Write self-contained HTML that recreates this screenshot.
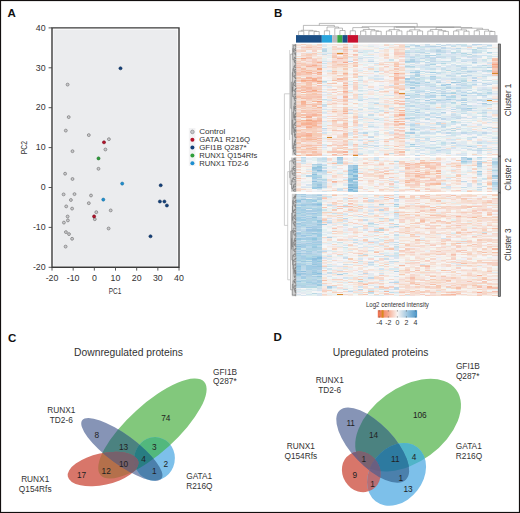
<!DOCTYPE html>
<html><head><meta charset="utf-8"><style>
html,body{margin:0;padding:0;background:#fff;}
body{width:520px;height:513px;overflow:hidden;}
svg{display:block;font-family:"Liberation Sans", sans-serif;}
</style></head><body>
<svg width="520" height="513" viewBox="0 0 520 513">
<rect width="520" height="513" fill="#fff"/>
<rect x="0.5" y="0.5" width="519" height="512" fill="none" stroke="#120e0e" stroke-width="1.2"/>
<text x="7.6" y="16.8" font-size="11.5" font-weight="bold" fill="#111">A</text>
<text x="274" y="17.2" font-size="11.5" font-weight="bold" fill="#111">B</text>
<text x="8" y="341.5" font-size="11.5" font-weight="bold" fill="#111">C</text>
<text x="273.5" y="341.3" font-size="11.5" font-weight="bold" fill="#111">D</text>
<rect x="53.4" y="29.6" width="124.0" height="236.3" fill="#ebecee"/>
<path d="M52 27.9H179V267.3H52Z" fill="none" stroke="#3a3a3a" stroke-width="1.4"/>
<line x1="48.6" x2="52" y1="27.90" y2="27.90" stroke="#444" stroke-width="0.9"/>
<text x="45.6" y="30.60" font-size="8.8" fill="#333" text-anchor="end">40</text>
<line x1="48.6" x2="52" y1="67.80" y2="67.80" stroke="#444" stroke-width="0.9"/>
<text x="45.6" y="70.50" font-size="8.8" fill="#333" text-anchor="end">30</text>
<line x1="48.6" x2="52" y1="107.70" y2="107.70" stroke="#444" stroke-width="0.9"/>
<text x="45.6" y="110.40" font-size="8.8" fill="#333" text-anchor="end">20</text>
<line x1="48.6" x2="52" y1="147.60" y2="147.60" stroke="#444" stroke-width="0.9"/>
<text x="45.6" y="150.30" font-size="8.8" fill="#333" text-anchor="end">10</text>
<line x1="48.6" x2="52" y1="187.50" y2="187.50" stroke="#444" stroke-width="0.9"/>
<text x="45.6" y="190.20" font-size="8.8" fill="#333" text-anchor="end">0</text>
<line x1="48.6" x2="52" y1="227.40" y2="227.40" stroke="#444" stroke-width="0.9"/>
<text x="45.6" y="230.10" font-size="8.8" fill="#333" text-anchor="end">-10</text>
<line x1="48.6" x2="52" y1="267.30" y2="267.30" stroke="#444" stroke-width="0.9"/>
<text x="45.6" y="270.00" font-size="8.8" fill="#333" text-anchor="end">-20</text>
<line x1="52.00" x2="52.00" y1="267.3" y2="270.6" stroke="#444" stroke-width="0.9"/>
<text x="52.00" y="280.6" font-size="8.8" fill="#333" text-anchor="middle">-20</text>
<line x1="73.17" x2="73.17" y1="267.3" y2="270.6" stroke="#444" stroke-width="0.9"/>
<text x="73.17" y="280.6" font-size="8.8" fill="#333" text-anchor="middle">-10</text>
<line x1="94.34" x2="94.34" y1="267.3" y2="270.6" stroke="#444" stroke-width="0.9"/>
<text x="94.34" y="280.6" font-size="8.8" fill="#333" text-anchor="middle">0</text>
<line x1="115.51" x2="115.51" y1="267.3" y2="270.6" stroke="#444" stroke-width="0.9"/>
<text x="115.51" y="280.6" font-size="8.8" fill="#333" text-anchor="middle">10</text>
<line x1="136.68" x2="136.68" y1="267.3" y2="270.6" stroke="#444" stroke-width="0.9"/>
<text x="136.68" y="280.6" font-size="8.8" fill="#333" text-anchor="middle">20</text>
<line x1="157.85" x2="157.85" y1="267.3" y2="270.6" stroke="#444" stroke-width="0.9"/>
<text x="157.85" y="280.6" font-size="8.8" fill="#333" text-anchor="middle">30</text>
<line x1="179.02" x2="179.02" y1="267.3" y2="270.6" stroke="#444" stroke-width="0.9"/>
<text x="179.02" y="280.6" font-size="8.8" fill="#333" text-anchor="middle">40</text>
<text x="115" y="294.3" font-size="9.5" fill="#333" text-anchor="middle" textLength="12.6" lengthAdjust="spacingAndGlyphs">PC1</text>
<text transform="translate(26.7,147.6) rotate(-90)" font-size="9.5" fill="#333" text-anchor="middle" textLength="13.2" lengthAdjust="spacingAndGlyphs">PC2</text>
<circle cx="67.6" cy="84.6" r="1.45" fill="#c9c9cb" stroke="#7d7d7f" stroke-width="0.75"/>
<circle cx="68.7" cy="117.1" r="1.45" fill="#c9c9cb" stroke="#7d7d7f" stroke-width="0.75"/>
<circle cx="65.8" cy="130.6" r="1.45" fill="#c9c9cb" stroke="#7d7d7f" stroke-width="0.75"/>
<circle cx="88.8" cy="135.1" r="1.45" fill="#c9c9cb" stroke="#7d7d7f" stroke-width="0.75"/>
<circle cx="108.9" cy="139.2" r="1.45" fill="#c9c9cb" stroke="#7d7d7f" stroke-width="0.75"/>
<circle cx="105.4" cy="149.5" r="1.45" fill="#c9c9cb" stroke="#7d7d7f" stroke-width="0.75"/>
<circle cx="72.5" cy="151.2" r="1.45" fill="#c9c9cb" stroke="#7d7d7f" stroke-width="0.75"/>
<circle cx="98.5" cy="168.8" r="1.45" fill="#c9c9cb" stroke="#7d7d7f" stroke-width="0.75"/>
<circle cx="65.1" cy="173.7" r="1.45" fill="#c9c9cb" stroke="#7d7d7f" stroke-width="0.75"/>
<circle cx="72.5" cy="179" r="1.45" fill="#c9c9cb" stroke="#7d7d7f" stroke-width="0.75"/>
<circle cx="63.6" cy="194.4" r="1.45" fill="#c9c9cb" stroke="#7d7d7f" stroke-width="0.75"/>
<circle cx="74.5" cy="194.1" r="1.45" fill="#c9c9cb" stroke="#7d7d7f" stroke-width="0.75"/>
<circle cx="91" cy="195.5" r="1.45" fill="#c9c9cb" stroke="#7d7d7f" stroke-width="0.75"/>
<circle cx="70.9" cy="200" r="1.45" fill="#c9c9cb" stroke="#7d7d7f" stroke-width="0.75"/>
<circle cx="88.8" cy="203.2" r="1.45" fill="#c9c9cb" stroke="#7d7d7f" stroke-width="0.75"/>
<circle cx="66.2" cy="206.4" r="1.45" fill="#c9c9cb" stroke="#7d7d7f" stroke-width="0.75"/>
<circle cx="72.1" cy="208.6" r="1.45" fill="#c9c9cb" stroke="#7d7d7f" stroke-width="0.75"/>
<circle cx="110.7" cy="210.4" r="1.45" fill="#c9c9cb" stroke="#7d7d7f" stroke-width="0.75"/>
<circle cx="96.3" cy="212.2" r="1.45" fill="#c9c9cb" stroke="#7d7d7f" stroke-width="0.75"/>
<circle cx="67.6" cy="216.5" r="1.45" fill="#c9c9cb" stroke="#7d7d7f" stroke-width="0.75"/>
<circle cx="67.9" cy="220.4" r="1.45" fill="#c9c9cb" stroke="#7d7d7f" stroke-width="0.75"/>
<circle cx="94.8" cy="219.2" r="1.45" fill="#c9c9cb" stroke="#7d7d7f" stroke-width="0.75"/>
<circle cx="63.9" cy="222.6" r="1.45" fill="#c9c9cb" stroke="#7d7d7f" stroke-width="0.75"/>
<circle cx="108.6" cy="228.5" r="1.45" fill="#c9c9cb" stroke="#7d7d7f" stroke-width="0.75"/>
<circle cx="65.9" cy="232.1" r="1.45" fill="#c9c9cb" stroke="#7d7d7f" stroke-width="0.75"/>
<circle cx="69" cy="234.1" r="1.45" fill="#c9c9cb" stroke="#7d7d7f" stroke-width="0.75"/>
<circle cx="72.1" cy="238.8" r="1.45" fill="#c9c9cb" stroke="#7d7d7f" stroke-width="0.75"/>
<circle cx="65.6" cy="246.6" r="1.45" fill="#c9c9cb" stroke="#7d7d7f" stroke-width="0.75"/>
<circle cx="120.5" cy="68.3" r="1.55" fill="#13407a" stroke="#0b2a52" stroke-width="0.55"/>
<circle cx="104" cy="142.3" r="1.55" fill="#b5122a" stroke="#6e0a18" stroke-width="0.55"/>
<circle cx="98.5" cy="158.4" r="1.55" fill="#2e9e3a" stroke="#1d6a26" stroke-width="0.55"/>
<circle cx="122.2" cy="183.6" r="1.55" fill="#1e8fd0" stroke="#166a9a" stroke-width="0.55"/>
<circle cx="103.3" cy="199.6" r="1.55" fill="#1e8fd0" stroke="#166a9a" stroke-width="0.55"/>
<circle cx="94.1" cy="216.4" r="1.55" fill="#b5122a" stroke="#6e0a18" stroke-width="0.55"/>
<circle cx="160.7" cy="185.3" r="1.55" fill="#13407a" stroke="#0b2a52" stroke-width="0.55"/>
<circle cx="159.9" cy="201.5" r="1.55" fill="#13407a" stroke="#0b2a52" stroke-width="0.55"/>
<circle cx="164.4" cy="201.5" r="1.55" fill="#13407a" stroke="#0b2a52" stroke-width="0.55"/>
<circle cx="166.9" cy="205.5" r="1.55" fill="#13407a" stroke="#0b2a52" stroke-width="0.55"/>
<circle cx="150.5" cy="236.3" r="1.55" fill="#13407a" stroke="#0b2a52" stroke-width="0.55"/>
<rect x="188.8" y="128" width="6.6" height="38" fill="#f3f3f4"/>
<circle cx="192.4" cy="131.9" r="1.8" fill="#c9c9cb" stroke="#8a8a8c" stroke-width="0.7"/>
<text x="199.2" y="134.20" font-size="8.1" fill="#333" textLength="26.2" lengthAdjust="spacingAndGlyphs">Control</text>
<circle cx="192.4" cy="139.73" r="2" fill="#b5122a"/>
<text x="199.2" y="142.03" font-size="8.1" fill="#333" textLength="50.8" lengthAdjust="spacingAndGlyphs">GATA1 R216Q</text>
<circle cx="192.4" cy="147.56" r="2" fill="#13407a"/>
<text x="199.2" y="149.86" font-size="8.1" fill="#333" textLength="47.4" lengthAdjust="spacingAndGlyphs">GFI1B Q287*</text>
<circle cx="192.4" cy="155.39" r="2" fill="#2e9e3a"/>
<text x="199.2" y="157.69" font-size="8.1" fill="#333" textLength="58.1" lengthAdjust="spacingAndGlyphs">RUNX1 Q154Rfs</text>
<circle cx="192.4" cy="163.22" r="2" fill="#1e8fd0"/>
<text x="199.2" y="165.52" font-size="8.1" fill="#333" textLength="49.3" lengthAdjust="spacingAndGlyphs">RUNX1 TD2-6</text>
<defs><filter id="hb" x="-1%" y="-1%" width="102%" height="102%"><feGaussianBlur stdDeviation="0.4"/></filter></defs>
<g filter="url(#hb)"><g transform="translate(296.0,43.7) scale(5.1667,1)" shape-rendering="crispEdges"><path fill="#f6e4de" d="M0 0.00h1v1.17h-1zM7 0.00h1v1.17h-1zM8 1.12h1v1.17h-1zM19 2.24h1v1.17h-1zM0 3.37h1v1.17h-1zM0 5.61h1v1.17h-1zM11 5.61h1v1.17h-1zM7 6.73h1v1.17h-1zM10 10.10h1v1.17h-1zM3 12.34h1v1.17h-1zM4 12.34h1v1.17h-1zM11 12.34h1v1.17h-1zM1 13.46h1v1.17h-1zM20 13.46h1v1.17h-1zM4 15.71h1v1.17h-1zM2 17.95h1v1.17h-1zM6 17.95h1v1.17h-1zM16 17.95h1v1.17h-1zM9 19.07h1v1.17h-1zM20 19.07h1v1.17h-1zM12 20.20h1v1.17h-1zM15 20.20h1v1.17h-1zM37 20.20h1v1.17h-1zM18 21.32h1v1.17h-1zM14 22.44h1v1.17h-1zM20 22.44h1v1.17h-1zM6 23.56h1v1.17h-1zM10 23.56h1v1.17h-1zM13 23.56h1v1.17h-1zM11 24.68h1v1.17h-1zM12 28.05h1v1.17h-1zM19 28.05h1v1.17h-1zM8 29.17h1v1.17h-1zM14 29.17h1v1.17h-1zM20 31.42h1v1.17h-1zM0 32.54h1v1.17h-1zM14 34.78h1v1.17h-1zM38 34.78h1v1.17h-1zM9 37.03h1v1.17h-1zM17 37.03h1v1.17h-1zM7 38.15h1v1.17h-1zM13 38.15h1v1.17h-1zM18 38.15h1v1.17h-1zM19 41.51h1v1.17h-1zM19 44.88h1v1.17h-1zM11 46.00h1v1.17h-1zM1 47.12h1v1.17h-1zM6 48.25h1v1.17h-1zM16 48.25h1v1.17h-1zM17 48.25h1v1.17h-1zM8 49.37h1v1.17h-1zM14 49.37h1v1.17h-1zM19 51.61h1v1.17h-1zM7 52.73h1v1.17h-1zM10 53.86h1v1.17h-1zM17 53.86h1v1.17h-1zM0 56.10h1v1.17h-1zM4 56.10h1v1.17h-1zM8 56.10h1v1.17h-1zM20 56.10h1v1.17h-1zM6 57.22h1v1.17h-1zM17 57.22h1v1.17h-1zM19 57.22h1v1.17h-1zM9 58.34h1v1.17h-1zM6 59.47h1v1.17h-1zM4 61.71h1v1.17h-1zM11 62.83h1v1.17h-1zM19 63.95h1v1.17h-1zM10 66.20h1v1.17h-1zM0 67.32h1v1.17h-1zM18 67.32h1v1.17h-1zM20 67.32h1v1.17h-1zM8 68.44h1v1.17h-1zM6 69.56h1v1.17h-1zM9 70.69h1v1.17h-1zM8 71.81h1v1.17h-1zM9 72.93h1v1.17h-1zM20 72.93h1v1.17h-1zM0 74.05h1v1.17h-1zM13 74.05h1v1.17h-1zM36 79.66h1v1.17h-1zM20 80.78h1v1.17h-1zM11 81.91h1v1.17h-1zM33 81.91h1v1.17h-1zM0 84.15h1v1.17h-1zM31 84.15h1v1.17h-1zM9 86.39h1v1.17h-1zM8 87.52h1v1.17h-1zM38 87.52h1v1.17h-1zM9 88.64h1v1.17h-1zM19 88.64h1v1.17h-1zM7 89.76h1v1.17h-1zM8 89.76h1v1.17h-1zM6 90.88h1v1.17h-1zM20 93.13h1v1.17h-1zM8 94.25h1v1.17h-1zM29 94.25h1v1.17h-1zM35 95.37h1v1.17h-1zM17 96.49h1v1.17h-1zM35 96.49h1v1.17h-1zM8 97.61h1v1.17h-1zM37 97.61h1v1.17h-1zM7 98.74h1v1.17h-1zM20 98.74h1v1.17h-1zM8 99.86h1v1.17h-1zM18 100.98h1v1.17h-1zM6 102.10h1v1.17h-1zM1 103.22h1v1.17h-1zM20 103.22h1v1.17h-1zM1 104.35h1v1.17h-1zM18 104.35h1v1.17h-1zM16 106.59h1v1.17h-1zM18 106.59h1v1.17h-1zM2 108.83h1v1.17h-1zM10 109.96h1v1.17h-1zM12 111.08h1v1.17h-1zM17 111.08h1v1.17h-1zM24 111.08h1v1.17h-1zM35 111.08h1v1.17h-1zM27 113.60h1v1.18h-1zM37 113.60h1v1.18h-1zM9 114.73h1v1.18h-1zM30 114.73h1v1.18h-1zM17 115.86h1v1.18h-1zM7 118.13h1v1.18h-1zM16 118.13h1v1.18h-1zM30 118.13h1v1.18h-1zM31 118.13h1v1.18h-1zM29 119.26h1v1.18h-1zM34 119.26h1v1.18h-1zM2 120.39h1v1.18h-1zM15 120.39h1v1.18h-1zM18 120.39h1v1.18h-1zM30 121.53h1v1.18h-1zM32 121.53h1v1.18h-1zM1 122.66h1v1.18h-1zM8 123.79h1v1.18h-1zM37 123.79h1v1.18h-1zM9 126.05h1v1.18h-1zM20 126.05h1v1.18h-1zM6 127.19h1v1.18h-1zM31 127.19h1v1.18h-1zM34 127.19h1v1.18h-1zM13 128.32h1v1.18h-1zM20 128.32h1v1.18h-1zM22 128.32h1v1.18h-1zM31 128.32h1v1.18h-1zM2 129.45h1v1.18h-1zM22 132.85h1v1.18h-1zM1 133.98h1v1.18h-1zM13 133.98h1v1.18h-1zM34 133.98h1v1.18h-1zM19 135.11h1v1.18h-1zM26 137.38h1v1.18h-1zM14 138.51h1v1.18h-1zM25 138.51h1v1.18h-1zM36 138.51h1v1.18h-1zM0 139.64h1v1.18h-1zM20 139.64h1v1.18h-1zM21 139.64h1v1.18h-1zM24 140.77h1v1.18h-1zM6 143.04h1v1.18h-1zM30 143.04h1v1.18h-1zM31 143.04h1v1.18h-1zM7 144.17h1v1.18h-1zM15 144.17h1v1.18h-1zM23 145.30h1v1.18h-1zM27 145.30h1v1.18h-1zM37 145.30h1v1.18h-1zM6 146.44h1v1.18h-1zM21 146.44h1v1.18h-1zM2 147.57h1v1.18h-1zM9 147.57h1v1.18h-1zM20 147.57h1v1.18h-1zM30 147.57h1v1.18h-1zM34 147.57h1v1.18h-1zM35 150.00h1v1.17h-1zM5 151.12h1v1.17h-1zM28 151.12h1v1.17h-1zM31 151.12h1v1.17h-1zM28 152.23h1v1.17h-1zM11 153.35h1v1.17h-1zM23 153.35h1v1.17h-1zM26 153.35h1v1.17h-1zM30 153.35h1v1.17h-1zM11 154.47h1v1.17h-1zM30 154.47h1v1.17h-1zM37 154.47h1v1.17h-1zM22 155.58h1v1.17h-1zM16 156.70h1v1.17h-1zM23 156.70h1v1.17h-1zM6 157.81h1v1.17h-1zM11 157.81h1v1.17h-1zM35 157.81h1v1.17h-1zM38 157.81h1v1.17h-1zM22 158.93h1v1.17h-1zM32 158.93h1v1.17h-1zM35 158.93h1v1.17h-1zM5 160.05h1v1.17h-1zM25 161.16h1v1.17h-1zM34 161.16h1v1.17h-1zM7 162.28h1v1.17h-1zM10 163.40h1v1.17h-1zM17 163.40h1v1.17h-1zM22 163.40h1v1.17h-1zM23 163.40h1v1.17h-1zM10 164.51h1v1.17h-1zM23 165.63h1v1.17h-1zM25 165.63h1v1.17h-1zM31 165.63h1v1.17h-1zM38 165.63h1v1.17h-1zM20 166.74h1v1.17h-1zM26 166.74h1v1.17h-1zM32 166.74h1v1.17h-1zM33 166.74h1v1.17h-1zM30 167.86h1v1.17h-1zM16 168.98h1v1.17h-1zM20 170.09h1v1.17h-1zM32 170.09h1v1.17h-1zM33 170.09h1v1.17h-1zM34 170.09h1v1.17h-1zM35 170.09h1v1.17h-1zM5 171.21h1v1.17h-1zM11 172.33h1v1.17h-1zM22 172.33h1v1.17h-1zM24 172.33h1v1.17h-1zM30 172.33h1v1.17h-1zM33 172.33h1v1.17h-1zM29 173.44h1v1.17h-1zM30 173.44h1v1.17h-1zM15 174.56h1v1.17h-1zM22 174.56h1v1.17h-1zM7 175.68h1v1.17h-1zM17 175.68h1v1.17h-1zM21 175.68h1v1.17h-1zM36 176.79h1v1.17h-1zM38 176.79h1v1.17h-1zM27 177.91h1v1.17h-1zM30 177.91h1v1.17h-1zM25 179.02h1v1.17h-1zM7 180.14h1v1.17h-1zM21 180.14h1v1.17h-1zM24 180.14h1v1.17h-1zM30 180.14h1v1.17h-1zM34 180.14h1v1.17h-1zM23 181.26h1v1.17h-1zM29 181.26h1v1.17h-1zM22 182.37h1v1.17h-1zM31 182.37h1v1.17h-1zM35 182.37h1v1.17h-1zM7 183.49h1v1.17h-1zM8 183.49h1v1.17h-1zM13 183.49h1v1.17h-1zM32 183.49h1v1.17h-1zM15 184.61h1v1.17h-1zM20 184.61h1v1.17h-1zM22 184.61h1v1.17h-1zM31 184.61h1v1.17h-1zM11 185.72h1v1.17h-1zM22 185.72h1v1.17h-1zM26 185.72h1v1.17h-1zM27 185.72h1v1.17h-1zM28 185.72h1v1.17h-1zM30 185.72h1v1.17h-1zM20 186.84h1v1.17h-1zM35 186.84h1v1.17h-1zM38 186.84h1v1.17h-1zM9 187.95h1v1.17h-1zM37 187.95h1v1.17h-1zM18 189.07h1v1.17h-1zM32 189.07h1v1.17h-1zM33 189.07h1v1.17h-1zM24 190.19h1v1.17h-1zM33 190.19h1v1.17h-1zM34 190.19h1v1.17h-1zM36 190.19h1v1.17h-1zM30 191.30h1v1.17h-1zM32 191.30h1v1.17h-1zM37 191.30h1v1.17h-1zM7 192.42h1v1.17h-1zM10 192.42h1v1.17h-1zM14 192.42h1v1.17h-1zM25 192.42h1v1.17h-1zM10 193.54h1v1.17h-1zM12 193.54h1v1.17h-1zM27 193.54h1v1.17h-1zM30 193.54h1v1.17h-1zM32 194.65h1v1.17h-1zM36 194.65h1v1.17h-1zM37 194.65h1v1.17h-1zM12 195.77h1v1.17h-1zM27 195.77h1v1.17h-1zM5 198.00h1v1.17h-1zM11 199.12h1v1.17h-1zM22 199.12h1v1.17h-1zM26 199.12h1v1.17h-1zM27 199.12h1v1.17h-1zM22 200.23h1v1.17h-1zM38 200.23h1v1.17h-1zM17 201.35h1v1.17h-1zM38 201.35h1v1.17h-1zM7 202.47h1v1.17h-1zM13 203.58h1v1.17h-1zM18 203.58h1v1.17h-1zM26 203.58h1v1.17h-1zM23 204.70h1v1.17h-1zM13 205.82h1v1.17h-1zM36 205.82h1v1.17h-1zM37 205.82h1v1.17h-1zM12 206.93h1v1.17h-1zM21 206.93h1v1.17h-1zM23 206.93h1v1.17h-1zM28 206.93h1v1.17h-1zM30 206.93h1v1.17h-1zM20 208.05h1v1.17h-1zM26 208.05h1v1.17h-1zM27 208.05h1v1.17h-1zM29 208.05h1v1.17h-1zM31 208.05h1v1.17h-1zM22 209.16h1v1.17h-1zM6 210.28h1v1.17h-1zM12 210.28h1v1.17h-1zM35 210.28h1v1.17h-1zM33 211.40h1v1.17h-1zM5 212.51h1v1.17h-1zM23 212.51h1v1.17h-1zM29 212.51h1v1.17h-1zM32 213.63h1v1.17h-1zM12 215.86h1v1.17h-1zM31 215.86h1v1.17h-1zM13 216.98h1v1.17h-1zM28 216.98h1v1.17h-1zM19 218.09h1v1.17h-1zM5 219.21h1v1.17h-1zM31 219.21h1v1.17h-1zM35 219.21h1v1.17h-1zM36 219.21h1v1.17h-1zM22 220.33h1v1.17h-1zM23 221.44h1v1.17h-1zM28 221.44h1v1.17h-1zM30 221.44h1v1.17h-1zM22 222.56h1v1.17h-1zM26 222.56h1v1.17h-1zM28 222.56h1v1.17h-1zM10 223.68h1v1.17h-1zM12 223.68h1v1.17h-1zM36 223.68h1v1.17h-1zM17 224.79h1v1.17h-1zM23 224.79h1v1.17h-1zM25 224.79h1v1.17h-1zM30 224.79h1v1.17h-1zM32 224.79h1v1.17h-1zM14 225.91h1v1.17h-1zM10 227.02h1v1.17h-1zM13 227.02h1v1.17h-1zM33 227.02h1v1.17h-1zM28 228.14h1v1.17h-1zM35 228.14h1v1.17h-1zM21 229.26h1v1.17h-1zM25 229.26h1v1.17h-1zM23 230.37h1v1.17h-1zM25 230.37h1v1.17h-1zM30 230.37h1v1.17h-1zM34 230.37h1v1.17h-1zM13 232.61h1v1.17h-1zM23 232.61h1v1.17h-1zM27 232.61h1v1.17h-1zM33 232.61h1v1.17h-1zM35 232.61h1v1.17h-1zM24 233.72h1v1.17h-1zM27 233.72h1v1.17h-1zM14 234.84h1v1.17h-1zM30 234.84h1v1.17h-1zM13 235.96h1v1.17h-1zM33 235.96h1v1.17h-1zM16 237.07h1v1.17h-1zM20 237.07h1v1.17h-1zM28 237.07h1v1.17h-1zM32 237.07h1v1.17h-1zM33 238.19h1v1.17h-1zM20 239.30h1v1.17h-1zM21 239.30h1v1.17h-1zM24 239.30h1v1.17h-1zM26 239.30h1v1.17h-1zM32 239.30h1v1.17h-1zM8 240.42h1v1.17h-1zM24 240.42h1v1.17h-1zM29 240.42h1v1.17h-1zM30 240.42h1v1.17h-1zM6 241.54h1v1.17h-1zM28 241.54h1v1.17h-1zM31 241.54h1v1.17h-1zM33 241.54h1v1.17h-1zM28 242.65h1v1.17h-1zM30 242.65h1v1.17h-1zM36 242.65h1v1.17h-1zM5 243.77h1v1.17h-1zM9 243.77h1v1.17h-1zM23 243.77h1v1.17h-1zM21 244.89h1v1.17h-1zM27 244.89h1v1.17h-1zM37 244.89h1v1.17h-1zM28 246.00h1v1.17h-1zM36 246.00h1v1.17h-1zM11 247.12h1v1.17h-1zM26 247.12h1v1.17h-1zM32 248.23h1v1.17h-1zM30 249.35h1v1.17h-1zM37 249.35h1v1.17h-1zM38 249.35h1v1.17h-1z"/><path fill="#f6d2c0" d="M1 0.00h1v1.17h-1zM19 5.61h1v1.17h-1zM1 6.73h1v1.17h-1zM20 7.85h1v1.17h-1zM20 10.10h1v1.17h-1zM17 11.22h1v1.17h-1zM9 12.34h1v1.17h-1zM0 16.83h1v1.17h-1zM4 16.83h1v1.17h-1zM9 16.83h1v1.17h-1zM19 17.95h1v1.17h-1zM16 20.20h1v1.17h-1zM8 21.32h1v1.17h-1zM19 21.32h1v1.17h-1zM4 22.44h1v1.17h-1zM7 23.56h1v1.17h-1zM1 25.81h1v1.17h-1zM3 25.81h1v1.17h-1zM2 26.93h1v1.17h-1zM8 31.42h1v1.17h-1zM18 32.54h1v1.17h-1zM19 32.54h1v1.17h-1zM11 33.66h1v1.17h-1zM2 34.78h1v1.17h-1zM0 37.03h1v1.17h-1zM0 41.51h1v1.17h-1zM1 41.51h1v1.17h-1zM11 42.64h1v1.17h-1zM19 42.64h1v1.17h-1zM4 43.76h1v1.17h-1zM20 43.76h1v1.17h-1zM9 49.37h1v1.17h-1zM0 51.61h1v1.17h-1zM4 51.61h1v1.17h-1zM3 53.86h1v1.17h-1zM7 56.10h1v1.17h-1zM3 59.47h1v1.17h-1zM11 59.47h1v1.17h-1zM6 60.59h1v1.17h-1zM2 62.83h1v1.17h-1zM20 62.83h1v1.17h-1zM4 63.95h1v1.17h-1zM4 67.32h1v1.17h-1zM0 68.44h1v1.17h-1zM3 68.44h1v1.17h-1zM4 71.81h1v1.17h-1zM4 72.93h1v1.17h-1zM0 75.17h1v1.17h-1zM20 75.17h1v1.17h-1zM0 76.30h1v1.17h-1zM11 76.30h1v1.17h-1zM11 77.42h1v1.17h-1zM0 78.54h1v1.17h-1zM9 81.91h1v1.17h-1zM3 85.27h1v1.17h-1zM2 86.39h1v1.17h-1zM3 86.39h1v1.17h-1zM0 87.52h1v1.17h-1zM3 88.64h1v1.17h-1zM3 92.00h1v1.17h-1zM9 93.13h1v1.17h-1zM11 93.13h1v1.17h-1zM10 95.37h1v1.17h-1zM9 96.49h1v1.17h-1zM20 97.61h1v1.17h-1zM1 99.86h1v1.17h-1zM4 103.22h1v1.17h-1zM0 104.35h1v1.17h-1zM3 104.35h1v1.17h-1zM10 105.47h1v1.17h-1zM19 105.47h1v1.17h-1zM2 107.71h1v1.17h-1zM8 111.08h1v1.17h-1zM0 115.86h1v1.18h-1zM15 115.86h1v1.18h-1zM20 117.00h1v1.18h-1zM36 118.13h1v1.18h-1zM9 119.26h1v1.18h-1zM18 119.26h1v1.18h-1zM20 119.26h1v1.18h-1zM30 119.26h1v1.18h-1zM21 120.39h1v1.18h-1zM25 120.39h1v1.18h-1zM23 121.53h1v1.18h-1zM24 121.53h1v1.18h-1zM26 121.53h1v1.18h-1zM34 121.53h1v1.18h-1zM30 122.66h1v1.18h-1zM25 127.19h1v1.18h-1zM6 128.32h1v1.18h-1zM23 130.58h1v1.18h-1zM23 132.85h1v1.18h-1zM34 132.85h1v1.18h-1zM37 132.85h1v1.18h-1zM28 136.25h1v1.18h-1zM31 136.25h1v1.18h-1zM34 136.25h1v1.18h-1zM22 137.38h1v1.18h-1zM23 138.51h1v1.18h-1zM37 138.51h1v1.18h-1zM25 139.64h1v1.18h-1zM21 140.77h1v1.18h-1zM23 140.77h1v1.18h-1zM16 145.30h1v1.18h-1zM7 146.44h1v1.18h-1zM26 147.57h1v1.18h-1zM38 150.00h1v1.17h-1zM15 151.12h1v1.17h-1zM18 151.12h1v1.17h-1zM27 151.12h1v1.17h-1zM22 152.23h1v1.17h-1zM31 152.23h1v1.17h-1zM22 153.35h1v1.17h-1zM17 155.58h1v1.17h-1zM26 155.58h1v1.17h-1zM32 155.58h1v1.17h-1zM36 157.81h1v1.17h-1zM23 158.93h1v1.17h-1zM28 158.93h1v1.17h-1zM27 162.28h1v1.17h-1zM29 162.28h1v1.17h-1zM11 163.40h1v1.17h-1zM28 163.40h1v1.17h-1zM32 163.40h1v1.17h-1zM12 164.51h1v1.17h-1zM27 164.51h1v1.17h-1zM5 167.86h1v1.17h-1zM6 167.86h1v1.17h-1zM20 167.86h1v1.17h-1zM37 168.98h1v1.17h-1zM8 171.21h1v1.17h-1zM20 171.21h1v1.17h-1zM37 171.21h1v1.17h-1zM35 172.33h1v1.17h-1zM25 173.44h1v1.17h-1zM38 173.44h1v1.17h-1zM17 174.56h1v1.17h-1zM16 176.79h1v1.17h-1zM30 176.79h1v1.17h-1zM5 177.91h1v1.17h-1zM24 177.91h1v1.17h-1zM18 179.02h1v1.17h-1zM22 179.02h1v1.17h-1zM33 179.02h1v1.17h-1zM27 181.26h1v1.17h-1zM29 182.37h1v1.17h-1zM23 183.49h1v1.17h-1zM32 185.72h1v1.17h-1zM36 185.72h1v1.17h-1zM21 186.84h1v1.17h-1zM20 187.95h1v1.17h-1zM21 189.07h1v1.17h-1zM22 192.42h1v1.17h-1zM29 192.42h1v1.17h-1zM17 195.77h1v1.17h-1zM24 195.77h1v1.17h-1zM28 196.88h1v1.17h-1zM17 198.00h1v1.17h-1zM25 199.12h1v1.17h-1zM30 199.12h1v1.17h-1zM10 201.35h1v1.17h-1zM37 202.47h1v1.17h-1zM31 203.58h1v1.17h-1zM7 204.70h1v1.17h-1zM36 204.70h1v1.17h-1zM15 206.93h1v1.17h-1zM33 209.16h1v1.17h-1zM8 210.28h1v1.17h-1zM20 210.28h1v1.17h-1zM25 210.28h1v1.17h-1zM28 210.28h1v1.17h-1zM33 210.28h1v1.17h-1zM35 215.86h1v1.17h-1zM17 220.33h1v1.17h-1zM33 221.44h1v1.17h-1zM38 221.44h1v1.17h-1zM24 222.56h1v1.17h-1zM21 224.79h1v1.17h-1zM34 225.91h1v1.17h-1zM8 227.02h1v1.17h-1zM22 227.02h1v1.17h-1zM33 231.49h1v1.17h-1zM8 234.84h1v1.17h-1zM21 237.07h1v1.17h-1zM10 238.19h1v1.17h-1zM26 238.19h1v1.17h-1zM5 239.30h1v1.17h-1zM14 239.30h1v1.17h-1zM16 239.30h1v1.17h-1zM35 239.30h1v1.17h-1zM32 240.42h1v1.17h-1zM7 241.54h1v1.17h-1zM30 241.54h1v1.17h-1zM32 241.54h1v1.17h-1zM35 241.54h1v1.17h-1zM23 242.65h1v1.17h-1zM35 244.89h1v1.17h-1zM6 246.00h1v1.17h-1zM23 246.00h1v1.17h-1zM5 247.12h1v1.17h-1zM24 247.12h1v1.17h-1zM25 247.12h1v1.17h-1zM31 247.12h1v1.17h-1zM7 248.23h1v1.17h-1zM37 248.23h1v1.17h-1zM17 250.47h1v1.17h-1zM18 250.47h1v1.17h-1zM21 250.47h1v1.17h-1zM29 251.58h1v1.17h-1zM38 251.58h1v1.17h-1z"/><path fill="#f6e4d8" d="M2 0.00h1v1.17h-1zM8 0.00h1v1.17h-1zM3 1.12h1v1.17h-1zM9 1.12h1v1.17h-1zM19 3.37h1v1.17h-1zM19 4.49h1v1.17h-1zM20 4.49h1v1.17h-1zM17 6.73h1v1.17h-1zM20 6.73h1v1.17h-1zM7 7.85h1v1.17h-1zM17 8.98h1v1.17h-1zM14 10.10h1v1.17h-1zM4 13.46h1v1.17h-1zM19 13.46h1v1.17h-1zM7 14.59h1v1.17h-1zM19 14.59h1v1.17h-1zM0 15.71h1v1.17h-1zM6 19.07h1v1.17h-1zM1 22.44h1v1.17h-1zM8 23.56h1v1.17h-1zM9 23.56h1v1.17h-1zM16 23.56h1v1.17h-1zM17 23.56h1v1.17h-1zM7 24.68h1v1.17h-1zM7 25.81h1v1.17h-1zM9 25.81h1v1.17h-1zM19 25.81h1v1.17h-1zM8 26.93h1v1.17h-1zM9 26.93h1v1.17h-1zM13 26.93h1v1.17h-1zM20 28.05h1v1.17h-1zM13 29.17h1v1.17h-1zM4 31.42h1v1.17h-1zM7 32.54h1v1.17h-1zM8 32.54h1v1.17h-1zM9 32.54h1v1.17h-1zM7 33.66h1v1.17h-1zM20 35.90h1v1.17h-1zM18 37.03h1v1.17h-1zM1 40.39h1v1.17h-1zM7 42.64h1v1.17h-1zM17 43.76h1v1.17h-1zM0 44.88h1v1.17h-1zM6 46.00h1v1.17h-1zM7 46.00h1v1.17h-1zM14 50.49h1v1.17h-1zM7 51.61h1v1.17h-1zM20 51.61h1v1.17h-1zM6 52.73h1v1.17h-1zM19 52.73h1v1.17h-1zM1 54.98h1v1.17h-1zM2 57.22h1v1.17h-1zM18 57.22h1v1.17h-1zM7 58.34h1v1.17h-1zM2 59.47h1v1.17h-1zM8 59.47h1v1.17h-1zM18 59.47h1v1.17h-1zM7 60.59h1v1.17h-1zM15 60.59h1v1.17h-1zM1 65.08h1v1.17h-1zM7 66.20h1v1.17h-1zM8 66.20h1v1.17h-1zM11 66.20h1v1.17h-1zM17 66.20h1v1.17h-1zM6 67.32h1v1.17h-1zM11 67.32h1v1.17h-1zM17 69.56h1v1.17h-1zM11 70.69h1v1.17h-1zM1 71.81h1v1.17h-1zM19 72.93h1v1.17h-1zM6 74.05h1v1.17h-1zM6 76.30h1v1.17h-1zM6 77.42h1v1.17h-1zM35 77.42h1v1.17h-1zM36 78.54h1v1.17h-1zM38 78.54h1v1.17h-1zM26 79.66h1v1.17h-1zM10 81.91h1v1.17h-1zM34 81.91h1v1.17h-1zM7 83.03h1v1.17h-1zM13 83.03h1v1.17h-1zM7 84.15h1v1.17h-1zM11 86.39h1v1.17h-1zM5 89.76h1v1.17h-1zM13 89.76h1v1.17h-1zM18 89.76h1v1.17h-1zM19 90.88h1v1.17h-1zM1 93.13h1v1.17h-1zM6 94.25h1v1.17h-1zM7 94.25h1v1.17h-1zM9 94.25h1v1.17h-1zM11 95.37h1v1.17h-1zM19 95.37h1v1.17h-1zM22 95.37h1v1.17h-1zM19 96.49h1v1.17h-1zM33 96.49h1v1.17h-1zM19 97.61h1v1.17h-1zM3 98.74h1v1.17h-1zM20 99.86h1v1.17h-1zM30 102.10h1v1.17h-1zM13 103.22h1v1.17h-1zM37 105.47h1v1.17h-1zM0 106.59h1v1.17h-1zM8 106.59h1v1.17h-1zM11 106.59h1v1.17h-1zM17 106.59h1v1.17h-1zM19 106.59h1v1.17h-1zM11 108.83h1v1.17h-1zM20 108.83h1v1.17h-1zM6 111.08h1v1.17h-1zM29 111.08h1v1.17h-1zM0 113.60h1v1.18h-1zM16 113.60h1v1.18h-1zM14 115.86h1v1.18h-1zM22 115.86h1v1.18h-1zM9 117.00h1v1.18h-1zM17 117.00h1v1.18h-1zM18 117.00h1v1.18h-1zM14 118.13h1v1.18h-1zM22 118.13h1v1.18h-1zM10 119.26h1v1.18h-1zM37 119.26h1v1.18h-1zM24 120.39h1v1.18h-1zM30 120.39h1v1.18h-1zM34 120.39h1v1.18h-1zM13 121.53h1v1.18h-1zM12 123.79h1v1.18h-1zM15 123.79h1v1.18h-1zM23 123.79h1v1.18h-1zM27 123.79h1v1.18h-1zM0 126.05h1v1.18h-1zM7 126.05h1v1.18h-1zM14 126.05h1v1.18h-1zM21 126.05h1v1.18h-1zM15 127.19h1v1.18h-1zM27 128.32h1v1.18h-1zM33 128.32h1v1.18h-1zM1 129.45h1v1.18h-1zM8 130.58h1v1.18h-1zM16 130.58h1v1.18h-1zM22 130.58h1v1.18h-1zM19 132.85h1v1.18h-1zM21 132.85h1v1.18h-1zM15 135.11h1v1.18h-1zM37 135.11h1v1.18h-1zM20 136.25h1v1.18h-1zM20 137.38h1v1.18h-1zM28 137.38h1v1.18h-1zM17 138.51h1v1.18h-1zM14 139.64h1v1.18h-1zM30 139.64h1v1.18h-1zM0 140.77h1v1.18h-1zM18 140.77h1v1.18h-1zM26 140.77h1v1.18h-1zM37 140.77h1v1.18h-1zM12 141.91h1v1.18h-1zM17 141.91h1v1.18h-1zM21 141.91h1v1.18h-1zM25 141.91h1v1.18h-1zM12 143.04h1v1.18h-1zM24 143.04h1v1.18h-1zM17 144.17h1v1.18h-1zM28 144.17h1v1.18h-1zM20 145.30h1v1.18h-1zM18 146.44h1v1.18h-1zM34 146.44h1v1.18h-1zM28 147.57h1v1.18h-1zM35 147.57h1v1.18h-1zM27 150.00h1v1.17h-1zM32 150.00h1v1.17h-1zM10 151.12h1v1.17h-1zM29 151.12h1v1.17h-1zM15 152.23h1v1.17h-1zM9 153.35h1v1.17h-1zM27 153.35h1v1.17h-1zM34 154.47h1v1.17h-1zM35 156.70h1v1.17h-1zM13 157.81h1v1.17h-1zM28 157.81h1v1.17h-1zM29 157.81h1v1.17h-1zM31 157.81h1v1.17h-1zM34 157.81h1v1.17h-1zM16 158.93h1v1.17h-1zM17 158.93h1v1.17h-1zM21 158.93h1v1.17h-1zM27 158.93h1v1.17h-1zM30 158.93h1v1.17h-1zM31 158.93h1v1.17h-1zM37 158.93h1v1.17h-1zM20 162.28h1v1.17h-1zM22 162.28h1v1.17h-1zM16 163.40h1v1.17h-1zM21 163.40h1v1.17h-1zM35 163.40h1v1.17h-1zM36 163.40h1v1.17h-1zM19 164.51h1v1.17h-1zM22 164.51h1v1.17h-1zM23 164.51h1v1.17h-1zM24 164.51h1v1.17h-1zM34 164.51h1v1.17h-1zM11 165.63h1v1.17h-1zM24 165.63h1v1.17h-1zM30 165.63h1v1.17h-1zM34 165.63h1v1.17h-1zM16 166.74h1v1.17h-1zM29 166.74h1v1.17h-1zM31 166.74h1v1.17h-1zM37 166.74h1v1.17h-1zM7 167.86h1v1.17h-1zM10 167.86h1v1.17h-1zM22 167.86h1v1.17h-1zM25 167.86h1v1.17h-1zM27 167.86h1v1.17h-1zM5 168.98h1v1.17h-1zM28 170.09h1v1.17h-1zM29 170.09h1v1.17h-1zM7 171.21h1v1.17h-1zM21 171.21h1v1.17h-1zM34 171.21h1v1.17h-1zM6 172.33h1v1.17h-1zM14 172.33h1v1.17h-1zM20 172.33h1v1.17h-1zM21 172.33h1v1.17h-1zM20 173.44h1v1.17h-1zM24 173.44h1v1.17h-1zM28 173.44h1v1.17h-1zM32 173.44h1v1.17h-1zM35 173.44h1v1.17h-1zM23 174.56h1v1.17h-1zM26 174.56h1v1.17h-1zM27 174.56h1v1.17h-1zM11 175.68h1v1.17h-1zM34 175.68h1v1.17h-1zM35 175.68h1v1.17h-1zM8 176.79h1v1.17h-1zM17 176.79h1v1.17h-1zM22 176.79h1v1.17h-1zM7 177.91h1v1.17h-1zM31 177.91h1v1.17h-1zM34 177.91h1v1.17h-1zM9 179.02h1v1.17h-1zM37 179.02h1v1.17h-1zM12 180.14h1v1.17h-1zM33 180.14h1v1.17h-1zM38 181.26h1v1.17h-1zM23 182.37h1v1.17h-1zM27 182.37h1v1.17h-1zM36 182.37h1v1.17h-1zM22 183.49h1v1.17h-1zM29 183.49h1v1.17h-1zM30 183.49h1v1.17h-1zM11 184.61h1v1.17h-1zM24 184.61h1v1.17h-1zM32 184.61h1v1.17h-1zM20 185.72h1v1.17h-1zM38 185.72h1v1.17h-1zM23 186.84h1v1.17h-1zM8 187.95h1v1.17h-1zM18 187.95h1v1.17h-1zM21 187.95h1v1.17h-1zM28 187.95h1v1.17h-1zM29 187.95h1v1.17h-1zM8 189.07h1v1.17h-1zM11 189.07h1v1.17h-1zM35 189.07h1v1.17h-1zM30 190.19h1v1.17h-1zM26 191.30h1v1.17h-1zM31 191.30h1v1.17h-1zM38 192.42h1v1.17h-1zM16 193.54h1v1.17h-1zM20 193.54h1v1.17h-1zM21 193.54h1v1.17h-1zM25 193.54h1v1.17h-1zM35 193.54h1v1.17h-1zM10 195.77h1v1.17h-1zM20 195.77h1v1.17h-1zM21 195.77h1v1.17h-1zM22 196.88h1v1.17h-1zM23 196.88h1v1.17h-1zM38 196.88h1v1.17h-1zM24 198.00h1v1.17h-1zM27 198.00h1v1.17h-1zM34 198.00h1v1.17h-1zM21 199.12h1v1.17h-1zM33 199.12h1v1.17h-1zM27 200.23h1v1.17h-1zM22 201.35h1v1.17h-1zM23 201.35h1v1.17h-1zM25 201.35h1v1.17h-1zM21 202.47h1v1.17h-1zM32 202.47h1v1.17h-1zM33 202.47h1v1.17h-1zM8 203.58h1v1.17h-1zM24 203.58h1v1.17h-1zM5 204.70h1v1.17h-1zM10 204.70h1v1.17h-1zM27 204.70h1v1.17h-1zM23 205.82h1v1.17h-1zM30 205.82h1v1.17h-1zM34 205.82h1v1.17h-1zM16 206.93h1v1.17h-1zM29 206.93h1v1.17h-1zM33 206.93h1v1.17h-1zM34 206.93h1v1.17h-1zM37 206.93h1v1.17h-1zM30 208.05h1v1.17h-1zM37 208.05h1v1.17h-1zM21 209.16h1v1.17h-1zM24 209.16h1v1.17h-1zM27 209.16h1v1.17h-1zM38 209.16h1v1.17h-1zM21 210.28h1v1.17h-1zM26 210.28h1v1.17h-1zM34 210.28h1v1.17h-1zM22 211.40h1v1.17h-1zM25 211.40h1v1.17h-1zM34 211.40h1v1.17h-1zM12 212.51h1v1.17h-1zM17 212.51h1v1.17h-1zM26 212.51h1v1.17h-1zM30 212.51h1v1.17h-1zM34 212.51h1v1.17h-1zM25 213.63h1v1.17h-1zM21 214.75h1v1.17h-1zM21 215.86h1v1.17h-1zM32 215.86h1v1.17h-1zM24 216.98h1v1.17h-1zM33 216.98h1v1.17h-1zM5 218.09h1v1.17h-1zM9 218.09h1v1.17h-1zM10 218.09h1v1.17h-1zM21 218.09h1v1.17h-1zM16 219.21h1v1.17h-1zM26 219.21h1v1.17h-1zM5 221.44h1v1.17h-1zM34 221.44h1v1.17h-1zM22 223.68h1v1.17h-1zM9 224.79h1v1.17h-1zM12 224.79h1v1.17h-1zM14 224.79h1v1.17h-1zM37 224.79h1v1.17h-1zM16 225.91h1v1.17h-1zM18 225.91h1v1.17h-1zM26 225.91h1v1.17h-1zM31 225.91h1v1.17h-1zM35 225.91h1v1.17h-1zM38 225.91h1v1.17h-1zM20 227.02h1v1.17h-1zM24 227.02h1v1.17h-1zM26 227.02h1v1.17h-1zM34 227.02h1v1.17h-1zM35 227.02h1v1.17h-1zM36 227.02h1v1.17h-1zM20 228.14h1v1.17h-1zM33 228.14h1v1.17h-1zM37 228.14h1v1.17h-1zM24 229.26h1v1.17h-1zM27 229.26h1v1.17h-1zM36 229.26h1v1.17h-1zM38 229.26h1v1.17h-1zM7 230.37h1v1.17h-1zM10 231.49h1v1.17h-1zM28 231.49h1v1.17h-1zM30 231.49h1v1.17h-1zM36 231.49h1v1.17h-1zM17 232.61h1v1.17h-1zM38 232.61h1v1.17h-1zM5 233.72h1v1.17h-1zM23 233.72h1v1.17h-1zM35 233.72h1v1.17h-1zM10 234.84h1v1.17h-1zM27 234.84h1v1.17h-1zM29 234.84h1v1.17h-1zM32 234.84h1v1.17h-1zM33 234.84h1v1.17h-1zM20 235.96h1v1.17h-1zM21 235.96h1v1.17h-1zM26 235.96h1v1.17h-1zM34 235.96h1v1.17h-1zM25 237.07h1v1.17h-1zM26 237.07h1v1.17h-1zM27 237.07h1v1.17h-1zM25 238.19h1v1.17h-1zM6 239.30h1v1.17h-1zM31 239.30h1v1.17h-1zM11 240.42h1v1.17h-1zM28 240.42h1v1.17h-1zM8 241.54h1v1.17h-1zM11 242.65h1v1.17h-1zM38 242.65h1v1.17h-1zM13 243.77h1v1.17h-1zM15 243.77h1v1.17h-1zM22 243.77h1v1.17h-1zM25 243.77h1v1.17h-1zM34 243.77h1v1.17h-1zM20 244.89h1v1.17h-1zM20 246.00h1v1.17h-1zM7 247.12h1v1.17h-1zM15 247.12h1v1.17h-1zM29 247.12h1v1.17h-1zM12 248.23h1v1.17h-1zM27 248.23h1v1.17h-1zM33 248.23h1v1.17h-1zM16 249.35h1v1.17h-1zM10 250.47h1v1.17h-1zM23 250.47h1v1.17h-1zM27 250.47h1v1.17h-1zM37 250.47h1v1.17h-1zM5 251.58h1v1.17h-1zM33 251.58h1v1.17h-1zM34 251.58h1v1.17h-1z"/><path fill="#eaf0f0" d="M3 0.00h1v1.17h-1zM6 0.00h1v1.17h-1zM24 0.00h1v1.17h-1zM12 1.12h1v1.17h-1zM14 1.12h1v1.17h-1zM13 2.24h1v1.17h-1zM18 2.24h1v1.17h-1zM22 2.24h1v1.17h-1zM28 2.24h1v1.17h-1zM31 2.24h1v1.17h-1zM6 3.37h1v1.17h-1zM15 3.37h1v1.17h-1zM31 3.37h1v1.17h-1zM25 4.49h1v1.17h-1zM6 5.61h1v1.17h-1zM12 5.61h1v1.17h-1zM29 5.61h1v1.17h-1zM32 5.61h1v1.17h-1zM6 6.73h1v1.17h-1zM25 7.85h1v1.17h-1zM14 8.98h1v1.17h-1zM23 8.98h1v1.17h-1zM33 8.98h1v1.17h-1zM36 8.98h1v1.17h-1zM12 10.10h1v1.17h-1zM24 10.10h1v1.17h-1zM25 10.10h1v1.17h-1zM33 11.22h1v1.17h-1zM5 12.34h1v1.17h-1zM6 12.34h1v1.17h-1zM15 13.46h1v1.17h-1zM13 14.59h1v1.17h-1zM15 14.59h1v1.17h-1zM24 15.71h1v1.17h-1zM37 15.71h1v1.17h-1zM15 16.83h1v1.17h-1zM17 16.83h1v1.17h-1zM18 16.83h1v1.17h-1zM12 17.95h1v1.17h-1zM24 17.95h1v1.17h-1zM33 17.95h1v1.17h-1zM35 19.07h1v1.17h-1zM21 20.20h1v1.17h-1zM23 20.20h1v1.17h-1zM5 22.44h1v1.17h-1zM15 23.56h1v1.17h-1zM18 23.56h1v1.17h-1zM22 24.68h1v1.17h-1zM8 25.81h1v1.17h-1zM14 25.81h1v1.17h-1zM32 25.81h1v1.17h-1zM5 26.93h1v1.17h-1zM12 26.93h1v1.17h-1zM14 26.93h1v1.17h-1zM15 28.05h1v1.17h-1zM10 29.17h1v1.17h-1zM29 29.17h1v1.17h-1zM22 30.29h1v1.17h-1zM34 30.29h1v1.17h-1zM35 30.29h1v1.17h-1zM5 31.42h1v1.17h-1zM13 32.54h1v1.17h-1zM14 32.54h1v1.17h-1zM38 32.54h1v1.17h-1zM15 33.66h1v1.17h-1zM23 33.66h1v1.17h-1zM33 34.78h1v1.17h-1zM36 34.78h1v1.17h-1zM5 35.90h1v1.17h-1zM12 37.03h1v1.17h-1zM33 37.03h1v1.17h-1zM14 38.15h1v1.17h-1zM26 38.15h1v1.17h-1zM36 38.15h1v1.17h-1zM5 39.27h1v1.17h-1zM27 39.27h1v1.17h-1zM6 40.39h1v1.17h-1zM22 42.64h1v1.17h-1zM13 43.76h1v1.17h-1zM22 44.88h1v1.17h-1zM21 46.00h1v1.17h-1zM13 47.12h1v1.17h-1zM29 47.12h1v1.17h-1zM30 47.12h1v1.17h-1zM21 48.25h1v1.17h-1zM35 48.25h1v1.17h-1zM38 48.25h1v1.17h-1zM15 49.37h1v1.17h-1zM18 49.37h1v1.17h-1zM17 50.49h1v1.17h-1zM33 50.49h1v1.17h-1zM12 51.61h1v1.17h-1zM37 51.61h1v1.17h-1zM16 52.73h1v1.17h-1zM27 52.73h1v1.17h-1zM27 53.86h1v1.17h-1zM31 53.86h1v1.17h-1zM36 53.86h1v1.17h-1zM14 54.98h1v1.17h-1zM16 54.98h1v1.17h-1zM14 56.10h1v1.17h-1zM15 56.10h1v1.17h-1zM24 56.10h1v1.17h-1zM30 57.22h1v1.17h-1zM16 59.47h1v1.17h-1zM29 59.47h1v1.17h-1zM31 59.47h1v1.17h-1zM31 60.59h1v1.17h-1zM38 60.59h1v1.17h-1zM15 61.71h1v1.17h-1zM20 61.71h1v1.17h-1zM27 61.71h1v1.17h-1zM16 62.83h1v1.17h-1zM37 62.83h1v1.17h-1zM5 63.95h1v1.17h-1zM16 63.95h1v1.17h-1zM22 63.95h1v1.17h-1zM27 63.95h1v1.17h-1zM28 63.95h1v1.17h-1zM36 63.95h1v1.17h-1zM16 65.08h1v1.17h-1zM25 66.20h1v1.17h-1zM13 67.32h1v1.17h-1zM35 67.32h1v1.17h-1zM37 67.32h1v1.17h-1zM13 68.44h1v1.17h-1zM22 68.44h1v1.17h-1zM33 68.44h1v1.17h-1zM31 69.56h1v1.17h-1zM34 69.56h1v1.17h-1zM37 69.56h1v1.17h-1zM28 70.69h1v1.17h-1zM29 70.69h1v1.17h-1zM14 71.81h1v1.17h-1zM18 71.81h1v1.17h-1zM24 74.05h1v1.17h-1zM35 74.05h1v1.17h-1zM37 74.05h1v1.17h-1zM23 75.17h1v1.17h-1zM24 75.17h1v1.17h-1zM27 75.17h1v1.17h-1zM31 75.17h1v1.17h-1zM34 75.17h1v1.17h-1zM35 75.17h1v1.17h-1zM18 76.30h1v1.17h-1zM37 76.30h1v1.17h-1zM12 77.42h1v1.17h-1zM13 77.42h1v1.17h-1zM22 77.42h1v1.17h-1zM28 77.42h1v1.17h-1zM5 78.54h1v1.17h-1zM6 78.54h1v1.17h-1zM5 79.66h1v1.17h-1zM35 79.66h1v1.17h-1zM38 79.66h1v1.17h-1zM16 80.78h1v1.17h-1zM25 80.78h1v1.17h-1zM27 80.78h1v1.17h-1zM32 81.91h1v1.17h-1zM35 83.03h1v1.17h-1zM36 83.03h1v1.17h-1zM10 84.15h1v1.17h-1zM23 84.15h1v1.17h-1zM28 84.15h1v1.17h-1zM21 85.27h1v1.17h-1zM27 85.27h1v1.17h-1zM32 85.27h1v1.17h-1zM35 85.27h1v1.17h-1zM10 86.39h1v1.17h-1zM26 86.39h1v1.17h-1zM37 86.39h1v1.17h-1zM13 87.52h1v1.17h-1zM21 87.52h1v1.17h-1zM28 87.52h1v1.17h-1zM30 87.52h1v1.17h-1zM33 87.52h1v1.17h-1zM21 89.76h1v1.17h-1zM17 90.88h1v1.17h-1zM12 92.00h1v1.17h-1zM13 92.00h1v1.17h-1zM22 92.00h1v1.17h-1zM5 93.13h1v1.17h-1zM30 93.13h1v1.17h-1zM30 94.25h1v1.17h-1zM15 95.37h1v1.17h-1zM10 96.49h1v1.17h-1zM28 96.49h1v1.17h-1zM37 96.49h1v1.17h-1zM25 97.61h1v1.17h-1zM27 97.61h1v1.17h-1zM31 97.61h1v1.17h-1zM14 98.74h1v1.17h-1zM22 98.74h1v1.17h-1zM25 98.74h1v1.17h-1zM34 98.74h1v1.17h-1zM17 99.86h1v1.17h-1zM24 99.86h1v1.17h-1zM33 99.86h1v1.17h-1zM37 99.86h1v1.17h-1zM21 100.98h1v1.17h-1zM26 102.10h1v1.17h-1zM29 102.10h1v1.17h-1zM18 103.22h1v1.17h-1zM29 103.22h1v1.17h-1zM31 103.22h1v1.17h-1zM24 104.35h1v1.17h-1zM22 105.47h1v1.17h-1zM31 105.47h1v1.17h-1zM6 106.59h1v1.17h-1zM22 106.59h1v1.17h-1zM30 106.59h1v1.17h-1zM38 106.59h1v1.17h-1zM12 107.71h1v1.17h-1zM13 107.71h1v1.17h-1zM16 107.71h1v1.17h-1zM13 108.83h1v1.17h-1zM22 108.83h1v1.17h-1zM28 108.83h1v1.17h-1zM34 108.83h1v1.17h-1zM26 109.96h1v1.17h-1zM27 109.96h1v1.17h-1zM35 109.96h1v1.17h-1zM30 111.08h1v1.17h-1zM7 114.73h1v1.18h-1zM12 114.73h1v1.18h-1zM14 114.73h1v1.18h-1zM26 114.73h1v1.18h-1zM34 114.73h1v1.18h-1zM16 115.86h1v1.18h-1zM19 115.86h1v1.18h-1zM11 117.00h1v1.18h-1zM15 117.00h1v1.18h-1zM22 117.00h1v1.18h-1zM2 118.13h1v1.18h-1zM28 118.13h1v1.18h-1zM10 120.39h1v1.18h-1zM11 120.39h1v1.18h-1zM19 121.53h1v1.18h-1zM29 121.53h1v1.18h-1zM15 122.66h1v1.18h-1zM33 122.66h1v1.18h-1zM33 123.79h1v1.18h-1zM35 124.92h1v1.18h-1zM6 126.05h1v1.18h-1zM19 126.05h1v1.18h-1zM35 126.05h1v1.18h-1zM14 127.19h1v1.18h-1zM28 127.19h1v1.18h-1zM29 127.19h1v1.18h-1zM32 127.19h1v1.18h-1zM8 128.32h1v1.18h-1zM9 128.32h1v1.18h-1zM28 128.32h1v1.18h-1zM28 130.58h1v1.18h-1zM19 131.72h1v1.18h-1zM30 131.72h1v1.18h-1zM32 132.85h1v1.18h-1zM29 135.11h1v1.18h-1zM2 137.38h1v1.18h-1zM2 138.51h1v1.18h-1zM16 138.51h1v1.18h-1zM28 138.51h1v1.18h-1zM32 138.51h1v1.18h-1zM35 138.51h1v1.18h-1zM7 140.77h1v1.18h-1zM2 141.91h1v1.18h-1zM19 141.91h1v1.18h-1zM14 143.04h1v1.18h-1zM33 143.04h1v1.18h-1zM34 143.04h1v1.18h-1zM14 144.17h1v1.18h-1zM33 144.17h1v1.18h-1zM35 144.17h1v1.18h-1zM4 147.57h1v1.18h-1zM38 147.57h1v1.18h-1zM8 150.00h1v1.17h-1zM15 150.00h1v1.17h-1zM9 151.12h1v1.17h-1zM13 151.12h1v1.17h-1zM19 151.12h1v1.17h-1zM12 153.35h1v1.17h-1zM29 153.35h1v1.17h-1zM16 154.47h1v1.17h-1zM20 155.58h1v1.17h-1zM9 156.70h1v1.17h-1zM28 156.70h1v1.17h-1zM12 157.81h1v1.17h-1zM13 160.05h1v1.17h-1zM24 160.05h1v1.17h-1zM34 160.05h1v1.17h-1zM14 161.16h1v1.17h-1zM25 164.51h1v1.17h-1zM13 165.63h1v1.17h-1zM5 166.74h1v1.17h-1zM18 166.74h1v1.17h-1zM16 167.86h1v1.17h-1zM15 168.98h1v1.17h-1zM7 170.09h1v1.17h-1zM16 170.09h1v1.17h-1zM9 171.21h1v1.17h-1zM15 173.44h1v1.17h-1zM14 175.68h1v1.17h-1zM18 176.79h1v1.17h-1zM17 179.02h1v1.17h-1zM8 180.14h1v1.17h-1zM10 181.26h1v1.17h-1zM15 182.37h1v1.17h-1zM34 182.37h1v1.17h-1zM6 183.49h1v1.17h-1zM17 183.49h1v1.17h-1zM7 185.72h1v1.17h-1zM12 185.72h1v1.17h-1zM5 186.84h1v1.17h-1zM6 186.84h1v1.17h-1zM9 186.84h1v1.17h-1zM30 187.95h1v1.17h-1zM15 189.07h1v1.17h-1zM11 190.19h1v1.17h-1zM14 191.30h1v1.17h-1zM9 192.42h1v1.17h-1zM15 192.42h1v1.17h-1zM16 192.42h1v1.17h-1zM5 194.65h1v1.17h-1zM17 194.65h1v1.17h-1zM6 196.88h1v1.17h-1zM9 196.88h1v1.17h-1zM6 198.00h1v1.17h-1zM7 198.00h1v1.17h-1zM10 198.00h1v1.17h-1zM8 199.12h1v1.17h-1zM18 199.12h1v1.17h-1zM8 200.23h1v1.17h-1zM15 200.23h1v1.17h-1zM25 200.23h1v1.17h-1zM13 201.35h1v1.17h-1zM15 201.35h1v1.17h-1zM19 201.35h1v1.17h-1zM29 201.35h1v1.17h-1zM16 202.47h1v1.17h-1zM9 205.82h1v1.17h-1zM25 205.82h1v1.17h-1zM6 206.93h1v1.17h-1zM14 206.93h1v1.17h-1zM18 209.16h1v1.17h-1zM9 210.28h1v1.17h-1zM17 210.28h1v1.17h-1zM7 213.63h1v1.17h-1zM17 213.63h1v1.17h-1zM31 214.75h1v1.17h-1zM34 214.75h1v1.17h-1zM9 216.98h1v1.17h-1zM22 216.98h1v1.17h-1zM31 216.98h1v1.17h-1zM12 218.09h1v1.17h-1zM11 220.33h1v1.17h-1zM20 220.33h1v1.17h-1zM25 220.33h1v1.17h-1zM18 221.44h1v1.17h-1zM19 222.56h1v1.17h-1zM8 224.79h1v1.17h-1zM10 224.79h1v1.17h-1zM15 224.79h1v1.17h-1zM6 225.91h1v1.17h-1zM19 225.91h1v1.17h-1zM27 225.91h1v1.17h-1zM15 227.02h1v1.17h-1zM25 227.02h1v1.17h-1zM12 228.14h1v1.17h-1zM5 229.26h1v1.17h-1zM8 229.26h1v1.17h-1zM11 229.26h1v1.17h-1zM18 229.26h1v1.17h-1zM9 230.37h1v1.17h-1zM24 230.37h1v1.17h-1zM6 231.49h1v1.17h-1zM11 232.61h1v1.17h-1zM18 232.61h1v1.17h-1zM12 233.72h1v1.17h-1zM19 234.84h1v1.17h-1zM6 235.96h1v1.17h-1zM14 235.96h1v1.17h-1zM17 235.96h1v1.17h-1zM19 235.96h1v1.17h-1zM8 237.07h1v1.17h-1zM13 238.19h1v1.17h-1zM9 239.30h1v1.17h-1zM15 240.42h1v1.17h-1zM35 240.42h1v1.17h-1zM9 241.54h1v1.17h-1zM9 242.65h1v1.17h-1zM0 243.77h1v1.17h-1zM3 243.77h1v1.17h-1zM6 244.89h1v1.17h-1zM18 247.12h1v1.17h-1zM6 249.35h1v1.17h-1zM6 250.47h1v1.17h-1zM7 250.47h1v1.17h-1zM0 251.58h1v1.17h-1zM14 251.58h1v1.17h-1z"/><path fill="#f6d8c6" d="M4 0.00h1v1.17h-1zM20 1.12h1v1.17h-1zM2 2.24h1v1.17h-1zM20 2.24h1v1.17h-1zM2 5.61h1v1.17h-1zM7 5.61h1v1.17h-1zM17 10.10h1v1.17h-1zM4 14.59h1v1.17h-1zM18 17.95h1v1.17h-1zM11 19.07h1v1.17h-1zM20 20.20h1v1.17h-1zM9 21.32h1v1.17h-1zM14 24.68h1v1.17h-1zM18 25.81h1v1.17h-1zM20 25.81h1v1.17h-1zM19 26.93h1v1.17h-1zM9 28.05h1v1.17h-1zM11 29.17h1v1.17h-1zM9 31.42h1v1.17h-1zM11 32.54h1v1.17h-1zM20 38.15h1v1.17h-1zM3 40.39h1v1.17h-1zM20 41.51h1v1.17h-1zM9 44.88h1v1.17h-1zM19 46.00h1v1.17h-1zM8 47.12h1v1.17h-1zM2 49.37h1v1.17h-1zM11 50.49h1v1.17h-1zM4 53.86h1v1.17h-1zM3 56.10h1v1.17h-1zM0 57.22h1v1.17h-1zM0 58.34h1v1.17h-1zM9 59.47h1v1.17h-1zM17 61.71h1v1.17h-1zM1 62.83h1v1.17h-1zM27 62.83h1v1.17h-1zM7 78.54h1v1.17h-1zM23 79.66h1v1.17h-1zM28 79.66h1v1.17h-1zM6 80.78h1v1.17h-1zM11 80.78h1v1.17h-1zM19 83.03h1v1.17h-1zM2 87.52h1v1.17h-1zM11 89.76h1v1.17h-1zM8 93.13h1v1.17h-1zM17 95.37h1v1.17h-1zM0 96.49h1v1.17h-1zM2 99.86h1v1.17h-1zM17 100.98h1v1.17h-1zM0 105.47h1v1.17h-1zM9 105.47h1v1.17h-1zM1 108.83h1v1.17h-1zM34 109.96h1v1.17h-1zM1 111.08h1v1.17h-1zM27 114.73h1v1.18h-1zM34 123.79h1v1.18h-1zM26 127.19h1v1.18h-1zM15 128.32h1v1.18h-1zM21 128.32h1v1.18h-1zM26 129.45h1v1.18h-1zM14 130.58h1v1.18h-1zM26 130.58h1v1.18h-1zM15 131.72h1v1.18h-1zM16 132.85h1v1.18h-1zM30 132.85h1v1.18h-1zM22 133.98h1v1.18h-1zM27 133.98h1v1.18h-1zM23 135.11h1v1.18h-1zM24 138.51h1v1.18h-1zM9 144.17h1v1.18h-1zM0 145.30h1v1.18h-1zM21 145.30h1v1.18h-1zM25 150.00h1v1.17h-1zM33 151.12h1v1.17h-1zM34 151.12h1v1.17h-1zM31 153.35h1v1.17h-1zM36 153.35h1v1.17h-1zM21 154.47h1v1.17h-1zM27 154.47h1v1.17h-1zM28 154.47h1v1.17h-1zM23 155.58h1v1.17h-1zM33 156.70h1v1.17h-1zM7 158.93h1v1.17h-1zM18 158.93h1v1.17h-1zM25 158.93h1v1.17h-1zM20 164.51h1v1.17h-1zM26 167.86h1v1.17h-1zM33 167.86h1v1.17h-1zM35 168.98h1v1.17h-1zM25 170.09h1v1.17h-1zM27 170.09h1v1.17h-1zM6 171.21h1v1.17h-1zM15 171.21h1v1.17h-1zM29 172.33h1v1.17h-1zM8 173.44h1v1.17h-1zM37 173.44h1v1.17h-1zM8 175.68h1v1.17h-1zM38 175.68h1v1.17h-1zM35 176.79h1v1.17h-1zM10 177.91h1v1.17h-1zM20 177.91h1v1.17h-1zM32 179.02h1v1.17h-1zM16 187.95h1v1.17h-1zM7 189.07h1v1.17h-1zM32 190.19h1v1.17h-1zM36 195.77h1v1.17h-1zM37 196.88h1v1.17h-1zM20 199.12h1v1.17h-1zM7 200.23h1v1.17h-1zM30 200.23h1v1.17h-1zM17 202.47h1v1.17h-1zM36 210.28h1v1.17h-1zM35 218.09h1v1.17h-1zM34 219.21h1v1.17h-1zM16 221.44h1v1.17h-1zM9 222.56h1v1.17h-1zM20 225.91h1v1.17h-1zM30 227.02h1v1.17h-1zM24 228.14h1v1.17h-1zM30 228.14h1v1.17h-1zM32 231.49h1v1.17h-1zM15 233.72h1v1.17h-1zM23 234.84h1v1.17h-1zM28 234.84h1v1.17h-1zM34 234.84h1v1.17h-1zM27 235.96h1v1.17h-1zM27 238.19h1v1.17h-1zM13 239.30h1v1.17h-1zM34 239.30h1v1.17h-1zM36 239.30h1v1.17h-1zM20 240.42h1v1.17h-1zM21 241.54h1v1.17h-1zM30 243.77h1v1.17h-1zM28 244.89h1v1.17h-1zM27 246.00h1v1.17h-1zM13 248.23h1v1.17h-1zM31 248.23h1v1.17h-1zM36 248.23h1v1.17h-1zM12 250.47h1v1.17h-1zM15 250.47h1v1.17h-1z"/><path fill="#e4eaf0" d="M5 0.00h1v1.17h-1zM30 0.00h1v1.17h-1zM31 1.12h1v1.17h-1zM27 3.37h1v1.17h-1zM33 4.49h1v1.17h-1zM36 5.61h1v1.17h-1zM12 6.73h1v1.17h-1zM2 7.85h1v1.17h-1zM5 7.85h1v1.17h-1zM31 8.98h1v1.17h-1zM35 8.98h1v1.17h-1zM22 10.10h1v1.17h-1zM6 11.22h1v1.17h-1zM22 11.22h1v1.17h-1zM29 14.59h1v1.17h-1zM12 15.71h1v1.17h-1zM35 15.71h1v1.17h-1zM12 16.83h1v1.17h-1zM33 16.83h1v1.17h-1zM35 16.83h1v1.17h-1zM24 20.20h1v1.17h-1zM5 21.32h1v1.17h-1zM22 21.32h1v1.17h-1zM27 24.68h1v1.17h-1zM34 24.68h1v1.17h-1zM16 26.93h1v1.17h-1zM21 26.93h1v1.17h-1zM21 28.05h1v1.17h-1zM22 29.17h1v1.17h-1zM28 30.29h1v1.17h-1zM26 31.42h1v1.17h-1zM16 32.54h1v1.17h-1zM31 32.54h1v1.17h-1zM33 33.66h1v1.17h-1zM12 34.78h1v1.17h-1zM6 35.90h1v1.17h-1zM22 35.90h1v1.17h-1zM28 35.90h1v1.17h-1zM29 37.03h1v1.17h-1zM31 39.27h1v1.17h-1zM30 41.51h1v1.17h-1zM35 41.51h1v1.17h-1zM16 43.76h1v1.17h-1zM38 47.12h1v1.17h-1zM6 49.37h1v1.17h-1zM24 49.37h1v1.17h-1zM5 50.49h1v1.17h-1zM38 50.49h1v1.17h-1zM5 51.61h1v1.17h-1zM29 51.61h1v1.17h-1zM31 51.61h1v1.17h-1zM31 52.73h1v1.17h-1zM33 52.73h1v1.17h-1zM34 53.86h1v1.17h-1zM11 54.98h1v1.17h-1zM30 56.10h1v1.17h-1zM25 57.22h1v1.17h-1zM33 58.34h1v1.17h-1zM24 59.47h1v1.17h-1zM27 59.47h1v1.17h-1zM12 60.59h1v1.17h-1zM14 60.59h1v1.17h-1zM18 62.83h1v1.17h-1zM26 62.83h1v1.17h-1zM35 62.83h1v1.17h-1zM14 65.08h1v1.17h-1zM15 65.08h1v1.17h-1zM12 66.20h1v1.17h-1zM29 66.20h1v1.17h-1zM31 66.20h1v1.17h-1zM17 67.32h1v1.17h-1zM25 67.32h1v1.17h-1zM10 68.44h1v1.17h-1zM18 68.44h1v1.17h-1zM26 70.69h1v1.17h-1zM5 71.81h1v1.17h-1zM25 71.81h1v1.17h-1zM15 74.05h1v1.17h-1zM27 74.05h1v1.17h-1zM32 74.05h1v1.17h-1zM26 75.17h1v1.17h-1zM26 76.30h1v1.17h-1zM15 78.54h1v1.17h-1zM22 78.54h1v1.17h-1zM23 78.54h1v1.17h-1zM25 79.66h1v1.17h-1zM31 79.66h1v1.17h-1zM31 81.91h1v1.17h-1zM11 83.03h1v1.17h-1zM29 84.15h1v1.17h-1zM5 85.27h1v1.17h-1zM37 85.27h1v1.17h-1zM25 86.39h1v1.17h-1zM18 87.52h1v1.17h-1zM22 87.52h1v1.17h-1zM35 87.52h1v1.17h-1zM36 87.52h1v1.17h-1zM15 88.64h1v1.17h-1zM36 89.76h1v1.17h-1zM29 92.00h1v1.17h-1zM30 92.00h1v1.17h-1zM21 93.13h1v1.17h-1zM36 93.13h1v1.17h-1zM16 95.37h1v1.17h-1zM29 96.49h1v1.17h-1zM36 96.49h1v1.17h-1zM34 97.61h1v1.17h-1zM23 98.74h1v1.17h-1zM31 98.74h1v1.17h-1zM29 99.86h1v1.17h-1zM32 99.86h1v1.17h-1zM10 100.98h1v1.17h-1zM12 100.98h1v1.17h-1zM16 100.98h1v1.17h-1zM25 100.98h1v1.17h-1zM25 102.10h1v1.17h-1zM36 103.22h1v1.17h-1zM15 104.35h1v1.17h-1zM26 106.59h1v1.17h-1zM31 106.59h1v1.17h-1zM22 109.96h1v1.17h-1zM31 111.08h1v1.17h-1zM34 111.08h1v1.17h-1zM4 113.60h1v1.18h-1zM33 113.60h1v1.18h-1zM2 114.73h1v1.18h-1zM29 117.00h1v1.18h-1zM0 118.13h1v1.18h-1zM10 118.13h1v1.18h-1zM11 119.26h1v1.18h-1zM7 120.39h1v1.18h-1zM19 120.39h1v1.18h-1zM19 122.66h1v1.18h-1zM36 122.66h1v1.18h-1zM12 127.19h1v1.18h-1zM1 130.58h1v1.18h-1zM28 135.11h1v1.18h-1zM7 139.64h1v1.18h-1zM9 139.64h1v1.18h-1zM1 141.91h1v1.18h-1zM32 145.30h1v1.18h-1zM9 146.44h1v1.18h-1zM38 146.44h1v1.18h-1zM12 150.00h1v1.17h-1zM14 150.00h1v1.17h-1zM18 152.23h1v1.17h-1zM16 155.58h1v1.17h-1zM5 156.70h1v1.17h-1zM22 160.05h1v1.17h-1zM14 165.63h1v1.17h-1zM12 166.74h1v1.17h-1zM27 168.98h1v1.17h-1zM17 170.09h1v1.17h-1zM17 171.21h1v1.17h-1zM19 173.44h1v1.17h-1zM7 179.02h1v1.17h-1zM11 182.37h1v1.17h-1zM9 183.49h1v1.17h-1zM19 183.49h1v1.17h-1zM9 185.72h1v1.17h-1zM5 187.95h1v1.17h-1zM19 187.95h1v1.17h-1zM23 190.19h1v1.17h-1zM35 190.19h1v1.17h-1zM6 192.42h1v1.17h-1zM10 194.65h1v1.17h-1zM24 194.65h1v1.17h-1zM29 194.65h1v1.17h-1zM32 198.00h1v1.17h-1zM17 199.12h1v1.17h-1zM18 200.23h1v1.17h-1zM11 201.35h1v1.17h-1zM9 209.16h1v1.17h-1zM18 214.75h1v1.17h-1zM6 216.98h1v1.17h-1zM10 216.98h1v1.17h-1zM14 216.98h1v1.17h-1zM8 218.09h1v1.17h-1zM18 218.09h1v1.17h-1zM7 221.44h1v1.17h-1zM38 228.14h1v1.17h-1zM14 229.26h1v1.17h-1zM14 230.37h1v1.17h-1zM16 230.37h1v1.17h-1zM14 231.49h1v1.17h-1zM13 233.72h1v1.17h-1zM10 237.07h1v1.17h-1zM5 240.42h1v1.17h-1zM19 240.42h1v1.17h-1zM0 246.00h1v1.17h-1zM2 247.12h1v1.17h-1zM12 247.12h1v1.17h-1zM16 247.12h1v1.17h-1zM0 248.23h1v1.17h-1zM1 248.23h1v1.17h-1zM1 249.35h1v1.17h-1z"/><path fill="#f6ccc0" d="M9 0.00h1v1.17h-1zM1 3.37h1v1.17h-1zM4 3.37h1v1.17h-1zM11 3.37h1v1.17h-1zM9 6.73h1v1.17h-1zM11 6.73h1v1.17h-1zM19 7.85h1v1.17h-1zM7 8.98h1v1.17h-1zM19 8.98h1v1.17h-1zM20 8.98h1v1.17h-1zM7 11.22h1v1.17h-1zM11 11.22h1v1.17h-1zM20 12.34h1v1.17h-1zM3 15.71h1v1.17h-1zM2 20.20h1v1.17h-1zM0 21.32h1v1.17h-1zM17 22.44h1v1.17h-1zM0 25.81h1v1.17h-1zM19 30.29h1v1.17h-1zM38 30.29h1v1.17h-1zM9 33.66h1v1.17h-1zM9 38.15h1v1.17h-1zM11 38.15h1v1.17h-1zM1 43.76h1v1.17h-1zM7 44.88h1v1.17h-1zM2 46.00h1v1.17h-1zM2 48.25h1v1.17h-1zM7 48.25h1v1.17h-1zM19 49.37h1v1.17h-1zM3 51.61h1v1.17h-1zM7 59.47h1v1.17h-1zM3 67.32h1v1.17h-1zM2 69.56h1v1.17h-1zM19 70.69h1v1.17h-1zM8 76.30h1v1.17h-1zM4 78.54h1v1.17h-1zM8 86.39h1v1.17h-1zM19 86.39h1v1.17h-1zM19 89.76h1v1.17h-1zM20 89.76h1v1.17h-1zM4 92.00h1v1.17h-1zM4 108.83h1v1.17h-1zM20 109.96h1v1.17h-1zM7 111.08h1v1.17h-1zM27 119.26h1v1.18h-1zM27 121.53h1v1.18h-1zM16 131.72h1v1.18h-1zM25 136.25h1v1.18h-1zM18 139.64h1v1.18h-1zM23 139.64h1v1.18h-1zM25 140.77h1v1.18h-1zM25 145.30h1v1.18h-1zM31 146.44h1v1.18h-1zM24 152.23h1v1.17h-1zM5 153.35h1v1.17h-1zM20 153.35h1v1.17h-1zM37 156.70h1v1.17h-1zM21 162.28h1v1.17h-1zM35 162.28h1v1.17h-1zM24 163.40h1v1.17h-1zM17 164.51h1v1.17h-1zM24 166.74h1v1.17h-1zM34 166.74h1v1.17h-1zM35 167.86h1v1.17h-1zM37 167.86h1v1.17h-1zM28 171.21h1v1.17h-1zM33 173.44h1v1.17h-1zM24 175.68h1v1.17h-1zM28 176.79h1v1.17h-1zM37 181.26h1v1.17h-1zM23 192.42h1v1.17h-1zM34 192.42h1v1.17h-1zM29 195.77h1v1.17h-1zM33 196.88h1v1.17h-1zM14 198.00h1v1.17h-1zM26 201.35h1v1.17h-1zM31 202.47h1v1.17h-1zM31 205.82h1v1.17h-1zM22 208.05h1v1.17h-1zM25 215.86h1v1.17h-1zM31 218.09h1v1.17h-1zM5 222.56h1v1.17h-1zM22 234.84h1v1.17h-1zM17 249.35h1v1.17h-1zM24 250.47h1v1.17h-1zM25 251.58h1v1.17h-1z"/><path fill="#e4f0f0" d="M10 0.00h1v1.17h-1zM18 0.00h1v1.17h-1zM21 1.12h1v1.17h-1zM17 3.37h1v1.17h-1zM34 3.37h1v1.17h-1zM6 4.49h1v1.17h-1zM38 4.49h1v1.17h-1zM23 5.61h1v1.17h-1zM25 5.61h1v1.17h-1zM35 5.61h1v1.17h-1zM8 6.73h1v1.17h-1zM6 7.85h1v1.17h-1zM4 8.98h1v1.17h-1zM13 8.98h1v1.17h-1zM22 8.98h1v1.17h-1zM13 10.10h1v1.17h-1zM38 10.10h1v1.17h-1zM6 13.46h1v1.17h-1zM31 13.46h1v1.17h-1zM5 14.59h1v1.17h-1zM5 15.71h1v1.17h-1zM27 15.71h1v1.17h-1zM31 15.71h1v1.17h-1zM13 16.83h1v1.17h-1zM30 17.95h1v1.17h-1zM35 17.95h1v1.17h-1zM36 17.95h1v1.17h-1zM14 19.07h1v1.17h-1zM21 19.07h1v1.17h-1zM31 19.07h1v1.17h-1zM32 19.07h1v1.17h-1zM13 20.20h1v1.17h-1zM28 20.20h1v1.17h-1zM32 20.20h1v1.17h-1zM33 20.20h1v1.17h-1zM13 21.32h1v1.17h-1zM26 21.32h1v1.17h-1zM36 22.44h1v1.17h-1zM15 24.68h1v1.17h-1zM33 24.68h1v1.17h-1zM35 24.68h1v1.17h-1zM26 25.81h1v1.17h-1zM30 25.81h1v1.17h-1zM26 26.93h1v1.17h-1zM35 28.05h1v1.17h-1zM33 29.17h1v1.17h-1zM16 31.42h1v1.17h-1zM28 31.42h1v1.17h-1zM35 31.42h1v1.17h-1zM21 32.54h1v1.17h-1zM25 32.54h1v1.17h-1zM28 32.54h1v1.17h-1zM34 32.54h1v1.17h-1zM37 32.54h1v1.17h-1zM12 33.66h1v1.17h-1zM29 33.66h1v1.17h-1zM32 33.66h1v1.17h-1zM25 34.78h1v1.17h-1zM38 35.90h1v1.17h-1zM25 37.03h1v1.17h-1zM12 38.15h1v1.17h-1zM28 39.27h1v1.17h-1zM33 39.27h1v1.17h-1zM12 41.51h1v1.17h-1zM12 42.64h1v1.17h-1zM27 42.64h1v1.17h-1zM32 44.88h1v1.17h-1zM34 44.88h1v1.17h-1zM10 47.12h1v1.17h-1zM22 47.12h1v1.17h-1zM34 47.12h1v1.17h-1zM22 48.25h1v1.17h-1zM27 48.25h1v1.17h-1zM33 48.25h1v1.17h-1zM10 49.37h1v1.17h-1zM13 49.37h1v1.17h-1zM29 50.49h1v1.17h-1zM6 51.61h1v1.17h-1zM10 51.61h1v1.17h-1zM15 51.61h1v1.17h-1zM32 52.73h1v1.17h-1zM24 53.86h1v1.17h-1zM33 53.86h1v1.17h-1zM5 56.10h1v1.17h-1zM26 56.10h1v1.17h-1zM33 56.10h1v1.17h-1zM5 58.34h1v1.17h-1zM37 58.34h1v1.17h-1zM12 59.47h1v1.17h-1zM14 59.47h1v1.17h-1zM32 59.47h1v1.17h-1zM18 60.59h1v1.17h-1zM22 60.59h1v1.17h-1zM25 60.59h1v1.17h-1zM30 60.59h1v1.17h-1zM12 61.71h1v1.17h-1zM14 61.71h1v1.17h-1zM26 61.71h1v1.17h-1zM30 61.71h1v1.17h-1zM10 62.83h1v1.17h-1zM22 62.83h1v1.17h-1zM33 62.83h1v1.17h-1zM36 62.83h1v1.17h-1zM12 63.95h1v1.17h-1zM23 63.95h1v1.17h-1zM35 63.95h1v1.17h-1zM18 65.08h1v1.17h-1zM31 65.08h1v1.17h-1zM35 65.08h1v1.17h-1zM37 65.08h1v1.17h-1zM15 66.20h1v1.17h-1zM22 66.20h1v1.17h-1zM24 66.20h1v1.17h-1zM28 66.20h1v1.17h-1zM5 67.32h1v1.17h-1zM15 67.32h1v1.17h-1zM24 67.32h1v1.17h-1zM26 67.32h1v1.17h-1zM34 67.32h1v1.17h-1zM27 68.44h1v1.17h-1zM23 69.56h1v1.17h-1zM25 69.56h1v1.17h-1zM34 70.69h1v1.17h-1zM13 71.81h1v1.17h-1zM14 72.93h1v1.17h-1zM15 72.93h1v1.17h-1zM13 75.17h1v1.17h-1zM16 75.17h1v1.17h-1zM38 75.17h1v1.17h-1zM12 76.30h1v1.17h-1zM23 76.30h1v1.17h-1zM33 76.30h1v1.17h-1zM10 77.42h1v1.17h-1zM26 77.42h1v1.17h-1zM38 77.42h1v1.17h-1zM13 78.54h1v1.17h-1zM16 78.54h1v1.17h-1zM29 78.54h1v1.17h-1zM5 80.78h1v1.17h-1zM24 80.78h1v1.17h-1zM33 80.78h1v1.17h-1zM29 81.91h1v1.17h-1zM36 81.91h1v1.17h-1zM16 83.03h1v1.17h-1zM21 83.03h1v1.17h-1zM33 83.03h1v1.17h-1zM12 84.15h1v1.17h-1zM18 85.27h1v1.17h-1zM29 86.39h1v1.17h-1zM32 86.39h1v1.17h-1zM14 87.52h1v1.17h-1zM6 88.64h1v1.17h-1zM14 88.64h1v1.17h-1zM23 88.64h1v1.17h-1zM38 88.64h1v1.17h-1zM16 89.76h1v1.17h-1zM25 89.76h1v1.17h-1zM38 89.76h1v1.17h-1zM22 90.88h1v1.17h-1zM31 90.88h1v1.17h-1zM36 90.88h1v1.17h-1zM37 90.88h1v1.17h-1zM24 92.00h1v1.17h-1zM26 92.00h1v1.17h-1zM37 92.00h1v1.17h-1zM38 92.00h1v1.17h-1zM10 93.13h1v1.17h-1zM12 93.13h1v1.17h-1zM28 93.13h1v1.17h-1zM29 93.13h1v1.17h-1zM31 93.13h1v1.17h-1zM15 94.25h1v1.17h-1zM27 94.25h1v1.17h-1zM32 94.25h1v1.17h-1zM37 94.25h1v1.17h-1zM18 96.49h1v1.17h-1zM5 97.61h1v1.17h-1zM10 97.61h1v1.17h-1zM27 98.74h1v1.17h-1zM12 99.86h1v1.17h-1zM21 99.86h1v1.17h-1zM25 99.86h1v1.17h-1zM17 102.10h1v1.17h-1zM27 102.10h1v1.17h-1zM16 103.22h1v1.17h-1zM32 103.22h1v1.17h-1zM10 104.35h1v1.17h-1zM27 104.35h1v1.17h-1zM5 105.47h1v1.17h-1zM12 105.47h1v1.17h-1zM13 105.47h1v1.17h-1zM15 106.59h1v1.17h-1zM25 106.59h1v1.17h-1zM33 106.59h1v1.17h-1zM10 107.71h1v1.17h-1zM32 107.71h1v1.17h-1zM14 108.83h1v1.17h-1zM25 108.83h1v1.17h-1zM36 109.96h1v1.17h-1zM21 113.60h1v1.18h-1zM3 114.73h1v1.18h-1zM11 114.73h1v1.18h-1zM3 115.86h1v1.18h-1zM4 118.13h1v1.18h-1zM5 118.13h1v1.18h-1zM6 118.13h1v1.18h-1zM8 120.39h1v1.18h-1zM32 120.39h1v1.18h-1zM5 122.66h1v1.18h-1zM6 122.66h1v1.18h-1zM7 123.79h1v1.18h-1zM13 123.79h1v1.18h-1zM36 124.92h1v1.18h-1zM37 126.05h1v1.18h-1zM2 128.32h1v1.18h-1zM12 128.32h1v1.18h-1zM19 128.32h1v1.18h-1zM32 128.32h1v1.18h-1zM1 131.72h1v1.18h-1zM5 131.72h1v1.18h-1zM29 131.72h1v1.18h-1zM5 132.85h1v1.18h-1zM35 133.98h1v1.18h-1zM35 135.11h1v1.18h-1zM18 136.25h1v1.18h-1zM1 138.51h1v1.18h-1zM19 140.77h1v1.18h-1zM5 144.17h1v1.18h-1zM19 144.17h1v1.18h-1zM34 145.30h1v1.18h-1zM6 147.57h1v1.18h-1zM32 147.57h1v1.18h-1zM6 150.00h1v1.17h-1zM36 150.00h1v1.17h-1zM13 152.23h1v1.17h-1zM23 154.47h1v1.17h-1zM30 157.81h1v1.17h-1zM19 158.93h1v1.17h-1zM9 160.05h1v1.17h-1zM27 160.05h1v1.17h-1zM31 160.05h1v1.17h-1zM38 160.05h1v1.17h-1zM11 162.28h1v1.17h-1zM18 162.28h1v1.17h-1zM6 164.51h1v1.17h-1zM7 164.51h1v1.17h-1zM6 166.74h1v1.17h-1zM17 166.74h1v1.17h-1zM18 167.86h1v1.17h-1zM6 168.98h1v1.17h-1zM8 170.09h1v1.17h-1zM10 173.44h1v1.17h-1zM8 174.56h1v1.17h-1zM18 174.56h1v1.17h-1zM16 175.68h1v1.17h-1zM30 175.68h1v1.17h-1zM33 177.91h1v1.17h-1zM13 179.02h1v1.17h-1zM14 181.26h1v1.17h-1zM6 182.37h1v1.17h-1zM33 183.49h1v1.17h-1zM5 185.72h1v1.17h-1zM9 189.07h1v1.17h-1zM9 190.19h1v1.17h-1zM14 190.19h1v1.17h-1zM5 191.30h1v1.17h-1zM20 191.30h1v1.17h-1zM34 191.30h1v1.17h-1zM19 192.42h1v1.17h-1zM7 193.54h1v1.17h-1zM32 195.77h1v1.17h-1zM12 196.88h1v1.17h-1zM5 199.12h1v1.17h-1zM9 200.23h1v1.17h-1zM17 203.58h1v1.17h-1zM9 204.70h1v1.17h-1zM9 206.93h1v1.17h-1zM17 208.05h1v1.17h-1zM5 211.40h1v1.17h-1zM14 211.40h1v1.17h-1zM8 212.51h1v1.17h-1zM12 213.63h1v1.17h-1zM14 213.63h1v1.17h-1zM37 213.63h1v1.17h-1zM21 216.98h1v1.17h-1zM17 219.21h1v1.17h-1zM15 220.33h1v1.17h-1zM32 220.33h1v1.17h-1zM6 221.44h1v1.17h-1zM16 222.56h1v1.17h-1zM31 222.56h1v1.17h-1zM35 222.56h1v1.17h-1zM7 224.79h1v1.17h-1zM17 225.91h1v1.17h-1zM16 227.02h1v1.17h-1zM14 232.61h1v1.17h-1zM7 233.72h1v1.17h-1zM13 234.84h1v1.17h-1zM12 235.96h1v1.17h-1zM2 243.77h1v1.17h-1zM7 243.77h1v1.17h-1zM10 243.77h1v1.17h-1zM29 243.77h1v1.17h-1zM1 244.89h1v1.17h-1zM3 244.89h1v1.17h-1zM8 244.89h1v1.17h-1zM15 244.89h1v1.17h-1zM38 244.89h1v1.17h-1zM2 246.00h1v1.17h-1zM7 246.00h1v1.17h-1zM1 247.12h1v1.17h-1zM2 248.23h1v1.17h-1zM2 249.35h1v1.17h-1zM11 249.35h1v1.17h-1zM19 249.35h1v1.17h-1zM3 250.47h1v1.17h-1zM2 251.58h1v1.17h-1zM3 251.58h1v1.17h-1zM19 251.58h1v1.17h-1z"/><path fill="#f6eae4" d="M11 0.00h1v1.17h-1zM18 1.12h1v1.17h-1zM4 2.24h1v1.17h-1zM8 3.37h1v1.17h-1zM10 3.37h1v1.17h-1zM38 3.37h1v1.17h-1zM15 4.49h1v1.17h-1zM21 4.49h1v1.17h-1zM13 5.61h1v1.17h-1zM14 5.61h1v1.17h-1zM16 6.73h1v1.17h-1zM0 7.85h1v1.17h-1zM3 7.85h1v1.17h-1zM17 7.85h1v1.17h-1zM16 8.98h1v1.17h-1zM16 10.10h1v1.17h-1zM5 11.22h1v1.17h-1zM16 11.22h1v1.17h-1zM16 12.34h1v1.17h-1zM17 12.34h1v1.17h-1zM11 14.59h1v1.17h-1zM1 16.83h1v1.17h-1zM19 16.83h1v1.17h-1zM6 20.20h1v1.17h-1zM10 20.20h1v1.17h-1zM18 20.20h1v1.17h-1zM10 21.32h1v1.17h-1zM16 21.32h1v1.17h-1zM19 23.56h1v1.17h-1zM8 24.68h1v1.17h-1zM18 24.68h1v1.17h-1zM17 25.81h1v1.17h-1zM18 26.93h1v1.17h-1zM6 28.05h1v1.17h-1zM8 28.05h1v1.17h-1zM18 28.05h1v1.17h-1zM21 29.17h1v1.17h-1zM3 30.29h1v1.17h-1zM6 30.29h1v1.17h-1zM10 30.29h1v1.17h-1zM17 30.29h1v1.17h-1zM6 31.42h1v1.17h-1zM7 31.42h1v1.17h-1zM12 31.42h1v1.17h-1zM13 31.42h1v1.17h-1zM17 31.42h1v1.17h-1zM5 32.54h1v1.17h-1zM10 33.66h1v1.17h-1zM35 33.66h1v1.17h-1zM17 34.78h1v1.17h-1zM20 34.78h1v1.17h-1zM13 35.90h1v1.17h-1zM14 35.90h1v1.17h-1zM15 35.90h1v1.17h-1zM17 35.90h1v1.17h-1zM29 35.90h1v1.17h-1zM33 35.90h1v1.17h-1zM29 38.15h1v1.17h-1zM3 39.27h1v1.17h-1zM18 39.27h1v1.17h-1zM13 40.39h1v1.17h-1zM3 41.51h1v1.17h-1zM7 41.51h1v1.17h-1zM8 41.51h1v1.17h-1zM38 42.64h1v1.17h-1zM8 43.76h1v1.17h-1zM8 44.88h1v1.17h-1zM17 46.00h1v1.17h-1zM18 46.00h1v1.17h-1zM20 46.00h1v1.17h-1zM5 47.12h1v1.17h-1zM14 47.12h1v1.17h-1zM14 48.25h1v1.17h-1zM20 48.25h1v1.17h-1zM11 49.37h1v1.17h-1zM13 50.49h1v1.17h-1zM16 50.49h1v1.17h-1zM30 50.49h1v1.17h-1zM8 51.61h1v1.17h-1zM13 52.73h1v1.17h-1zM38 52.73h1v1.17h-1zM6 53.86h1v1.17h-1zM16 53.86h1v1.17h-1zM7 54.98h1v1.17h-1zM18 54.98h1v1.17h-1zM6 58.34h1v1.17h-1zM10 58.34h1v1.17h-1zM16 58.34h1v1.17h-1zM13 59.47h1v1.17h-1zM17 59.47h1v1.17h-1zM8 60.59h1v1.17h-1zM19 60.59h1v1.17h-1zM7 61.71h1v1.17h-1zM16 61.71h1v1.17h-1zM18 61.71h1v1.17h-1zM6 62.83h1v1.17h-1zM0 63.95h1v1.17h-1zM17 63.95h1v1.17h-1zM20 63.95h1v1.17h-1zM8 65.08h1v1.17h-1zM6 66.20h1v1.17h-1zM19 67.32h1v1.17h-1zM30 68.44h1v1.17h-1zM34 68.44h1v1.17h-1zM37 68.44h1v1.17h-1zM7 69.56h1v1.17h-1zM14 69.56h1v1.17h-1zM18 70.69h1v1.17h-1zM17 71.81h1v1.17h-1zM38 71.81h1v1.17h-1zM8 72.93h1v1.17h-1zM10 72.93h1v1.17h-1zM19 74.05h1v1.17h-1zM9 75.17h1v1.17h-1zM11 75.17h1v1.17h-1zM14 75.17h1v1.17h-1zM17 75.17h1v1.17h-1zM13 76.30h1v1.17h-1zM14 76.30h1v1.17h-1zM19 76.30h1v1.17h-1zM35 76.30h1v1.17h-1zM17 78.54h1v1.17h-1zM8 79.66h1v1.17h-1zM13 79.66h1v1.17h-1zM34 79.66h1v1.17h-1zM13 80.78h1v1.17h-1zM18 80.78h1v1.17h-1zM17 81.91h1v1.17h-1zM19 81.91h1v1.17h-1zM35 81.91h1v1.17h-1zM8 83.03h1v1.17h-1zM8 84.15h1v1.17h-1zM17 84.15h1v1.17h-1zM18 84.15h1v1.17h-1zM10 85.27h1v1.17h-1zM13 85.27h1v1.17h-1zM6 86.39h1v1.17h-1zM16 86.39h1v1.17h-1zM35 86.39h1v1.17h-1zM7 87.52h1v1.17h-1zM19 87.52h1v1.17h-1zM7 88.64h1v1.17h-1zM20 88.64h1v1.17h-1zM17 89.76h1v1.17h-1zM22 89.76h1v1.17h-1zM6 92.00h1v1.17h-1zM15 92.00h1v1.17h-1zM22 94.25h1v1.17h-1zM24 94.25h1v1.17h-1zM5 95.37h1v1.17h-1zM9 95.37h1v1.17h-1zM6 96.49h1v1.17h-1zM8 96.49h1v1.17h-1zM11 96.49h1v1.17h-1zM24 97.61h1v1.17h-1zM38 97.61h1v1.17h-1zM1 98.74h1v1.17h-1zM17 98.74h1v1.17h-1zM19 98.74h1v1.17h-1zM19 99.86h1v1.17h-1zM38 99.86h1v1.17h-1zM13 100.98h1v1.17h-1zM19 100.98h1v1.17h-1zM20 102.10h1v1.17h-1zM37 103.22h1v1.17h-1zM19 104.35h1v1.17h-1zM17 107.71h1v1.17h-1zM37 107.71h1v1.17h-1zM15 108.83h1v1.17h-1zM31 108.83h1v1.17h-1zM0 109.96h1v1.17h-1zM8 109.96h1v1.17h-1zM37 109.96h1v1.17h-1zM15 111.08h1v1.17h-1zM37 111.08h1v1.17h-1zM14 113.60h1v1.18h-1zM25 113.60h1v1.18h-1zM28 114.73h1v1.18h-1zM12 115.86h1v1.18h-1zM25 115.86h1v1.18h-1zM16 117.00h1v1.18h-1zM21 117.00h1v1.18h-1zM25 117.00h1v1.18h-1zM34 118.13h1v1.18h-1zM2 119.26h1v1.18h-1zM19 119.26h1v1.18h-1zM36 119.26h1v1.18h-1zM13 120.39h1v1.18h-1zM7 121.53h1v1.18h-1zM20 121.53h1v1.18h-1zM29 122.66h1v1.18h-1zM16 123.79h1v1.18h-1zM25 123.79h1v1.18h-1zM13 124.92h1v1.18h-1zM27 124.92h1v1.18h-1zM2 126.05h1v1.18h-1zM22 126.05h1v1.18h-1zM26 126.05h1v1.18h-1zM29 126.05h1v1.18h-1zM31 126.05h1v1.18h-1zM13 127.19h1v1.18h-1zM37 128.32h1v1.18h-1zM7 129.45h1v1.18h-1zM30 129.45h1v1.18h-1zM34 129.45h1v1.18h-1zM36 129.45h1v1.18h-1zM15 130.58h1v1.18h-1zM18 130.58h1v1.18h-1zM29 130.58h1v1.18h-1zM37 130.58h1v1.18h-1zM8 131.72h1v1.18h-1zM25 131.72h1v1.18h-1zM26 131.72h1v1.18h-1zM28 131.72h1v1.18h-1zM0 132.85h1v1.18h-1zM8 132.85h1v1.18h-1zM15 132.85h1v1.18h-1zM28 132.85h1v1.18h-1zM33 132.85h1v1.18h-1zM14 133.98h1v1.18h-1zM19 133.98h1v1.18h-1zM25 133.98h1v1.18h-1zM14 135.11h1v1.18h-1zM20 135.11h1v1.18h-1zM21 135.11h1v1.18h-1zM31 135.11h1v1.18h-1zM13 136.25h1v1.18h-1zM29 136.25h1v1.18h-1zM33 136.25h1v1.18h-1zM0 137.38h1v1.18h-1zM6 137.38h1v1.18h-1zM29 137.38h1v1.18h-1zM0 138.51h1v1.18h-1zM8 138.51h1v1.18h-1zM9 138.51h1v1.18h-1zM30 138.51h1v1.18h-1zM31 138.51h1v1.18h-1zM6 139.64h1v1.18h-1zM22 139.64h1v1.18h-1zM34 139.64h1v1.18h-1zM6 140.77h1v1.18h-1zM14 140.77h1v1.18h-1zM16 140.77h1v1.18h-1zM37 143.04h1v1.18h-1zM26 144.17h1v1.18h-1zM2 145.30h1v1.18h-1zM7 145.30h1v1.18h-1zM19 145.30h1v1.18h-1zM24 145.30h1v1.18h-1zM29 145.30h1v1.18h-1zM5 146.44h1v1.18h-1zM19 146.44h1v1.18h-1zM8 147.57h1v1.18h-1zM12 147.57h1v1.18h-1zM13 147.57h1v1.18h-1zM16 147.57h1v1.18h-1zM17 147.57h1v1.18h-1zM18 147.57h1v1.18h-1zM24 147.57h1v1.18h-1zM31 147.57h1v1.18h-1zM20 150.00h1v1.17h-1zM21 150.00h1v1.17h-1zM8 151.12h1v1.17h-1zM20 151.12h1v1.17h-1zM25 151.12h1v1.17h-1zM10 152.23h1v1.17h-1zM12 152.23h1v1.17h-1zM26 152.23h1v1.17h-1zM27 152.23h1v1.17h-1zM13 153.35h1v1.17h-1zM15 153.35h1v1.17h-1zM18 153.35h1v1.17h-1zM6 154.47h1v1.17h-1zM7 154.47h1v1.17h-1zM36 154.47h1v1.17h-1zM5 155.58h1v1.17h-1zM6 155.58h1v1.17h-1zM21 155.58h1v1.17h-1zM34 155.58h1v1.17h-1zM17 156.70h1v1.17h-1zM30 156.70h1v1.17h-1zM31 156.70h1v1.17h-1zM9 157.81h1v1.17h-1zM15 157.81h1v1.17h-1zM16 157.81h1v1.17h-1zM24 157.81h1v1.17h-1zM27 157.81h1v1.17h-1zM26 158.93h1v1.17h-1zM26 160.05h1v1.17h-1zM29 160.05h1v1.17h-1zM30 160.05h1v1.17h-1zM6 162.28h1v1.17h-1zM13 162.28h1v1.17h-1zM38 162.28h1v1.17h-1zM12 163.40h1v1.17h-1zM11 164.51h1v1.17h-1zM14 164.51h1v1.17h-1zM15 164.51h1v1.17h-1zM16 164.51h1v1.17h-1zM26 164.51h1v1.17h-1zM19 165.63h1v1.17h-1zM21 165.63h1v1.17h-1zM33 165.63h1v1.17h-1zM23 166.74h1v1.17h-1zM28 166.74h1v1.17h-1zM36 166.74h1v1.17h-1zM13 168.98h1v1.17h-1zM18 168.98h1v1.17h-1zM20 168.98h1v1.17h-1zM24 168.98h1v1.17h-1zM31 168.98h1v1.17h-1zM5 170.09h1v1.17h-1zM11 170.09h1v1.17h-1zM15 170.09h1v1.17h-1zM24 170.09h1v1.17h-1zM29 171.21h1v1.17h-1zM32 171.21h1v1.17h-1zM9 172.33h1v1.17h-1zM13 172.33h1v1.17h-1zM25 172.33h1v1.17h-1zM26 172.33h1v1.17h-1zM6 173.44h1v1.17h-1zM14 173.44h1v1.17h-1zM23 173.44h1v1.17h-1zM20 174.56h1v1.17h-1zM25 174.56h1v1.17h-1zM33 174.56h1v1.17h-1zM38 174.56h1v1.17h-1zM19 175.68h1v1.17h-1zM26 175.68h1v1.17h-1zM29 175.68h1v1.17h-1zM32 175.68h1v1.17h-1zM7 176.79h1v1.17h-1zM12 176.79h1v1.17h-1zM14 176.79h1v1.17h-1zM25 176.79h1v1.17h-1zM26 176.79h1v1.17h-1zM32 176.79h1v1.17h-1zM34 176.79h1v1.17h-1zM5 179.02h1v1.17h-1zM8 179.02h1v1.17h-1zM12 179.02h1v1.17h-1zM27 179.02h1v1.17h-1zM34 179.02h1v1.17h-1zM31 180.14h1v1.17h-1zM35 180.14h1v1.17h-1zM17 181.26h1v1.17h-1zM18 181.26h1v1.17h-1zM20 181.26h1v1.17h-1zM36 181.26h1v1.17h-1zM28 182.37h1v1.17h-1zM32 182.37h1v1.17h-1zM33 182.37h1v1.17h-1zM24 183.49h1v1.17h-1zM25 183.49h1v1.17h-1zM17 184.61h1v1.17h-1zM18 184.61h1v1.17h-1zM27 184.61h1v1.17h-1zM33 184.61h1v1.17h-1zM25 185.72h1v1.17h-1zM35 185.72h1v1.17h-1zM24 186.84h1v1.17h-1zM29 186.84h1v1.17h-1zM33 186.84h1v1.17h-1zM10 187.95h1v1.17h-1zM14 187.95h1v1.17h-1zM24 187.95h1v1.17h-1zM20 189.07h1v1.17h-1zM22 189.07h1v1.17h-1zM29 189.07h1v1.17h-1zM16 190.19h1v1.17h-1zM26 190.19h1v1.17h-1zM10 191.30h1v1.17h-1zM11 191.30h1v1.17h-1zM25 191.30h1v1.17h-1zM27 191.30h1v1.17h-1zM36 191.30h1v1.17h-1zM8 192.42h1v1.17h-1zM20 192.42h1v1.17h-1zM26 192.42h1v1.17h-1zM27 192.42h1v1.17h-1zM35 192.42h1v1.17h-1zM9 193.54h1v1.17h-1zM22 193.54h1v1.17h-1zM23 193.54h1v1.17h-1zM32 193.54h1v1.17h-1zM33 193.54h1v1.17h-1zM6 194.65h1v1.17h-1zM22 194.65h1v1.17h-1zM27 194.65h1v1.17h-1zM26 195.77h1v1.17h-1zM30 195.77h1v1.17h-1zM31 195.77h1v1.17h-1zM17 196.88h1v1.17h-1zM20 196.88h1v1.17h-1zM29 196.88h1v1.17h-1zM34 196.88h1v1.17h-1zM36 196.88h1v1.17h-1zM22 198.00h1v1.17h-1zM25 198.00h1v1.17h-1zM28 198.00h1v1.17h-1zM9 199.12h1v1.17h-1zM14 199.12h1v1.17h-1zM29 199.12h1v1.17h-1zM20 201.35h1v1.17h-1zM28 201.35h1v1.17h-1zM32 201.35h1v1.17h-1zM34 201.35h1v1.17h-1zM37 201.35h1v1.17h-1zM6 202.47h1v1.17h-1zM10 202.47h1v1.17h-1zM11 202.47h1v1.17h-1zM14 202.47h1v1.17h-1zM20 202.47h1v1.17h-1zM25 202.47h1v1.17h-1zM7 203.58h1v1.17h-1zM16 203.58h1v1.17h-1zM25 203.58h1v1.17h-1zM29 203.58h1v1.17h-1zM32 203.58h1v1.17h-1zM34 203.58h1v1.17h-1zM13 204.70h1v1.17h-1zM15 204.70h1v1.17h-1zM25 204.70h1v1.17h-1zM28 204.70h1v1.17h-1zM29 204.70h1v1.17h-1zM32 204.70h1v1.17h-1zM37 204.70h1v1.17h-1zM16 205.82h1v1.17h-1zM24 205.82h1v1.17h-1zM27 205.82h1v1.17h-1zM8 206.93h1v1.17h-1zM36 206.93h1v1.17h-1zM7 208.05h1v1.17h-1zM8 208.05h1v1.17h-1zM11 208.05h1v1.17h-1zM12 208.05h1v1.17h-1zM13 208.05h1v1.17h-1zM23 208.05h1v1.17h-1zM25 208.05h1v1.17h-1zM34 208.05h1v1.17h-1zM13 209.16h1v1.17h-1zM37 209.16h1v1.17h-1zM15 210.28h1v1.17h-1zM18 210.28h1v1.17h-1zM23 210.28h1v1.17h-1zM29 210.28h1v1.17h-1zM31 210.28h1v1.17h-1zM38 210.28h1v1.17h-1zM23 211.40h1v1.17h-1zM24 211.40h1v1.17h-1zM29 211.40h1v1.17h-1zM13 212.51h1v1.17h-1zM20 212.51h1v1.17h-1zM24 212.51h1v1.17h-1zM6 213.63h1v1.17h-1zM21 213.63h1v1.17h-1zM24 213.63h1v1.17h-1zM27 213.63h1v1.17h-1zM33 213.63h1v1.17h-1zM23 214.75h1v1.17h-1zM36 214.75h1v1.17h-1zM37 214.75h1v1.17h-1zM38 214.75h1v1.17h-1zM8 215.86h1v1.17h-1zM27 215.86h1v1.17h-1zM17 216.98h1v1.17h-1zM27 216.98h1v1.17h-1zM29 216.98h1v1.17h-1zM38 216.98h1v1.17h-1zM6 218.09h1v1.17h-1zM13 218.09h1v1.17h-1zM15 218.09h1v1.17h-1zM16 218.09h1v1.17h-1zM20 218.09h1v1.17h-1zM27 218.09h1v1.17h-1zM25 219.21h1v1.17h-1zM28 219.21h1v1.17h-1zM7 220.33h1v1.17h-1zM13 220.33h1v1.17h-1zM23 220.33h1v1.17h-1zM34 220.33h1v1.17h-1zM22 221.44h1v1.17h-1zM27 221.44h1v1.17h-1zM36 221.44h1v1.17h-1zM37 221.44h1v1.17h-1zM10 222.56h1v1.17h-1zM20 222.56h1v1.17h-1zM32 222.56h1v1.17h-1zM36 222.56h1v1.17h-1zM8 223.68h1v1.17h-1zM13 223.68h1v1.17h-1zM27 224.79h1v1.17h-1zM33 224.79h1v1.17h-1zM10 225.91h1v1.17h-1zM15 225.91h1v1.17h-1zM5 227.02h1v1.17h-1zM7 227.02h1v1.17h-1zM32 227.02h1v1.17h-1zM5 228.14h1v1.17h-1zM8 228.14h1v1.17h-1zM10 228.14h1v1.17h-1zM16 228.14h1v1.17h-1zM22 228.14h1v1.17h-1zM20 229.26h1v1.17h-1zM23 229.26h1v1.17h-1zM26 229.26h1v1.17h-1zM35 229.26h1v1.17h-1zM27 230.37h1v1.17h-1zM29 230.37h1v1.17h-1zM32 230.37h1v1.17h-1zM7 231.49h1v1.17h-1zM8 231.49h1v1.17h-1zM9 231.49h1v1.17h-1zM20 231.49h1v1.17h-1zM21 231.49h1v1.17h-1zM27 231.49h1v1.17h-1zM31 231.49h1v1.17h-1zM37 231.49h1v1.17h-1zM21 232.61h1v1.17h-1zM24 232.61h1v1.17h-1zM29 232.61h1v1.17h-1zM30 232.61h1v1.17h-1zM31 232.61h1v1.17h-1zM20 233.72h1v1.17h-1zM25 233.72h1v1.17h-1zM33 233.72h1v1.17h-1zM5 234.84h1v1.17h-1zM6 234.84h1v1.17h-1zM15 234.84h1v1.17h-1zM21 234.84h1v1.17h-1zM7 235.96h1v1.17h-1zM8 235.96h1v1.17h-1zM23 235.96h1v1.17h-1zM30 235.96h1v1.17h-1zM38 235.96h1v1.17h-1zM15 237.07h1v1.17h-1zM34 237.07h1v1.17h-1zM38 237.07h1v1.17h-1zM20 238.19h1v1.17h-1zM30 238.19h1v1.17h-1zM11 239.30h1v1.17h-1zM17 239.30h1v1.17h-1zM28 239.30h1v1.17h-1zM10 240.42h1v1.17h-1zM27 240.42h1v1.17h-1zM20 241.54h1v1.17h-1zM25 241.54h1v1.17h-1zM37 241.54h1v1.17h-1zM5 242.65h1v1.17h-1zM11 243.77h1v1.17h-1zM32 243.77h1v1.17h-1zM11 244.89h1v1.17h-1zM22 244.89h1v1.17h-1zM15 246.00h1v1.17h-1zM26 246.00h1v1.17h-1zM32 246.00h1v1.17h-1zM19 247.12h1v1.17h-1zM35 247.12h1v1.17h-1zM5 248.23h1v1.17h-1zM16 248.23h1v1.17h-1zM20 249.35h1v1.17h-1zM27 249.35h1v1.17h-1zM29 249.35h1v1.17h-1zM34 249.35h1v1.17h-1zM33 250.47h1v1.17h-1zM6 251.58h1v1.17h-1zM10 251.58h1v1.17h-1zM23 251.58h1v1.17h-1zM37 251.58h1v1.17h-1z"/><path fill="#f6f6f6" d="M12 0.00h1v1.17h-1zM13 0.00h1v1.17h-1zM33 0.00h1v1.17h-1zM38 0.00h1v1.17h-1zM19 1.12h1v1.17h-1zM27 1.12h1v1.17h-1zM38 1.12h1v1.17h-1zM8 2.24h1v1.17h-1zM17 2.24h1v1.17h-1zM29 2.24h1v1.17h-1zM34 2.24h1v1.17h-1zM38 2.24h1v1.17h-1zM16 3.37h1v1.17h-1zM37 3.37h1v1.17h-1zM0 4.49h1v1.17h-1zM21 5.61h1v1.17h-1zM37 5.61h1v1.17h-1zM32 6.73h1v1.17h-1zM37 6.73h1v1.17h-1zM38 6.73h1v1.17h-1zM18 7.85h1v1.17h-1zM38 8.98h1v1.17h-1zM18 10.10h1v1.17h-1zM26 10.10h1v1.17h-1zM37 10.10h1v1.17h-1zM0 11.22h1v1.17h-1zM8 11.22h1v1.17h-1zM10 11.22h1v1.17h-1zM13 12.34h1v1.17h-1zM14 12.34h1v1.17h-1zM36 13.46h1v1.17h-1zM6 14.59h1v1.17h-1zM20 14.59h1v1.17h-1zM15 15.71h1v1.17h-1zM19 15.71h1v1.17h-1zM11 16.83h1v1.17h-1zM16 16.83h1v1.17h-1zM10 17.95h1v1.17h-1zM15 17.95h1v1.17h-1zM24 19.07h1v1.17h-1zM14 20.20h1v1.17h-1zM27 20.20h1v1.17h-1zM29 20.20h1v1.17h-1zM31 20.20h1v1.17h-1zM34 20.20h1v1.17h-1zM35 20.20h1v1.17h-1zM13 22.44h1v1.17h-1zM16 22.44h1v1.17h-1zM28 22.44h1v1.17h-1zM23 24.68h1v1.17h-1zM37 24.68h1v1.17h-1zM13 25.81h1v1.17h-1zM27 25.81h1v1.17h-1zM10 26.93h1v1.17h-1zM10 28.05h1v1.17h-1zM13 28.05h1v1.17h-1zM16 28.05h1v1.17h-1zM5 29.17h1v1.17h-1zM15 29.17h1v1.17h-1zM36 29.17h1v1.17h-1zM12 30.29h1v1.17h-1zM21 30.29h1v1.17h-1zM32 30.29h1v1.17h-1zM10 32.54h1v1.17h-1zM5 33.66h1v1.17h-1zM13 33.66h1v1.17h-1zM17 33.66h1v1.17h-1zM21 33.66h1v1.17h-1zM37 33.66h1v1.17h-1zM38 33.66h1v1.17h-1zM5 34.78h1v1.17h-1zM6 34.78h1v1.17h-1zM11 34.78h1v1.17h-1zM13 34.78h1v1.17h-1zM37 34.78h1v1.17h-1zM16 35.90h1v1.17h-1zM25 35.90h1v1.17h-1zM35 35.90h1v1.17h-1zM11 37.03h1v1.17h-1zM14 37.03h1v1.17h-1zM37 37.03h1v1.17h-1zM6 38.15h1v1.17h-1zM8 38.15h1v1.17h-1zM15 38.15h1v1.17h-1zM17 38.15h1v1.17h-1zM8 39.27h1v1.17h-1zM15 39.27h1v1.17h-1zM35 39.27h1v1.17h-1zM4 40.39h1v1.17h-1zM7 40.39h1v1.17h-1zM15 40.39h1v1.17h-1zM27 40.39h1v1.17h-1zM30 40.39h1v1.17h-1zM38 40.39h1v1.17h-1zM15 41.51h1v1.17h-1zM37 41.51h1v1.17h-1zM5 43.76h1v1.17h-1zM7 43.76h1v1.17h-1zM10 43.76h1v1.17h-1zM18 43.76h1v1.17h-1zM10 44.88h1v1.17h-1zM13 44.88h1v1.17h-1zM17 44.88h1v1.17h-1zM8 46.00h1v1.17h-1zM16 46.00h1v1.17h-1zM25 46.00h1v1.17h-1zM34 46.00h1v1.17h-1zM6 47.12h1v1.17h-1zM15 47.12h1v1.17h-1zM33 47.12h1v1.17h-1zM8 48.25h1v1.17h-1zM5 49.37h1v1.17h-1zM7 49.37h1v1.17h-1zM16 49.37h1v1.17h-1zM34 50.49h1v1.17h-1zM10 52.73h1v1.17h-1zM35 52.73h1v1.17h-1zM5 53.86h1v1.17h-1zM23 53.86h1v1.17h-1zM35 53.86h1v1.17h-1zM10 56.10h1v1.17h-1zM38 56.10h1v1.17h-1zM5 57.22h1v1.17h-1zM15 57.22h1v1.17h-1zM12 58.34h1v1.17h-1zM33 60.59h1v1.17h-1zM8 61.71h1v1.17h-1zM11 61.71h1v1.17h-1zM38 61.71h1v1.17h-1zM15 62.83h1v1.17h-1zM6 63.95h1v1.17h-1zM13 63.95h1v1.17h-1zM38 63.95h1v1.17h-1zM18 66.20h1v1.17h-1zM30 66.20h1v1.17h-1zM25 68.44h1v1.17h-1zM29 68.44h1v1.17h-1zM18 69.56h1v1.17h-1zM29 69.56h1v1.17h-1zM5 70.69h1v1.17h-1zM17 70.69h1v1.17h-1zM32 70.69h1v1.17h-1zM35 70.69h1v1.17h-1zM15 71.81h1v1.17h-1zM16 71.81h1v1.17h-1zM27 71.81h1v1.17h-1zM6 72.93h1v1.17h-1zM7 72.93h1v1.17h-1zM16 72.93h1v1.17h-1zM35 72.93h1v1.17h-1zM38 72.93h1v1.17h-1zM12 74.05h1v1.17h-1zM18 74.05h1v1.17h-1zM26 74.05h1v1.17h-1zM6 75.17h1v1.17h-1zM10 75.17h1v1.17h-1zM32 75.17h1v1.17h-1zM33 75.17h1v1.17h-1zM10 76.30h1v1.17h-1zM24 76.30h1v1.17h-1zM25 77.42h1v1.17h-1zM32 77.42h1v1.17h-1zM34 77.42h1v1.17h-1zM12 78.54h1v1.17h-1zM34 78.54h1v1.17h-1zM32 79.66h1v1.17h-1zM10 80.78h1v1.17h-1zM30 80.78h1v1.17h-1zM31 80.78h1v1.17h-1zM36 80.78h1v1.17h-1zM37 80.78h1v1.17h-1zM13 81.91h1v1.17h-1zM38 81.91h1v1.17h-1zM5 83.03h1v1.17h-1zM30 83.03h1v1.17h-1zM14 84.15h1v1.17h-1zM16 84.15h1v1.17h-1zM19 84.15h1v1.17h-1zM21 84.15h1v1.17h-1zM34 84.15h1v1.17h-1zM8 85.27h1v1.17h-1zM14 85.27h1v1.17h-1zM13 86.39h1v1.17h-1zM18 86.39h1v1.17h-1zM21 86.39h1v1.17h-1zM31 86.39h1v1.17h-1zM6 87.52h1v1.17h-1zM12 87.52h1v1.17h-1zM16 87.52h1v1.17h-1zM17 87.52h1v1.17h-1zM31 87.52h1v1.17h-1zM29 89.76h1v1.17h-1zM37 89.76h1v1.17h-1zM11 90.88h1v1.17h-1zM16 90.88h1v1.17h-1zM24 90.88h1v1.17h-1zM27 90.88h1v1.17h-1zM28 90.88h1v1.17h-1zM32 90.88h1v1.17h-1zM34 90.88h1v1.17h-1zM5 92.00h1v1.17h-1zM7 92.00h1v1.17h-1zM10 92.00h1v1.17h-1zM16 92.00h1v1.17h-1zM18 92.00h1v1.17h-1zM31 92.00h1v1.17h-1zM35 92.00h1v1.17h-1zM16 93.13h1v1.17h-1zM18 93.13h1v1.17h-1zM35 93.13h1v1.17h-1zM10 94.25h1v1.17h-1zM12 94.25h1v1.17h-1zM14 94.25h1v1.17h-1zM16 94.25h1v1.17h-1zM17 94.25h1v1.17h-1zM27 95.37h1v1.17h-1zM34 95.37h1v1.17h-1zM37 95.37h1v1.17h-1zM38 95.37h1v1.17h-1zM16 96.49h1v1.17h-1zM31 96.49h1v1.17h-1zM34 96.49h1v1.17h-1zM11 97.61h1v1.17h-1zM18 97.61h1v1.17h-1zM22 97.61h1v1.17h-1zM5 98.74h1v1.17h-1zM6 98.74h1v1.17h-1zM16 98.74h1v1.17h-1zM26 98.74h1v1.17h-1zM15 99.86h1v1.17h-1zM16 99.86h1v1.17h-1zM18 99.86h1v1.17h-1zM23 100.98h1v1.17h-1zM29 100.98h1v1.17h-1zM7 102.10h1v1.17h-1zM9 102.10h1v1.17h-1zM16 102.10h1v1.17h-1zM38 102.10h1v1.17h-1zM10 103.22h1v1.17h-1zM12 103.22h1v1.17h-1zM22 103.22h1v1.17h-1zM6 104.35h1v1.17h-1zM14 104.35h1v1.17h-1zM34 104.35h1v1.17h-1zM8 105.47h1v1.17h-1zM14 105.47h1v1.17h-1zM32 105.47h1v1.17h-1zM24 107.71h1v1.17h-1zM30 107.71h1v1.17h-1zM31 107.71h1v1.17h-1zM33 107.71h1v1.17h-1zM34 107.71h1v1.17h-1zM36 107.71h1v1.17h-1zM5 108.83h1v1.17h-1zM21 108.83h1v1.17h-1zM23 108.83h1v1.17h-1zM30 108.83h1v1.17h-1zM36 108.83h1v1.17h-1zM6 109.96h1v1.17h-1zM14 109.96h1v1.17h-1zM28 109.96h1v1.17h-1zM33 109.96h1v1.17h-1zM16 111.08h1v1.17h-1zM22 111.08h1v1.17h-1zM25 111.08h1v1.17h-1zM27 111.08h1v1.17h-1zM33 111.08h1v1.17h-1zM36 111.08h1v1.17h-1zM6 113.60h1v1.18h-1zM10 113.60h1v1.18h-1zM12 113.60h1v1.18h-1zM18 113.60h1v1.18h-1zM19 113.60h1v1.18h-1zM22 113.60h1v1.18h-1zM26 113.60h1v1.18h-1zM16 114.73h1v1.18h-1zM19 114.73h1v1.18h-1zM29 114.73h1v1.18h-1zM31 114.73h1v1.18h-1zM36 114.73h1v1.18h-1zM37 114.73h1v1.18h-1zM9 115.86h1v1.18h-1zM13 115.86h1v1.18h-1zM29 115.86h1v1.18h-1zM35 115.86h1v1.18h-1zM36 115.86h1v1.18h-1zM3 117.00h1v1.18h-1zM26 117.00h1v1.18h-1zM30 117.00h1v1.18h-1zM37 117.00h1v1.18h-1zM11 118.13h1v1.18h-1zM17 118.13h1v1.18h-1zM3 119.26h1v1.18h-1zM28 120.39h1v1.18h-1zM36 120.39h1v1.18h-1zM6 121.53h1v1.18h-1zM8 122.66h1v1.18h-1zM9 122.66h1v1.18h-1zM14 122.66h1v1.18h-1zM24 122.66h1v1.18h-1zM34 122.66h1v1.18h-1zM0 123.79h1v1.18h-1zM9 123.79h1v1.18h-1zM32 123.79h1v1.18h-1zM1 124.92h1v1.18h-1zM32 124.92h1v1.18h-1zM16 126.05h1v1.18h-1zM34 126.05h1v1.18h-1zM36 126.05h1v1.18h-1zM0 127.19h1v1.18h-1zM1 127.19h1v1.18h-1zM14 128.32h1v1.18h-1zM17 128.32h1v1.18h-1zM29 128.32h1v1.18h-1zM36 128.32h1v1.18h-1zM0 129.45h1v1.18h-1zM20 129.45h1v1.18h-1zM2 130.58h1v1.18h-1zM12 130.58h1v1.18h-1zM30 130.58h1v1.18h-1zM33 130.58h1v1.18h-1zM9 131.72h1v1.18h-1zM12 131.72h1v1.18h-1zM1 132.85h1v1.18h-1zM17 132.85h1v1.18h-1zM20 132.85h1v1.18h-1zM35 132.85h1v1.18h-1zM12 133.98h1v1.18h-1zM30 133.98h1v1.18h-1zM32 133.98h1v1.18h-1zM8 135.11h1v1.18h-1zM16 135.11h1v1.18h-1zM17 135.11h1v1.18h-1zM24 135.11h1v1.18h-1zM33 135.11h1v1.18h-1zM1 136.25h1v1.18h-1zM7 136.25h1v1.18h-1zM19 136.25h1v1.18h-1zM32 136.25h1v1.18h-1zM36 136.25h1v1.18h-1zM13 137.38h1v1.18h-1zM36 137.38h1v1.18h-1zM12 138.51h1v1.18h-1zM13 138.51h1v1.18h-1zM33 138.51h1v1.18h-1zM2 139.64h1v1.18h-1zM15 139.64h1v1.18h-1zM29 139.64h1v1.18h-1zM36 139.64h1v1.18h-1zM1 140.77h1v1.18h-1zM12 140.77h1v1.18h-1zM13 140.77h1v1.18h-1zM17 140.77h1v1.18h-1zM20 140.77h1v1.18h-1zM31 140.77h1v1.18h-1zM9 141.91h1v1.18h-1zM24 141.91h1v1.18h-1zM32 141.91h1v1.18h-1zM7 143.04h1v1.18h-1zM36 143.04h1v1.18h-1zM18 144.17h1v1.18h-1zM20 144.17h1v1.18h-1zM23 144.17h1v1.18h-1zM3 145.30h1v1.18h-1zM5 145.30h1v1.18h-1zM6 145.30h1v1.18h-1zM12 145.30h1v1.18h-1zM15 145.30h1v1.18h-1zM30 145.30h1v1.18h-1zM3 146.44h1v1.18h-1zM15 146.44h1v1.18h-1zM24 146.44h1v1.18h-1zM36 146.44h1v1.18h-1zM1 147.57h1v1.18h-1zM7 147.57h1v1.18h-1zM15 147.57h1v1.18h-1zM21 147.57h1v1.18h-1zM29 147.57h1v1.18h-1zM22 150.00h1v1.17h-1zM24 150.00h1v1.17h-1zM31 150.00h1v1.17h-1zM14 151.12h1v1.17h-1zM21 151.12h1v1.17h-1zM37 151.12h1v1.17h-1zM8 152.23h1v1.17h-1zM9 152.23h1v1.17h-1zM23 152.23h1v1.17h-1zM34 153.35h1v1.17h-1zM19 154.47h1v1.17h-1zM8 155.58h1v1.17h-1zM13 155.58h1v1.17h-1zM37 155.58h1v1.17h-1zM8 157.81h1v1.17h-1zM10 157.81h1v1.17h-1zM5 158.93h1v1.17h-1zM9 158.93h1v1.17h-1zM13 158.93h1v1.17h-1zM20 158.93h1v1.17h-1zM24 158.93h1v1.17h-1zM23 160.05h1v1.17h-1zM25 160.05h1v1.17h-1zM28 160.05h1v1.17h-1zM33 160.05h1v1.17h-1zM35 160.05h1v1.17h-1zM17 161.16h1v1.17h-1zM31 161.16h1v1.17h-1zM5 162.28h1v1.17h-1zM37 162.28h1v1.17h-1zM6 163.40h1v1.17h-1zM18 163.40h1v1.17h-1zM34 163.40h1v1.17h-1zM9 164.51h1v1.17h-1zM13 164.51h1v1.17h-1zM38 164.51h1v1.17h-1zM18 165.63h1v1.17h-1zM20 165.63h1v1.17h-1zM32 165.63h1v1.17h-1zM8 166.74h1v1.17h-1zM30 166.74h1v1.17h-1zM15 167.86h1v1.17h-1zM38 167.86h1v1.17h-1zM10 168.98h1v1.17h-1zM12 168.98h1v1.17h-1zM21 168.98h1v1.17h-1zM23 168.98h1v1.17h-1zM25 168.98h1v1.17h-1zM29 168.98h1v1.17h-1zM10 170.09h1v1.17h-1zM13 170.09h1v1.17h-1zM36 170.09h1v1.17h-1zM12 171.21h1v1.17h-1zM16 171.21h1v1.17h-1zM38 171.21h1v1.17h-1zM5 172.33h1v1.17h-1zM18 172.33h1v1.17h-1zM36 172.33h1v1.17h-1zM37 172.33h1v1.17h-1zM28 175.68h1v1.17h-1zM11 176.79h1v1.17h-1zM13 177.91h1v1.17h-1zM18 177.91h1v1.17h-1zM25 177.91h1v1.17h-1zM32 177.91h1v1.17h-1zM15 179.02h1v1.17h-1zM19 179.02h1v1.17h-1zM17 180.14h1v1.17h-1zM20 180.14h1v1.17h-1zM26 180.14h1v1.17h-1zM8 181.26h1v1.17h-1zM12 181.26h1v1.17h-1zM7 182.37h1v1.17h-1zM16 182.37h1v1.17h-1zM24 182.37h1v1.17h-1zM10 183.49h1v1.17h-1zM27 183.49h1v1.17h-1zM12 184.61h1v1.17h-1zM6 185.72h1v1.17h-1zM19 185.72h1v1.17h-1zM37 185.72h1v1.17h-1zM13 186.84h1v1.17h-1zM17 186.84h1v1.17h-1zM28 186.84h1v1.17h-1zM30 186.84h1v1.17h-1zM7 187.95h1v1.17h-1zM17 187.95h1v1.17h-1zM25 187.95h1v1.17h-1zM12 189.07h1v1.17h-1zM16 189.07h1v1.17h-1zM17 189.07h1v1.17h-1zM19 189.07h1v1.17h-1zM34 189.07h1v1.17h-1zM10 190.19h1v1.17h-1zM15 190.19h1v1.17h-1zM18 190.19h1v1.17h-1zM9 191.30h1v1.17h-1zM12 191.30h1v1.17h-1zM5 192.42h1v1.17h-1zM12 192.42h1v1.17h-1zM28 192.42h1v1.17h-1zM33 192.42h1v1.17h-1zM8 193.54h1v1.17h-1zM11 193.54h1v1.17h-1zM15 193.54h1v1.17h-1zM28 193.54h1v1.17h-1zM7 194.65h1v1.17h-1zM16 194.65h1v1.17h-1zM30 194.65h1v1.17h-1zM38 194.65h1v1.17h-1zM7 195.77h1v1.17h-1zM19 195.77h1v1.17h-1zM34 195.77h1v1.17h-1zM8 196.88h1v1.17h-1zM16 198.00h1v1.17h-1zM21 198.00h1v1.17h-1zM29 198.00h1v1.17h-1zM7 199.12h1v1.17h-1zM10 199.12h1v1.17h-1zM19 199.12h1v1.17h-1zM36 199.12h1v1.17h-1zM37 199.12h1v1.17h-1zM11 200.23h1v1.17h-1zM24 200.23h1v1.17h-1zM31 200.23h1v1.17h-1zM32 200.23h1v1.17h-1zM5 201.35h1v1.17h-1zM12 201.35h1v1.17h-1zM27 201.35h1v1.17h-1zM5 202.47h1v1.17h-1zM9 202.47h1v1.17h-1zM12 202.47h1v1.17h-1zM18 202.47h1v1.17h-1zM26 202.47h1v1.17h-1zM27 202.47h1v1.17h-1zM5 203.58h1v1.17h-1zM15 203.58h1v1.17h-1zM36 203.58h1v1.17h-1zM6 204.70h1v1.17h-1zM20 204.70h1v1.17h-1zM8 205.82h1v1.17h-1zM33 205.82h1v1.17h-1zM11 206.93h1v1.17h-1zM38 206.93h1v1.17h-1zM6 208.05h1v1.17h-1zM10 209.16h1v1.17h-1zM15 209.16h1v1.17h-1zM20 209.16h1v1.17h-1zM31 209.16h1v1.17h-1zM36 209.16h1v1.17h-1zM11 210.28h1v1.17h-1zM7 211.40h1v1.17h-1zM16 211.40h1v1.17h-1zM28 211.40h1v1.17h-1zM31 211.40h1v1.17h-1zM32 211.40h1v1.17h-1zM14 212.51h1v1.17h-1zM22 212.51h1v1.17h-1zM32 212.51h1v1.17h-1zM35 212.51h1v1.17h-1zM37 212.51h1v1.17h-1zM11 213.63h1v1.17h-1zM15 213.63h1v1.17h-1zM22 213.63h1v1.17h-1zM26 213.63h1v1.17h-1zM35 213.63h1v1.17h-1zM36 213.63h1v1.17h-1zM8 214.75h1v1.17h-1zM9 214.75h1v1.17h-1zM13 214.75h1v1.17h-1zM15 214.75h1v1.17h-1zM19 214.75h1v1.17h-1zM20 214.75h1v1.17h-1zM13 215.86h1v1.17h-1zM14 215.86h1v1.17h-1zM17 215.86h1v1.17h-1zM18 215.86h1v1.17h-1zM30 215.86h1v1.17h-1zM33 215.86h1v1.17h-1zM11 216.98h1v1.17h-1zM23 216.98h1v1.17h-1zM36 216.98h1v1.17h-1zM37 216.98h1v1.17h-1zM7 218.09h1v1.17h-1zM25 218.09h1v1.17h-1zM28 218.09h1v1.17h-1zM8 219.21h1v1.17h-1zM15 219.21h1v1.17h-1zM27 219.21h1v1.17h-1zM29 219.21h1v1.17h-1zM8 220.33h1v1.17h-1zM16 220.33h1v1.17h-1zM18 220.33h1v1.17h-1zM19 221.44h1v1.17h-1zM21 222.56h1v1.17h-1zM23 222.56h1v1.17h-1zM6 223.68h1v1.17h-1zM11 223.68h1v1.17h-1zM14 223.68h1v1.17h-1zM16 223.68h1v1.17h-1zM18 223.68h1v1.17h-1zM20 223.68h1v1.17h-1zM27 223.68h1v1.17h-1zM29 223.68h1v1.17h-1zM32 223.68h1v1.17h-1zM33 223.68h1v1.17h-1zM38 223.68h1v1.17h-1zM5 224.79h1v1.17h-1zM13 224.79h1v1.17h-1zM29 224.79h1v1.17h-1zM36 224.79h1v1.17h-1zM9 225.91h1v1.17h-1zM12 225.91h1v1.17h-1zM22 225.91h1v1.17h-1zM36 225.91h1v1.17h-1zM11 227.02h1v1.17h-1zM14 228.14h1v1.17h-1zM19 228.14h1v1.17h-1zM31 228.14h1v1.17h-1zM15 229.26h1v1.17h-1zM28 229.26h1v1.17h-1zM15 230.37h1v1.17h-1zM18 230.37h1v1.17h-1zM21 230.37h1v1.17h-1zM28 230.37h1v1.17h-1zM37 230.37h1v1.17h-1zM38 230.37h1v1.17h-1zM7 232.61h1v1.17h-1zM20 232.61h1v1.17h-1zM25 232.61h1v1.17h-1zM17 233.72h1v1.17h-1zM18 233.72h1v1.17h-1zM9 234.84h1v1.17h-1zM18 235.96h1v1.17h-1zM36 235.96h1v1.17h-1zM23 237.07h1v1.17h-1zM24 237.07h1v1.17h-1zM35 237.07h1v1.17h-1zM37 237.07h1v1.17h-1zM10 239.30h1v1.17h-1zM7 240.42h1v1.17h-1zM9 240.42h1v1.17h-1zM17 240.42h1v1.17h-1zM26 241.54h1v1.17h-1zM8 242.65h1v1.17h-1zM1 243.77h1v1.17h-1zM12 243.77h1v1.17h-1zM20 243.77h1v1.17h-1zM10 244.89h1v1.17h-1zM29 244.89h1v1.17h-1zM30 244.89h1v1.17h-1zM8 246.00h1v1.17h-1zM9 246.00h1v1.17h-1zM16 246.00h1v1.17h-1zM19 246.00h1v1.17h-1zM24 246.00h1v1.17h-1zM3 247.12h1v1.17h-1zM8 247.12h1v1.17h-1zM13 247.12h1v1.17h-1zM3 248.23h1v1.17h-1zM4 248.23h1v1.17h-1zM8 249.35h1v1.17h-1zM9 249.35h1v1.17h-1zM15 249.35h1v1.17h-1zM21 249.35h1v1.17h-1zM25 249.35h1v1.17h-1zM28 249.35h1v1.17h-1zM32 249.35h1v1.17h-1zM1 250.47h1v1.17h-1zM14 250.47h1v1.17h-1zM9 251.58h1v1.17h-1zM11 251.58h1v1.17h-1zM13 251.58h1v1.17h-1zM18 251.58h1v1.17h-1zM24 251.58h1v1.17h-1zM31 251.58h1v1.17h-1z"/><path fill="#f0f0f6" d="M14 0.00h1v1.17h-1zM10 1.12h1v1.17h-1zM15 1.12h1v1.17h-1zM24 1.12h1v1.17h-1zM10 2.24h1v1.17h-1zM15 2.24h1v1.17h-1zM16 2.24h1v1.17h-1zM17 4.49h1v1.17h-1zM16 5.61h1v1.17h-1zM14 7.85h1v1.17h-1zM16 7.85h1v1.17h-1zM0 8.98h1v1.17h-1zM29 8.98h1v1.17h-1zM36 10.10h1v1.17h-1zM15 11.22h1v1.17h-1zM15 12.34h1v1.17h-1zM26 12.34h1v1.17h-1zM32 13.46h1v1.17h-1zM10 14.59h1v1.17h-1zM14 14.59h1v1.17h-1zM16 14.59h1v1.17h-1zM27 14.59h1v1.17h-1zM33 14.59h1v1.17h-1zM10 15.71h1v1.17h-1zM17 15.71h1v1.17h-1zM28 15.71h1v1.17h-1zM31 16.83h1v1.17h-1zM5 17.95h1v1.17h-1zM32 17.95h1v1.17h-1zM13 19.07h1v1.17h-1zM5 20.20h1v1.17h-1zM36 20.20h1v1.17h-1zM20 21.32h1v1.17h-1zM12 24.68h1v1.17h-1zM13 24.68h1v1.17h-1zM5 25.81h1v1.17h-1zM24 25.81h1v1.17h-1zM25 25.81h1v1.17h-1zM35 26.93h1v1.17h-1zM36 28.05h1v1.17h-1zM5 30.29h1v1.17h-1zM14 30.29h1v1.17h-1zM14 31.42h1v1.17h-1zM27 31.42h1v1.17h-1zM16 33.66h1v1.17h-1zM27 34.78h1v1.17h-1zM34 34.78h1v1.17h-1zM28 37.03h1v1.17h-1zM35 37.03h1v1.17h-1zM0 38.15h1v1.17h-1zM16 38.15h1v1.17h-1zM10 39.27h1v1.17h-1zM16 39.27h1v1.17h-1zM29 39.27h1v1.17h-1zM18 40.39h1v1.17h-1zM20 40.39h1v1.17h-1zM10 42.64h1v1.17h-1zM15 42.64h1v1.17h-1zM24 42.64h1v1.17h-1zM35 42.64h1v1.17h-1zM36 42.64h1v1.17h-1zM15 43.76h1v1.17h-1zM33 44.88h1v1.17h-1zM14 46.00h1v1.17h-1zM18 47.12h1v1.17h-1zM35 47.12h1v1.17h-1zM18 48.25h1v1.17h-1zM38 51.61h1v1.17h-1zM5 52.73h1v1.17h-1zM8 52.73h1v1.17h-1zM14 52.73h1v1.17h-1zM21 52.73h1v1.17h-1zM8 53.86h1v1.17h-1zM26 53.86h1v1.17h-1zM17 54.98h1v1.17h-1zM20 54.98h1v1.17h-1zM25 54.98h1v1.17h-1zM10 57.22h1v1.17h-1zM12 57.22h1v1.17h-1zM24 57.22h1v1.17h-1zM35 57.22h1v1.17h-1zM21 58.34h1v1.17h-1zM35 58.34h1v1.17h-1zM34 59.47h1v1.17h-1zM37 59.47h1v1.17h-1zM34 60.59h1v1.17h-1zM35 60.59h1v1.17h-1zM5 62.83h1v1.17h-1zM30 63.95h1v1.17h-1zM11 65.08h1v1.17h-1zM29 65.08h1v1.17h-1zM34 65.08h1v1.17h-1zM10 67.32h1v1.17h-1zM28 67.32h1v1.17h-1zM29 67.32h1v1.17h-1zM14 68.44h1v1.17h-1zM12 69.56h1v1.17h-1zM13 69.56h1v1.17h-1zM6 70.69h1v1.17h-1zM37 70.69h1v1.17h-1zM22 71.81h1v1.17h-1zM32 71.81h1v1.17h-1zM36 72.93h1v1.17h-1zM5 74.05h1v1.17h-1zM10 74.05h1v1.17h-1zM25 76.30h1v1.17h-1zM27 76.30h1v1.17h-1zM28 76.30h1v1.17h-1zM16 77.42h1v1.17h-1zM17 77.42h1v1.17h-1zM24 77.42h1v1.17h-1zM10 78.54h1v1.17h-1zM26 78.54h1v1.17h-1zM6 79.66h1v1.17h-1zM33 79.66h1v1.17h-1zM34 80.78h1v1.17h-1zM16 81.91h1v1.17h-1zM12 83.03h1v1.17h-1zM15 84.15h1v1.17h-1zM37 84.15h1v1.17h-1zM20 85.27h1v1.17h-1zM25 85.27h1v1.17h-1zM38 85.27h1v1.17h-1zM12 86.39h1v1.17h-1zM14 86.39h1v1.17h-1zM24 86.39h1v1.17h-1zM34 86.39h1v1.17h-1zM5 87.52h1v1.17h-1zM26 87.52h1v1.17h-1zM29 87.52h1v1.17h-1zM32 89.76h1v1.17h-1zM34 89.76h1v1.17h-1zM33 90.88h1v1.17h-1zM32 92.00h1v1.17h-1zM7 93.13h1v1.17h-1zM37 93.13h1v1.17h-1zM13 94.25h1v1.17h-1zM34 94.25h1v1.17h-1zM36 95.37h1v1.17h-1zM5 96.49h1v1.17h-1zM13 96.49h1v1.17h-1zM12 97.61h1v1.17h-1zM15 97.61h1v1.17h-1zM21 97.61h1v1.17h-1zM29 97.61h1v1.17h-1zM12 98.74h1v1.17h-1zM14 99.86h1v1.17h-1zM37 100.98h1v1.17h-1zM38 100.98h1v1.17h-1zM5 102.10h1v1.17h-1zM10 102.10h1v1.17h-1zM35 102.10h1v1.17h-1zM23 103.22h1v1.17h-1zM5 104.35h1v1.17h-1zM28 104.35h1v1.17h-1zM31 104.35h1v1.17h-1zM15 105.47h1v1.17h-1zM25 105.47h1v1.17h-1zM30 105.47h1v1.17h-1zM36 105.47h1v1.17h-1zM13 106.59h1v1.17h-1zM38 107.71h1v1.17h-1zM16 108.83h1v1.17h-1zM27 108.83h1v1.17h-1zM5 109.96h1v1.17h-1zM16 109.96h1v1.17h-1zM21 109.96h1v1.17h-1zM29 109.96h1v1.17h-1zM30 109.96h1v1.17h-1zM2 113.60h1v1.18h-1zM29 113.60h1v1.18h-1zM30 113.60h1v1.18h-1zM34 113.60h1v1.18h-1zM38 113.60h1v1.18h-1zM10 114.73h1v1.18h-1zM17 114.73h1v1.18h-1zM20 114.73h1v1.18h-1zM18 115.86h1v1.18h-1zM30 115.86h1v1.18h-1zM0 117.00h1v1.18h-1zM2 117.00h1v1.18h-1zM27 117.00h1v1.18h-1zM31 117.00h1v1.18h-1zM29 118.13h1v1.18h-1zM5 119.26h1v1.18h-1zM28 119.26h1v1.18h-1zM18 121.53h1v1.18h-1zM6 123.79h1v1.18h-1zM5 124.92h1v1.18h-1zM8 124.92h1v1.18h-1zM12 124.92h1v1.18h-1zM17 124.92h1v1.18h-1zM33 124.92h1v1.18h-1zM8 126.05h1v1.18h-1zM28 126.05h1v1.18h-1zM6 131.72h1v1.18h-1zM33 131.72h1v1.18h-1zM6 133.98h1v1.18h-1zM9 133.98h1v1.18h-1zM18 133.98h1v1.18h-1zM20 133.98h1v1.18h-1zM38 135.11h1v1.18h-1zM1 137.38h1v1.18h-1zM16 137.38h1v1.18h-1zM6 138.51h1v1.18h-1zM1 139.64h1v1.18h-1zM12 139.64h1v1.18h-1zM19 139.64h1v1.18h-1zM15 140.77h1v1.18h-1zM28 140.77h1v1.18h-1zM32 140.77h1v1.18h-1zM13 141.91h1v1.18h-1zM21 144.17h1v1.18h-1zM9 145.30h1v1.18h-1zM4 146.44h1v1.18h-1zM13 146.44h1v1.18h-1zM32 146.44h1v1.18h-1zM3 147.57h1v1.18h-1zM30 150.00h1v1.17h-1zM11 151.12h1v1.17h-1zM11 152.23h1v1.17h-1zM7 153.35h1v1.17h-1zM35 153.35h1v1.17h-1zM12 154.47h1v1.17h-1zM7 155.58h1v1.17h-1zM33 155.58h1v1.17h-1zM18 156.70h1v1.17h-1zM19 157.81h1v1.17h-1zM18 160.05h1v1.17h-1zM8 161.16h1v1.17h-1zM10 161.16h1v1.17h-1zM27 161.16h1v1.17h-1zM37 163.40h1v1.17h-1zM27 166.74h1v1.17h-1zM17 167.86h1v1.17h-1zM38 168.98h1v1.17h-1zM6 170.09h1v1.17h-1zM18 170.09h1v1.17h-1zM22 171.21h1v1.17h-1zM8 172.33h1v1.17h-1zM7 174.56h1v1.17h-1zM10 175.68h1v1.17h-1zM13 176.79h1v1.17h-1zM12 177.91h1v1.17h-1zM16 177.91h1v1.17h-1zM17 177.91h1v1.17h-1zM11 180.14h1v1.17h-1zM23 180.14h1v1.17h-1zM28 180.14h1v1.17h-1zM36 180.14h1v1.17h-1zM16 181.26h1v1.17h-1zM9 184.61h1v1.17h-1zM14 184.61h1v1.17h-1zM14 185.72h1v1.17h-1zM18 185.72h1v1.17h-1zM34 185.72h1v1.17h-1zM10 186.84h1v1.17h-1zM10 189.07h1v1.17h-1zM14 189.07h1v1.17h-1zM31 190.19h1v1.17h-1zM37 190.19h1v1.17h-1zM21 191.30h1v1.17h-1zM23 191.30h1v1.17h-1zM28 191.30h1v1.17h-1zM13 192.42h1v1.17h-1zM12 194.65h1v1.17h-1zM14 195.77h1v1.17h-1zM19 196.88h1v1.17h-1zM12 198.00h1v1.17h-1zM13 199.12h1v1.17h-1zM5 200.23h1v1.17h-1zM6 200.23h1v1.17h-1zM6 201.35h1v1.17h-1zM7 201.35h1v1.17h-1zM14 201.35h1v1.17h-1zM18 201.35h1v1.17h-1zM22 203.58h1v1.17h-1zM18 205.82h1v1.17h-1zM25 206.93h1v1.17h-1zM18 208.05h1v1.17h-1zM6 209.16h1v1.17h-1zM15 211.40h1v1.17h-1zM27 211.40h1v1.17h-1zM38 212.51h1v1.17h-1zM13 213.63h1v1.17h-1zM7 214.75h1v1.17h-1zM27 214.75h1v1.17h-1zM32 214.75h1v1.17h-1zM9 215.86h1v1.17h-1zM7 216.98h1v1.17h-1zM7 219.21h1v1.17h-1zM5 220.33h1v1.17h-1zM12 220.33h1v1.17h-1zM36 220.33h1v1.17h-1zM8 221.44h1v1.17h-1zM28 223.68h1v1.17h-1zM14 227.02h1v1.17h-1zM18 227.02h1v1.17h-1zM29 227.02h1v1.17h-1zM31 227.02h1v1.17h-1zM11 228.14h1v1.17h-1zM19 229.26h1v1.17h-1zM19 230.37h1v1.17h-1zM31 230.37h1v1.17h-1zM8 233.72h1v1.17h-1zM18 237.07h1v1.17h-1zM14 240.42h1v1.17h-1zM10 241.54h1v1.17h-1zM17 241.54h1v1.17h-1zM18 241.54h1v1.17h-1zM29 241.54h1v1.17h-1zM18 246.00h1v1.17h-1zM31 246.00h1v1.17h-1zM4 247.12h1v1.17h-1zM10 248.23h1v1.17h-1zM0 249.35h1v1.17h-1zM17 251.58h1v1.17h-1z"/><path fill="#f6f0f0" d="M15 0.00h1v1.17h-1zM1 1.12h1v1.17h-1zM7 1.12h1v1.17h-1zM12 2.24h1v1.17h-1zM11 4.49h1v1.17h-1zM12 4.49h1v1.17h-1zM13 4.49h1v1.17h-1zM2 6.73h1v1.17h-1zM10 6.73h1v1.17h-1zM1 7.85h1v1.17h-1zM10 7.85h1v1.17h-1zM10 8.98h1v1.17h-1zM12 8.98h1v1.17h-1zM15 8.98h1v1.17h-1zM18 8.98h1v1.17h-1zM0 10.10h1v1.17h-1zM18 12.34h1v1.17h-1zM18 14.59h1v1.17h-1zM6 15.71h1v1.17h-1zM13 15.71h1v1.17h-1zM14 17.95h1v1.17h-1zM20 17.95h1v1.17h-1zM36 19.07h1v1.17h-1zM12 21.32h1v1.17h-1zM17 21.32h1v1.17h-1zM27 21.32h1v1.17h-1zM6 24.68h1v1.17h-1zM17 24.68h1v1.17h-1zM10 25.81h1v1.17h-1zM5 28.05h1v1.17h-1zM11 28.05h1v1.17h-1zM14 28.05h1v1.17h-1zM37 29.17h1v1.17h-1zM15 30.29h1v1.17h-1zM10 31.42h1v1.17h-1zM17 32.54h1v1.17h-1zM6 33.66h1v1.17h-1zM8 33.66h1v1.17h-1zM18 33.66h1v1.17h-1zM18 34.78h1v1.17h-1zM10 35.90h1v1.17h-1zM12 39.27h1v1.17h-1zM14 39.27h1v1.17h-1zM17 39.27h1v1.17h-1zM14 41.51h1v1.17h-1zM17 41.51h1v1.17h-1zM13 42.64h1v1.17h-1zM6 43.76h1v1.17h-1zM14 43.76h1v1.17h-1zM15 44.88h1v1.17h-1zM18 44.88h1v1.17h-1zM27 44.88h1v1.17h-1zM30 46.00h1v1.17h-1zM7 47.12h1v1.17h-1zM11 48.25h1v1.17h-1zM13 48.25h1v1.17h-1zM10 50.49h1v1.17h-1zM18 50.49h1v1.17h-1zM16 51.61h1v1.17h-1zM13 56.10h1v1.17h-1zM7 57.22h1v1.17h-1zM16 57.22h1v1.17h-1zM3 58.34h1v1.17h-1zM8 58.34h1v1.17h-1zM18 58.34h1v1.17h-1zM20 58.34h1v1.17h-1zM31 58.34h1v1.17h-1zM36 58.34h1v1.17h-1zM38 58.34h1v1.17h-1zM27 60.59h1v1.17h-1zM10 63.95h1v1.17h-1zM38 65.08h1v1.17h-1zM33 67.32h1v1.17h-1zM6 68.44h1v1.17h-1zM33 71.81h1v1.17h-1zM3 72.93h1v1.17h-1zM33 72.93h1v1.17h-1zM5 76.30h1v1.17h-1zM21 76.30h1v1.17h-1zM14 77.42h1v1.17h-1zM15 77.42h1v1.17h-1zM21 77.42h1v1.17h-1zM27 77.42h1v1.17h-1zM36 77.42h1v1.17h-1zM37 77.42h1v1.17h-1zM20 78.54h1v1.17h-1zM14 79.66h1v1.17h-1zM16 79.66h1v1.17h-1zM21 79.66h1v1.17h-1zM37 79.66h1v1.17h-1zM38 80.78h1v1.17h-1zM18 81.91h1v1.17h-1zM21 81.91h1v1.17h-1zM26 81.91h1v1.17h-1zM27 81.91h1v1.17h-1zM30 81.91h1v1.17h-1zM1 84.15h1v1.17h-1zM11 84.15h1v1.17h-1zM15 85.27h1v1.17h-1zM16 85.27h1v1.17h-1zM27 86.39h1v1.17h-1zM36 86.39h1v1.17h-1zM8 88.64h1v1.17h-1zM12 89.76h1v1.17h-1zM28 89.76h1v1.17h-1zM7 90.88h1v1.17h-1zM25 90.88h1v1.17h-1zM11 94.25h1v1.17h-1zM26 94.25h1v1.17h-1zM7 96.49h1v1.17h-1zM21 96.49h1v1.17h-1zM26 96.49h1v1.17h-1zM30 97.61h1v1.17h-1zM33 97.61h1v1.17h-1zM18 98.74h1v1.17h-1zM34 99.86h1v1.17h-1zM37 102.10h1v1.17h-1zM15 103.22h1v1.17h-1zM33 103.22h1v1.17h-1zM13 104.35h1v1.17h-1zM16 104.35h1v1.17h-1zM38 104.35h1v1.17h-1zM23 105.47h1v1.17h-1zM9 106.59h1v1.17h-1zM32 106.59h1v1.17h-1zM19 109.96h1v1.17h-1zM28 111.08h1v1.17h-1zM9 113.60h1v1.18h-1zM23 113.60h1v1.18h-1zM0 114.73h1v1.18h-1zM21 114.73h1v1.18h-1zM7 115.86h1v1.18h-1zM23 115.86h1v1.18h-1zM28 115.86h1v1.18h-1zM34 115.86h1v1.18h-1zM6 117.00h1v1.18h-1zM12 117.00h1v1.18h-1zM14 117.00h1v1.18h-1zM23 117.00h1v1.18h-1zM28 117.00h1v1.18h-1zM21 118.13h1v1.18h-1zM14 119.26h1v1.18h-1zM6 120.39h1v1.18h-1zM2 121.53h1v1.18h-1zM28 121.53h1v1.18h-1zM17 122.66h1v1.18h-1zM18 123.79h1v1.18h-1zM30 123.79h1v1.18h-1zM31 123.79h1v1.18h-1zM19 124.92h1v1.18h-1zM20 124.92h1v1.18h-1zM28 124.92h1v1.18h-1zM36 127.19h1v1.18h-1zM7 128.32h1v1.18h-1zM23 128.32h1v1.18h-1zM31 129.45h1v1.18h-1zM32 129.45h1v1.18h-1zM0 130.58h1v1.18h-1zM19 130.58h1v1.18h-1zM27 130.58h1v1.18h-1zM34 130.58h1v1.18h-1zM36 130.58h1v1.18h-1zM18 131.72h1v1.18h-1zM32 131.72h1v1.18h-1zM6 132.85h1v1.18h-1zM31 132.85h1v1.18h-1zM8 133.98h1v1.18h-1zM28 133.98h1v1.18h-1zM33 133.98h1v1.18h-1zM1 135.11h1v1.18h-1zM27 135.11h1v1.18h-1zM30 135.11h1v1.18h-1zM32 135.11h1v1.18h-1zM34 135.11h1v1.18h-1zM2 136.25h1v1.18h-1zM15 136.25h1v1.18h-1zM12 137.38h1v1.18h-1zM33 137.38h1v1.18h-1zM18 138.51h1v1.18h-1zM20 138.51h1v1.18h-1zM8 139.64h1v1.18h-1zM17 139.64h1v1.18h-1zM32 139.64h1v1.18h-1zM34 140.77h1v1.18h-1zM7 141.91h1v1.18h-1zM16 141.91h1v1.18h-1zM27 141.91h1v1.18h-1zM34 141.91h1v1.18h-1zM0 143.04h1v1.18h-1zM13 143.04h1v1.18h-1zM16 143.04h1v1.18h-1zM16 144.17h1v1.18h-1zM28 145.30h1v1.18h-1zM36 145.30h1v1.18h-1zM2 146.44h1v1.18h-1zM22 147.57h1v1.18h-1zM11 150.00h1v1.17h-1zM17 150.00h1v1.17h-1zM18 150.00h1v1.17h-1zM36 151.12h1v1.17h-1zM30 152.23h1v1.17h-1zM35 152.23h1v1.17h-1zM10 153.35h1v1.17h-1zM32 153.35h1v1.17h-1zM33 153.35h1v1.17h-1zM8 154.47h1v1.17h-1zM14 154.47h1v1.17h-1zM17 154.47h1v1.17h-1zM12 155.58h1v1.17h-1zM15 155.58h1v1.17h-1zM18 155.58h1v1.17h-1zM27 155.58h1v1.17h-1zM31 155.58h1v1.17h-1zM7 156.70h1v1.17h-1zM12 156.70h1v1.17h-1zM20 156.70h1v1.17h-1zM24 156.70h1v1.17h-1zM29 156.70h1v1.17h-1zM18 157.81h1v1.17h-1zM21 157.81h1v1.17h-1zM23 157.81h1v1.17h-1zM6 158.93h1v1.17h-1zM14 158.93h1v1.17h-1zM15 160.05h1v1.17h-1zM21 160.05h1v1.17h-1zM32 160.05h1v1.17h-1zM13 161.16h1v1.17h-1zM15 161.16h1v1.17h-1zM26 161.16h1v1.17h-1zM29 161.16h1v1.17h-1zM30 161.16h1v1.17h-1zM8 163.40h1v1.17h-1zM18 164.51h1v1.17h-1zM27 165.63h1v1.17h-1zM28 165.63h1v1.17h-1zM7 166.74h1v1.17h-1zM15 166.74h1v1.17h-1zM22 166.74h1v1.17h-1zM35 166.74h1v1.17h-1zM9 167.86h1v1.17h-1zM11 167.86h1v1.17h-1zM36 167.86h1v1.17h-1zM11 168.98h1v1.17h-1zM36 168.98h1v1.17h-1zM30 170.09h1v1.17h-1zM18 171.21h1v1.17h-1zM7 173.44h1v1.17h-1zM12 173.44h1v1.17h-1zM6 175.68h1v1.17h-1zM33 175.68h1v1.17h-1zM10 176.79h1v1.17h-1zM37 176.79h1v1.17h-1zM11 177.91h1v1.17h-1zM35 177.91h1v1.17h-1zM36 177.91h1v1.17h-1zM10 179.02h1v1.17h-1zM24 179.02h1v1.17h-1zM30 179.02h1v1.17h-1zM6 180.14h1v1.17h-1zM13 180.14h1v1.17h-1zM29 180.14h1v1.17h-1zM5 181.26h1v1.17h-1zM6 181.26h1v1.17h-1zM21 181.26h1v1.17h-1zM28 181.26h1v1.17h-1zM5 182.37h1v1.17h-1zM9 182.37h1v1.17h-1zM25 182.37h1v1.17h-1zM30 182.37h1v1.17h-1zM20 183.49h1v1.17h-1zM6 184.61h1v1.17h-1zM8 184.61h1v1.17h-1zM19 184.61h1v1.17h-1zM23 185.72h1v1.17h-1zM24 185.72h1v1.17h-1zM33 185.72h1v1.17h-1zM16 186.84h1v1.17h-1zM27 186.84h1v1.17h-1zM32 186.84h1v1.17h-1zM25 189.07h1v1.17h-1zM12 190.19h1v1.17h-1zM28 190.19h1v1.17h-1zM29 191.30h1v1.17h-1zM33 191.30h1v1.17h-1zM24 192.42h1v1.17h-1zM30 192.42h1v1.17h-1zM36 193.54h1v1.17h-1zM38 193.54h1v1.17h-1zM9 194.65h1v1.17h-1zM18 194.65h1v1.17h-1zM35 194.65h1v1.17h-1zM5 195.77h1v1.17h-1zM10 196.88h1v1.17h-1zM11 196.88h1v1.17h-1zM21 196.88h1v1.17h-1zM27 196.88h1v1.17h-1zM9 198.00h1v1.17h-1zM37 198.00h1v1.17h-1zM34 199.12h1v1.17h-1zM23 200.23h1v1.17h-1zM36 200.23h1v1.17h-1zM30 202.47h1v1.17h-1zM21 203.58h1v1.17h-1zM23 203.58h1v1.17h-1zM30 203.58h1v1.17h-1zM33 203.58h1v1.17h-1zM8 204.70h1v1.17h-1zM16 204.70h1v1.17h-1zM31 204.70h1v1.17h-1zM35 204.70h1v1.17h-1zM32 206.93h1v1.17h-1zM8 209.16h1v1.17h-1zM34 209.16h1v1.17h-1zM7 210.28h1v1.17h-1zM10 210.28h1v1.17h-1zM14 210.28h1v1.17h-1zM26 211.40h1v1.17h-1zM35 211.40h1v1.17h-1zM10 212.51h1v1.17h-1zM11 212.51h1v1.17h-1zM25 212.51h1v1.17h-1zM27 212.51h1v1.17h-1zM31 212.51h1v1.17h-1zM33 212.51h1v1.17h-1zM36 212.51h1v1.17h-1zM8 213.63h1v1.17h-1zM18 213.63h1v1.17h-1zM38 213.63h1v1.17h-1zM5 214.75h1v1.17h-1zM20 215.86h1v1.17h-1zM26 215.86h1v1.17h-1zM29 215.86h1v1.17h-1zM5 216.98h1v1.17h-1zM8 216.98h1v1.17h-1zM21 220.33h1v1.17h-1zM30 220.33h1v1.17h-1zM35 220.33h1v1.17h-1zM13 221.44h1v1.17h-1zM37 222.56h1v1.17h-1zM7 223.68h1v1.17h-1zM15 223.68h1v1.17h-1zM34 223.68h1v1.17h-1zM35 223.68h1v1.17h-1zM11 224.79h1v1.17h-1zM31 224.79h1v1.17h-1zM30 225.91h1v1.17h-1zM17 227.02h1v1.17h-1zM27 227.02h1v1.17h-1zM9 228.14h1v1.17h-1zM15 228.14h1v1.17h-1zM12 229.26h1v1.17h-1zM22 229.26h1v1.17h-1zM32 229.26h1v1.17h-1zM6 230.37h1v1.17h-1zM10 230.37h1v1.17h-1zM13 231.49h1v1.17h-1zM18 231.49h1v1.17h-1zM29 231.49h1v1.17h-1zM8 232.61h1v1.17h-1zM16 232.61h1v1.17h-1zM36 232.61h1v1.17h-1zM19 233.72h1v1.17h-1zM26 233.72h1v1.17h-1zM32 233.72h1v1.17h-1zM38 233.72h1v1.17h-1zM17 234.84h1v1.17h-1zM14 237.07h1v1.17h-1zM30 237.07h1v1.17h-1zM6 238.19h1v1.17h-1zM29 238.19h1v1.17h-1zM38 238.19h1v1.17h-1zM18 239.30h1v1.17h-1zM6 240.42h1v1.17h-1zM18 240.42h1v1.17h-1zM13 241.54h1v1.17h-1zM15 241.54h1v1.17h-1zM17 242.65h1v1.17h-1zM19 242.65h1v1.17h-1zM18 243.77h1v1.17h-1zM24 243.77h1v1.17h-1zM35 243.77h1v1.17h-1zM7 244.89h1v1.17h-1zM25 244.89h1v1.17h-1zM33 244.89h1v1.17h-1zM13 246.00h1v1.17h-1zM38 246.00h1v1.17h-1zM6 247.12h1v1.17h-1zM33 247.12h1v1.17h-1zM15 248.23h1v1.17h-1zM5 249.35h1v1.17h-1zM10 249.35h1v1.17h-1zM18 249.35h1v1.17h-1zM24 249.35h1v1.17h-1zM19 250.47h1v1.17h-1zM20 250.47h1v1.17h-1zM34 250.47h1v1.17h-1z"/><path fill="#f0f6f6" d="M16 0.00h1v1.17h-1zM23 0.00h1v1.17h-1zM28 0.00h1v1.17h-1zM6 2.24h1v1.17h-1zM22 3.37h1v1.17h-1zM14 4.49h1v1.17h-1zM15 5.61h1v1.17h-1zM38 5.61h1v1.17h-1zM18 6.73h1v1.17h-1zM30 6.73h1v1.17h-1zM33 6.73h1v1.17h-1zM11 7.85h1v1.17h-1zM36 7.85h1v1.17h-1zM26 8.98h1v1.17h-1zM4 11.22h1v1.17h-1zM12 11.22h1v1.17h-1zM36 12.34h1v1.17h-1zM0 13.46h1v1.17h-1zM32 14.59h1v1.17h-1zM29 15.71h1v1.17h-1zM25 16.83h1v1.17h-1zM12 19.07h1v1.17h-1zM30 19.07h1v1.17h-1zM33 19.07h1v1.17h-1zM14 21.32h1v1.17h-1zM34 21.32h1v1.17h-1zM12 22.44h1v1.17h-1zM33 22.44h1v1.17h-1zM12 23.56h1v1.17h-1zM10 24.68h1v1.17h-1zM27 26.93h1v1.17h-1zM24 28.05h1v1.17h-1zM26 29.17h1v1.17h-1zM13 30.29h1v1.17h-1zM18 30.29h1v1.17h-1zM31 31.42h1v1.17h-1zM10 34.78h1v1.17h-1zM30 37.03h1v1.17h-1zM36 37.03h1v1.17h-1zM10 38.15h1v1.17h-1zM35 40.39h1v1.17h-1zM37 42.64h1v1.17h-1zM34 43.76h1v1.17h-1zM12 44.88h1v1.17h-1zM21 44.88h1v1.17h-1zM29 44.88h1v1.17h-1zM5 46.00h1v1.17h-1zM20 47.12h1v1.17h-1zM26 47.12h1v1.17h-1zM12 48.25h1v1.17h-1zM27 50.49h1v1.17h-1zM13 51.61h1v1.17h-1zM14 51.61h1v1.17h-1zM37 52.73h1v1.17h-1zM13 53.86h1v1.17h-1zM18 56.10h1v1.17h-1zM11 58.34h1v1.17h-1zM13 58.34h1v1.17h-1zM5 59.47h1v1.17h-1zM10 59.47h1v1.17h-1zM33 59.47h1v1.17h-1zM10 60.59h1v1.17h-1zM13 60.59h1v1.17h-1zM15 76.30h1v1.17h-1zM8 78.54h1v1.17h-1zM35 78.54h1v1.17h-1zM10 79.66h1v1.17h-1zM15 79.66h1v1.17h-1zM10 83.03h1v1.17h-1zM32 83.03h1v1.17h-1zM13 84.15h1v1.17h-1zM36 85.27h1v1.17h-1zM15 86.39h1v1.17h-1zM23 87.52h1v1.17h-1zM37 87.52h1v1.17h-1zM14 89.76h1v1.17h-1zM13 93.13h1v1.17h-1zM32 93.13h1v1.17h-1zM23 94.25h1v1.17h-1zM36 94.25h1v1.17h-1zM21 95.37h1v1.17h-1zM24 95.37h1v1.17h-1zM28 95.37h1v1.17h-1zM35 99.86h1v1.17h-1zM36 99.86h1v1.17h-1zM27 100.98h1v1.17h-1zM0 108.83h1v1.17h-1zM7 108.83h1v1.17h-1zM24 109.96h1v1.17h-1zM14 111.08h1v1.17h-1zM2 115.86h1v1.18h-1zM21 115.86h1v1.18h-1zM3 118.13h1v1.18h-1zM15 118.13h1v1.18h-1zM19 118.13h1v1.18h-1zM32 122.66h1v1.18h-1zM29 123.79h1v1.18h-1zM7 124.92h1v1.18h-1zM9 124.92h1v1.18h-1zM32 126.05h1v1.18h-1zM8 127.19h1v1.18h-1zM18 127.19h1v1.18h-1zM19 127.19h1v1.18h-1zM36 131.72h1v1.18h-1zM36 132.85h1v1.18h-1zM2 133.98h1v1.18h-1zM15 137.38h1v1.18h-1zM29 138.51h1v1.18h-1zM30 141.91h1v1.18h-1zM31 141.91h1v1.18h-1zM17 143.04h1v1.18h-1zM20 143.04h1v1.18h-1zM13 144.17h1v1.18h-1zM36 144.17h1v1.18h-1zM33 145.30h1v1.18h-1zM1 146.44h1v1.18h-1zM16 150.00h1v1.17h-1zM7 152.23h1v1.17h-1zM11 155.58h1v1.17h-1zM36 155.58h1v1.17h-1zM17 157.81h1v1.17h-1zM26 162.28h1v1.17h-1zM19 163.40h1v1.17h-1zM33 164.51h1v1.17h-1zM8 165.63h1v1.17h-1zM9 173.44h1v1.17h-1zM18 173.44h1v1.17h-1zM10 174.56h1v1.17h-1zM11 174.56h1v1.17h-1zM12 174.56h1v1.17h-1zM14 174.56h1v1.17h-1zM23 175.68h1v1.17h-1zM19 176.79h1v1.17h-1zM9 177.91h1v1.17h-1zM20 179.02h1v1.17h-1zM16 180.14h1v1.17h-1zM11 181.26h1v1.17h-1zM10 182.37h1v1.17h-1zM17 182.37h1v1.17h-1zM5 183.49h1v1.17h-1zM5 184.61h1v1.17h-1zM13 187.95h1v1.17h-1zM38 187.95h1v1.17h-1zM5 189.07h1v1.17h-1zM37 189.07h1v1.17h-1zM6 190.19h1v1.17h-1zM21 190.19h1v1.17h-1zM6 191.30h1v1.17h-1zM7 191.30h1v1.17h-1zM8 191.30h1v1.17h-1zM16 191.30h1v1.17h-1zM18 192.42h1v1.17h-1zM24 193.54h1v1.17h-1zM14 194.65h1v1.17h-1zM31 194.65h1v1.17h-1zM24 196.88h1v1.17h-1zM20 198.00h1v1.17h-1zM20 200.23h1v1.17h-1zM10 203.58h1v1.17h-1zM14 204.70h1v1.17h-1zM15 205.82h1v1.17h-1zM17 205.82h1v1.17h-1zM17 206.93h1v1.17h-1zM9 211.40h1v1.17h-1zM10 213.63h1v1.17h-1zM16 213.63h1v1.17h-1zM16 216.98h1v1.17h-1zM10 221.44h1v1.17h-1zM15 221.44h1v1.17h-1zM17 221.44h1v1.17h-1zM38 222.56h1v1.17h-1zM6 227.02h1v1.17h-1zM10 229.26h1v1.17h-1zM11 230.37h1v1.17h-1zM17 230.37h1v1.17h-1zM12 231.49h1v1.17h-1zM6 233.72h1v1.17h-1zM25 234.84h1v1.17h-1zM15 235.96h1v1.17h-1zM8 239.30h1v1.17h-1zM36 240.42h1v1.17h-1zM10 242.65h1v1.17h-1zM13 244.89h1v1.17h-1zM29 246.00h1v1.17h-1zM30 246.00h1v1.17h-1zM37 246.00h1v1.17h-1zM6 248.23h1v1.17h-1zM17 248.23h1v1.17h-1zM16 250.47h1v1.17h-1zM7 251.58h1v1.17h-1z"/><path fill="#f6ded2" d="M17 0.00h1v1.17h-1zM19 0.00h1v1.17h-1zM0 1.12h1v1.17h-1zM1 2.24h1v1.17h-1zM18 3.37h1v1.17h-1zM2 4.49h1v1.17h-1zM3 4.49h1v1.17h-1zM7 4.49h1v1.17h-1zM1 5.61h1v1.17h-1zM4 5.61h1v1.17h-1zM17 5.61h1v1.17h-1zM4 7.85h1v1.17h-1zM8 7.85h1v1.17h-1zM9 7.85h1v1.17h-1zM1 10.10h1v1.17h-1zM3 11.22h1v1.17h-1zM19 11.22h1v1.17h-1zM0 12.34h1v1.17h-1zM1 12.34h1v1.17h-1zM10 12.34h1v1.17h-1zM19 12.34h1v1.17h-1zM11 13.46h1v1.17h-1zM17 14.59h1v1.17h-1zM9 15.71h1v1.17h-1zM1 17.95h1v1.17h-1zM2 19.07h1v1.17h-1zM8 19.07h1v1.17h-1zM16 19.07h1v1.17h-1zM4 20.20h1v1.17h-1zM6 22.44h1v1.17h-1zM1 23.56h1v1.17h-1zM2 24.68h1v1.17h-1zM3 24.68h1v1.17h-1zM20 24.68h1v1.17h-1zM11 25.81h1v1.17h-1zM16 25.81h1v1.17h-1zM6 29.17h1v1.17h-1zM16 29.17h1v1.17h-1zM18 29.17h1v1.17h-1zM11 31.42h1v1.17h-1zM1 32.54h1v1.17h-1zM0 34.78h1v1.17h-1zM7 34.78h1v1.17h-1zM18 35.90h1v1.17h-1zM15 37.03h1v1.17h-1zM11 39.27h1v1.17h-1zM20 39.27h1v1.17h-1zM9 40.39h1v1.17h-1zM0 42.64h1v1.17h-1zM8 42.64h1v1.17h-1zM14 42.64h1v1.17h-1zM6 44.88h1v1.17h-1zM0 49.37h1v1.17h-1zM6 50.49h1v1.17h-1zM8 50.49h1v1.17h-1zM11 52.73h1v1.17h-1zM0 53.86h1v1.17h-1zM11 53.86h1v1.17h-1zM20 53.86h1v1.17h-1zM0 54.98h1v1.17h-1zM17 56.10h1v1.17h-1zM2 61.71h1v1.17h-1zM3 62.83h1v1.17h-1zM7 62.83h1v1.17h-1zM17 62.83h1v1.17h-1zM19 65.08h1v1.17h-1zM0 66.20h1v1.17h-1zM19 66.20h1v1.17h-1zM8 67.32h1v1.17h-1zM7 68.44h1v1.17h-1zM4 69.56h1v1.17h-1zM11 69.56h1v1.17h-1zM8 70.69h1v1.17h-1zM16 70.69h1v1.17h-1zM38 70.69h1v1.17h-1zM20 71.81h1v1.17h-1zM17 72.93h1v1.17h-1zM9 77.42h1v1.17h-1zM7 81.91h1v1.17h-1zM38 83.03h1v1.17h-1zM9 84.15h1v1.17h-1zM4 85.27h1v1.17h-1zM7 85.27h1v1.17h-1zM9 85.27h1v1.17h-1zM34 85.27h1v1.17h-1zM0 88.64h1v1.17h-1zM17 88.64h1v1.17h-1zM8 90.88h1v1.17h-1zM4 93.13h1v1.17h-1zM19 94.25h1v1.17h-1zM4 95.37h1v1.17h-1zM31 95.37h1v1.17h-1zM20 96.49h1v1.17h-1zM6 97.61h1v1.17h-1zM13 98.74h1v1.17h-1zM0 100.98h1v1.17h-1zM0 102.10h1v1.17h-1zM8 102.10h1v1.17h-1zM9 104.35h1v1.17h-1zM29 104.35h1v1.17h-1zM17 108.83h1v1.17h-1zM1 109.96h1v1.17h-1zM13 114.73h1v1.18h-1zM27 115.86h1v1.18h-1zM24 117.00h1v1.18h-1zM37 118.13h1v1.18h-1zM6 119.26h1v1.18h-1zM20 120.39h1v1.18h-1zM31 120.39h1v1.18h-1zM0 121.53h1v1.18h-1zM8 121.53h1v1.18h-1zM12 121.53h1v1.18h-1zM15 121.53h1v1.18h-1zM33 121.53h1v1.18h-1zM20 122.66h1v1.18h-1zM27 122.66h1v1.18h-1zM17 123.79h1v1.18h-1zM24 123.79h1v1.18h-1zM22 124.92h1v1.18h-1zM18 126.05h1v1.18h-1zM23 126.05h1v1.18h-1zM24 126.05h1v1.18h-1zM2 127.19h1v1.18h-1zM21 127.19h1v1.18h-1zM30 127.19h1v1.18h-1zM34 128.32h1v1.18h-1zM13 129.45h1v1.18h-1zM14 129.45h1v1.18h-1zM15 129.45h1v1.18h-1zM19 129.45h1v1.18h-1zM24 129.45h1v1.18h-1zM37 129.45h1v1.18h-1zM13 130.58h1v1.18h-1zM17 130.58h1v1.18h-1zM14 131.72h1v1.18h-1zM37 131.72h1v1.18h-1zM7 132.85h1v1.18h-1zM29 132.85h1v1.18h-1zM17 133.98h1v1.18h-1zM21 133.98h1v1.18h-1zM24 133.98h1v1.18h-1zM6 135.11h1v1.18h-1zM6 136.25h1v1.18h-1zM17 136.25h1v1.18h-1zM30 136.25h1v1.18h-1zM8 137.38h1v1.18h-1zM37 137.38h1v1.18h-1zM22 138.51h1v1.18h-1zM34 138.51h1v1.18h-1zM16 139.64h1v1.18h-1zM31 139.64h1v1.18h-1zM6 141.91h1v1.18h-1zM23 141.91h1v1.18h-1zM23 143.04h1v1.18h-1zM0 144.17h1v1.18h-1zM17 145.30h1v1.18h-1zM18 145.30h1v1.18h-1zM26 145.30h1v1.18h-1zM30 146.44h1v1.18h-1zM23 147.57h1v1.18h-1zM33 150.00h1v1.17h-1zM16 151.12h1v1.17h-1zM32 151.12h1v1.17h-1zM32 152.23h1v1.17h-1zM36 152.23h1v1.17h-1zM25 153.35h1v1.17h-1zM28 153.35h1v1.17h-1zM26 154.47h1v1.17h-1zM31 154.47h1v1.17h-1zM38 155.58h1v1.17h-1zM8 156.70h1v1.17h-1zM11 156.70h1v1.17h-1zM26 156.70h1v1.17h-1zM32 156.70h1v1.17h-1zM36 156.70h1v1.17h-1zM14 157.81h1v1.17h-1zM32 157.81h1v1.17h-1zM33 157.81h1v1.17h-1zM8 158.93h1v1.17h-1zM11 160.05h1v1.17h-1zM11 161.16h1v1.17h-1zM22 161.16h1v1.17h-1zM23 161.16h1v1.17h-1zM32 161.16h1v1.17h-1zM36 161.16h1v1.17h-1zM38 161.16h1v1.17h-1zM15 162.28h1v1.17h-1zM30 162.28h1v1.17h-1zM36 162.28h1v1.17h-1zM25 163.40h1v1.17h-1zM29 163.40h1v1.17h-1zM38 163.40h1v1.17h-1zM21 164.51h1v1.17h-1zM35 164.51h1v1.17h-1zM29 165.63h1v1.17h-1zM25 166.74h1v1.17h-1zM8 167.86h1v1.17h-1zM13 167.86h1v1.17h-1zM34 167.86h1v1.17h-1zM28 168.98h1v1.17h-1zM22 170.09h1v1.17h-1zM23 170.09h1v1.17h-1zM26 170.09h1v1.17h-1zM7 172.33h1v1.17h-1zM38 172.33h1v1.17h-1zM36 174.56h1v1.17h-1zM37 174.56h1v1.17h-1zM9 175.68h1v1.17h-1zM22 175.68h1v1.17h-1zM25 175.68h1v1.17h-1zM37 175.68h1v1.17h-1zM33 176.79h1v1.17h-1zM15 177.91h1v1.17h-1zM37 177.91h1v1.17h-1zM26 179.02h1v1.17h-1zM28 179.02h1v1.17h-1zM25 180.14h1v1.17h-1zM37 180.14h1v1.17h-1zM22 181.26h1v1.17h-1zM32 181.26h1v1.17h-1zM34 181.26h1v1.17h-1zM13 182.37h1v1.17h-1zM26 183.49h1v1.17h-1zM34 183.49h1v1.17h-1zM30 184.61h1v1.17h-1zM37 184.61h1v1.17h-1zM21 185.72h1v1.17h-1zM8 186.84h1v1.17h-1zM11 186.84h1v1.17h-1zM26 186.84h1v1.17h-1zM31 186.84h1v1.17h-1zM36 186.84h1v1.17h-1zM37 186.84h1v1.17h-1zM12 187.95h1v1.17h-1zM34 187.95h1v1.17h-1zM35 187.95h1v1.17h-1zM23 189.07h1v1.17h-1zM24 189.07h1v1.17h-1zM26 189.07h1v1.17h-1zM28 189.07h1v1.17h-1zM17 192.42h1v1.17h-1zM36 192.42h1v1.17h-1zM37 192.42h1v1.17h-1zM29 193.54h1v1.17h-1zM6 195.77h1v1.17h-1zM9 195.77h1v1.17h-1zM25 195.77h1v1.17h-1zM13 196.88h1v1.17h-1zM18 196.88h1v1.17h-1zM25 196.88h1v1.17h-1zM30 196.88h1v1.17h-1zM23 198.00h1v1.17h-1zM16 199.12h1v1.17h-1zM32 199.12h1v1.17h-1zM35 199.12h1v1.17h-1zM35 200.23h1v1.17h-1zM15 202.47h1v1.17h-1zM22 202.47h1v1.17h-1zM29 202.47h1v1.17h-1zM20 203.58h1v1.17h-1zM35 203.58h1v1.17h-1zM11 204.70h1v1.17h-1zM30 204.70h1v1.17h-1zM34 204.70h1v1.17h-1zM28 205.82h1v1.17h-1zM22 206.93h1v1.17h-1zM26 206.93h1v1.17h-1zM5 208.05h1v1.17h-1zM10 208.05h1v1.17h-1zM35 208.05h1v1.17h-1zM25 209.16h1v1.17h-1zM30 209.16h1v1.17h-1zM35 209.16h1v1.17h-1zM16 210.28h1v1.17h-1zM20 211.40h1v1.17h-1zM36 211.40h1v1.17h-1zM23 213.63h1v1.17h-1zM24 214.75h1v1.17h-1zM29 214.75h1v1.17h-1zM36 215.86h1v1.17h-1zM37 215.86h1v1.17h-1zM15 216.98h1v1.17h-1zM32 216.98h1v1.17h-1zM30 218.09h1v1.17h-1zM32 218.09h1v1.17h-1zM13 219.21h1v1.17h-1zM33 219.21h1v1.17h-1zM26 220.33h1v1.17h-1zM28 220.33h1v1.17h-1zM11 221.44h1v1.17h-1zM33 222.56h1v1.17h-1zM34 222.56h1v1.17h-1zM21 223.68h1v1.17h-1zM37 223.68h1v1.17h-1zM34 224.79h1v1.17h-1zM13 225.91h1v1.17h-1zM13 228.14h1v1.17h-1zM36 228.14h1v1.17h-1zM13 230.37h1v1.17h-1zM36 230.37h1v1.17h-1zM23 231.49h1v1.17h-1zM34 231.49h1v1.17h-1zM38 231.49h1v1.17h-1zM15 232.61h1v1.17h-1zM11 233.72h1v1.17h-1zM31 233.72h1v1.17h-1zM11 234.84h1v1.17h-1zM9 235.96h1v1.17h-1zM31 235.96h1v1.17h-1zM32 235.96h1v1.17h-1zM31 237.07h1v1.17h-1zM8 238.19h1v1.17h-1zM11 238.19h1v1.17h-1zM12 238.19h1v1.17h-1zM24 238.19h1v1.17h-1zM31 238.19h1v1.17h-1zM23 239.30h1v1.17h-1zM27 239.30h1v1.17h-1zM29 239.30h1v1.17h-1zM33 239.30h1v1.17h-1zM38 239.30h1v1.17h-1zM12 240.42h1v1.17h-1zM21 240.42h1v1.17h-1zM12 241.54h1v1.17h-1zM13 242.65h1v1.17h-1zM20 242.65h1v1.17h-1zM24 242.65h1v1.17h-1zM34 242.65h1v1.17h-1zM16 243.77h1v1.17h-1zM21 243.77h1v1.17h-1zM33 243.77h1v1.17h-1zM36 244.89h1v1.17h-1zM21 247.12h1v1.17h-1zM23 247.12h1v1.17h-1zM32 247.12h1v1.17h-1zM34 247.12h1v1.17h-1zM11 248.23h1v1.17h-1zM28 248.23h1v1.17h-1zM22 249.35h1v1.17h-1zM22 250.47h1v1.17h-1zM27 251.58h1v1.17h-1z"/><path fill="#f6ded8" d="M20 0.00h1v1.17h-1zM1 4.49h1v1.17h-1zM4 4.49h1v1.17h-1zM4 10.10h1v1.17h-1zM20 11.22h1v1.17h-1zM8 12.34h1v1.17h-1zM2 15.71h1v1.17h-1zM7 15.71h1v1.17h-1zM20 15.71h1v1.17h-1zM8 17.95h1v1.17h-1zM16 24.68h1v1.17h-1zM3 28.05h1v1.17h-1zM7 30.29h1v1.17h-1zM3 32.54h1v1.17h-1zM13 37.03h1v1.17h-1zM0 40.39h1v1.17h-1zM6 41.51h1v1.17h-1zM17 42.64h1v1.17h-1zM4 46.00h1v1.17h-1zM0 48.25h1v1.17h-1zM4 49.37h1v1.17h-1zM19 50.49h1v1.17h-1zM18 53.86h1v1.17h-1zM38 53.86h1v1.17h-1zM17 58.34h1v1.17h-1zM0 59.47h1v1.17h-1zM8 62.83h1v1.17h-1zM8 69.56h1v1.17h-1zM0 72.93h1v1.17h-1zM18 77.42h1v1.17h-1zM18 79.66h1v1.17h-1zM17 80.78h1v1.17h-1zM0 83.03h1v1.17h-1zM17 83.03h1v1.17h-1zM6 84.15h1v1.17h-1zM20 84.15h1v1.17h-1zM2 88.64h1v1.17h-1zM11 88.64h1v1.17h-1zM18 90.88h1v1.17h-1zM13 95.37h1v1.17h-1zM0 97.61h1v1.17h-1zM2 98.74h1v1.17h-1zM8 98.74h1v1.17h-1zM0 99.86h1v1.17h-1zM3 99.86h1v1.17h-1zM4 99.86h1v1.17h-1zM3 102.10h1v1.17h-1zM7 103.22h1v1.17h-1zM3 106.59h1v1.17h-1zM4 106.59h1v1.17h-1zM9 111.08h1v1.17h-1zM13 111.08h1v1.17h-1zM6 115.86h1v1.18h-1zM22 119.26h1v1.18h-1zM9 120.39h1v1.18h-1zM14 120.39h1v1.18h-1zM26 120.39h1v1.18h-1zM16 121.53h1v1.18h-1zM2 122.66h1v1.18h-1zM21 122.66h1v1.18h-1zM16 124.92h1v1.18h-1zM25 124.92h1v1.18h-1zM0 131.72h1v1.18h-1zM13 131.72h1v1.18h-1zM9 132.85h1v1.18h-1zM26 132.85h1v1.18h-1zM23 133.98h1v1.18h-1zM16 136.25h1v1.18h-1zM24 137.38h1v1.18h-1zM26 138.51h1v1.18h-1zM29 140.77h1v1.18h-1zM13 145.30h1v1.18h-1zM28 150.00h1v1.17h-1zM29 150.00h1v1.17h-1zM26 151.12h1v1.17h-1zM34 152.23h1v1.17h-1zM20 154.47h1v1.17h-1zM21 156.70h1v1.17h-1zM22 156.70h1v1.17h-1zM34 156.70h1v1.17h-1zM38 156.70h1v1.17h-1zM33 158.93h1v1.17h-1zM36 160.05h1v1.17h-1zM35 161.16h1v1.17h-1zM13 163.40h1v1.17h-1zM30 164.51h1v1.17h-1zM36 164.51h1v1.17h-1zM37 164.51h1v1.17h-1zM32 168.98h1v1.17h-1zM38 170.09h1v1.17h-1zM33 171.21h1v1.17h-1zM16 172.33h1v1.17h-1zM23 172.33h1v1.17h-1zM31 174.56h1v1.17h-1zM31 175.68h1v1.17h-1zM36 175.68h1v1.17h-1zM16 179.02h1v1.17h-1zM32 180.14h1v1.17h-1zM8 182.37h1v1.17h-1zM38 182.37h1v1.17h-1zM16 183.49h1v1.17h-1zM36 183.49h1v1.17h-1zM10 184.61h1v1.17h-1zM10 185.72h1v1.17h-1zM22 187.95h1v1.17h-1zM38 190.19h1v1.17h-1zM38 191.30h1v1.17h-1zM17 193.54h1v1.17h-1zM31 193.54h1v1.17h-1zM35 196.88h1v1.17h-1zM36 201.35h1v1.17h-1zM24 202.47h1v1.17h-1zM28 202.47h1v1.17h-1zM26 205.82h1v1.17h-1zM24 206.93h1v1.17h-1zM28 208.05h1v1.17h-1zM7 209.16h1v1.17h-1zM11 215.86h1v1.17h-1zM16 215.86h1v1.17h-1zM17 218.09h1v1.17h-1zM33 218.09h1v1.17h-1zM23 219.21h1v1.17h-1zM19 223.68h1v1.17h-1zM7 225.91h1v1.17h-1zM11 225.91h1v1.17h-1zM33 225.91h1v1.17h-1zM21 227.02h1v1.17h-1zM7 228.14h1v1.17h-1zM23 228.14h1v1.17h-1zM27 228.14h1v1.17h-1zM29 228.14h1v1.17h-1zM37 229.26h1v1.17h-1zM17 231.49h1v1.17h-1zM37 232.61h1v1.17h-1zM28 233.72h1v1.17h-1zM31 234.84h1v1.17h-1zM32 238.19h1v1.17h-1zM35 238.19h1v1.17h-1zM15 239.30h1v1.17h-1zM16 240.42h1v1.17h-1zM22 240.42h1v1.17h-1zM25 240.42h1v1.17h-1zM36 241.54h1v1.17h-1zM22 242.65h1v1.17h-1zM8 243.77h1v1.17h-1zM14 243.77h1v1.17h-1zM36 243.77h1v1.17h-1zM5 244.89h1v1.17h-1zM31 244.89h1v1.17h-1zM28 247.12h1v1.17h-1zM26 249.35h1v1.17h-1zM35 249.35h1v1.17h-1zM26 250.47h1v1.17h-1zM22 251.58h1v1.17h-1z"/><path fill="#deeaf0" d="M21 0.00h1v1.17h-1zM37 0.00h1v1.17h-1zM5 1.12h1v1.17h-1zM26 1.12h1v1.17h-1zM33 1.12h1v1.17h-1zM5 2.24h1v1.17h-1zM14 2.24h1v1.17h-1zM23 3.37h1v1.17h-1zM29 3.37h1v1.17h-1zM36 3.37h1v1.17h-1zM27 4.49h1v1.17h-1zM32 4.49h1v1.17h-1zM28 5.61h1v1.17h-1zM31 5.61h1v1.17h-1zM32 7.85h1v1.17h-1zM33 7.85h1v1.17h-1zM38 7.85h1v1.17h-1zM5 8.98h1v1.17h-1zM21 8.98h1v1.17h-1zM28 8.98h1v1.17h-1zM31 11.22h1v1.17h-1zM12 12.34h1v1.17h-1zM31 12.34h1v1.17h-1zM12 13.46h1v1.17h-1zM29 13.46h1v1.17h-1zM37 13.46h1v1.17h-1zM21 14.59h1v1.17h-1zM14 15.71h1v1.17h-1zM6 16.83h1v1.17h-1zM26 17.95h1v1.17h-1zM27 17.95h1v1.17h-1zM28 17.95h1v1.17h-1zM29 17.95h1v1.17h-1zM31 17.95h1v1.17h-1zM25 19.07h1v1.17h-1zM29 19.07h1v1.17h-1zM15 21.32h1v1.17h-1zM28 21.32h1v1.17h-1zM29 21.32h1v1.17h-1zM23 22.44h1v1.17h-1zM26 22.44h1v1.17h-1zM30 22.44h1v1.17h-1zM34 22.44h1v1.17h-1zM37 22.44h1v1.17h-1zM26 23.56h1v1.17h-1zM27 23.56h1v1.17h-1zM30 23.56h1v1.17h-1zM31 23.56h1v1.17h-1zM24 24.68h1v1.17h-1zM29 24.68h1v1.17h-1zM30 24.68h1v1.17h-1zM36 24.68h1v1.17h-1zM21 25.81h1v1.17h-1zM28 25.81h1v1.17h-1zM6 26.93h1v1.17h-1zM22 26.93h1v1.17h-1zM28 26.93h1v1.17h-1zM31 26.93h1v1.17h-1zM29 28.05h1v1.17h-1zM30 28.05h1v1.17h-1zM32 28.05h1v1.17h-1zM34 28.05h1v1.17h-1zM37 28.05h1v1.17h-1zM28 29.17h1v1.17h-1zM34 29.17h1v1.17h-1zM35 29.17h1v1.17h-1zM27 30.29h1v1.17h-1zM29 30.29h1v1.17h-1zM33 30.29h1v1.17h-1zM34 31.42h1v1.17h-1zM36 31.42h1v1.17h-1zM24 32.54h1v1.17h-1zM27 32.54h1v1.17h-1zM33 32.54h1v1.17h-1zM14 33.66h1v1.17h-1zM28 33.66h1v1.17h-1zM30 33.66h1v1.17h-1zM31 33.66h1v1.17h-1zM36 33.66h1v1.17h-1zM35 34.78h1v1.17h-1zM26 35.90h1v1.17h-1zM30 35.90h1v1.17h-1zM26 37.03h1v1.17h-1zM32 38.15h1v1.17h-1zM37 38.15h1v1.17h-1zM38 38.15h1v1.17h-1zM30 39.27h1v1.17h-1zM34 39.27h1v1.17h-1zM12 40.39h1v1.17h-1zM6 42.64h1v1.17h-1zM28 42.64h1v1.17h-1zM30 42.64h1v1.17h-1zM31 42.64h1v1.17h-1zM12 43.76h1v1.17h-1zM21 43.76h1v1.17h-1zM24 43.76h1v1.17h-1zM35 43.76h1v1.17h-1zM37 43.76h1v1.17h-1zM5 44.88h1v1.17h-1zM30 44.88h1v1.17h-1zM31 44.88h1v1.17h-1zM10 46.00h1v1.17h-1zM13 46.00h1v1.17h-1zM28 46.00h1v1.17h-1zM32 46.00h1v1.17h-1zM36 46.00h1v1.17h-1zM12 47.12h1v1.17h-1zM37 47.12h1v1.17h-1zM31 48.25h1v1.17h-1zM36 48.25h1v1.17h-1zM23 49.37h1v1.17h-1zM36 50.49h1v1.17h-1zM28 52.73h1v1.17h-1zM34 52.73h1v1.17h-1zM6 54.98h1v1.17h-1zM15 54.98h1v1.17h-1zM22 54.98h1v1.17h-1zM33 54.98h1v1.17h-1zM23 57.22h1v1.17h-1zM31 57.22h1v1.17h-1zM34 57.22h1v1.17h-1zM34 58.34h1v1.17h-1zM22 59.47h1v1.17h-1zM16 60.59h1v1.17h-1zM17 60.59h1v1.17h-1zM23 60.59h1v1.17h-1zM29 60.59h1v1.17h-1zM29 61.71h1v1.17h-1zM35 61.71h1v1.17h-1zM37 61.71h1v1.17h-1zM13 62.83h1v1.17h-1zM14 62.83h1v1.17h-1zM21 62.83h1v1.17h-1zM34 62.83h1v1.17h-1zM29 63.95h1v1.17h-1zM6 65.08h1v1.17h-1zM36 65.08h1v1.17h-1zM26 66.20h1v1.17h-1zM27 66.20h1v1.17h-1zM35 66.20h1v1.17h-1zM14 67.32h1v1.17h-1zM23 67.32h1v1.17h-1zM38 67.32h1v1.17h-1zM12 68.44h1v1.17h-1zM21 68.44h1v1.17h-1zM31 68.44h1v1.17h-1zM32 68.44h1v1.17h-1zM38 68.44h1v1.17h-1zM5 69.56h1v1.17h-1zM33 69.56h1v1.17h-1zM12 70.69h1v1.17h-1zM33 70.69h1v1.17h-1zM36 70.69h1v1.17h-1zM21 71.81h1v1.17h-1zM24 71.81h1v1.17h-1zM5 72.93h1v1.17h-1zM13 72.93h1v1.17h-1zM18 72.93h1v1.17h-1zM28 72.93h1v1.17h-1zM29 72.93h1v1.17h-1zM14 74.05h1v1.17h-1zM16 74.05h1v1.17h-1zM34 74.05h1v1.17h-1zM22 75.17h1v1.17h-1zM16 76.30h1v1.17h-1zM32 76.30h1v1.17h-1zM36 76.30h1v1.17h-1zM31 77.42h1v1.17h-1zM32 78.54h1v1.17h-1zM29 79.66h1v1.17h-1zM14 80.78h1v1.17h-1zM26 80.78h1v1.17h-1zM5 81.91h1v1.17h-1zM12 81.91h1v1.17h-1zM15 81.91h1v1.17h-1zM14 83.03h1v1.17h-1zM18 83.03h1v1.17h-1zM27 83.03h1v1.17h-1zM34 83.03h1v1.17h-1zM25 84.15h1v1.17h-1zM27 84.15h1v1.17h-1zM33 84.15h1v1.17h-1zM12 85.27h1v1.17h-1zM24 85.27h1v1.17h-1zM28 85.27h1v1.17h-1zM33 85.27h1v1.17h-1zM17 86.39h1v1.17h-1zM24 87.52h1v1.17h-1zM10 89.76h1v1.17h-1zM23 89.76h1v1.17h-1zM24 89.76h1v1.17h-1zM26 89.76h1v1.17h-1zM10 90.88h1v1.17h-1zM12 90.88h1v1.17h-1zM15 90.88h1v1.17h-1zM23 92.00h1v1.17h-1zM25 92.00h1v1.17h-1zM28 92.00h1v1.17h-1zM34 92.00h1v1.17h-1zM26 93.13h1v1.17h-1zM5 94.25h1v1.17h-1zM12 95.37h1v1.17h-1zM30 96.49h1v1.17h-1zM38 96.49h1v1.17h-1zM28 97.61h1v1.17h-1zM32 97.61h1v1.17h-1zM10 98.74h1v1.17h-1zM15 98.74h1v1.17h-1zM29 98.74h1v1.17h-1zM32 98.74h1v1.17h-1zM33 100.98h1v1.17h-1zM31 102.10h1v1.17h-1zM32 102.10h1v1.17h-1zM24 103.22h1v1.17h-1zM28 103.22h1v1.17h-1zM38 103.22h1v1.17h-1zM33 104.35h1v1.17h-1zM26 105.47h1v1.17h-1zM27 105.47h1v1.17h-1zM34 105.47h1v1.17h-1zM10 106.59h1v1.17h-1zM14 106.59h1v1.17h-1zM14 107.71h1v1.17h-1zM23 107.71h1v1.17h-1zM28 107.71h1v1.17h-1zM32 109.96h1v1.17h-1zM5 111.08h1v1.17h-1zM26 111.08h1v1.17h-1zM3 113.60h1v1.18h-1zM11 115.86h1v1.18h-1zM38 115.86h1v1.18h-1zM1 118.13h1v1.18h-1zM7 122.66h1v1.18h-1zM19 123.79h1v1.18h-1zM38 123.79h1v1.18h-1zM2 124.92h1v1.18h-1zM15 124.92h1v1.18h-1zM18 124.92h1v1.18h-1zM30 124.92h1v1.18h-1zM33 126.05h1v1.18h-1zM33 127.19h1v1.18h-1zM30 128.32h1v1.18h-1zM6 130.58h1v1.18h-1zM9 130.58h1v1.18h-1zM7 135.11h1v1.18h-1zM35 137.38h1v1.18h-1zM9 140.77h1v1.18h-1zM35 140.77h1v1.18h-1zM13 150.00h1v1.17h-1zM14 153.35h1v1.17h-1zM15 154.47h1v1.17h-1zM9 155.58h1v1.17h-1zM14 160.05h1v1.17h-1zM12 161.16h1v1.17h-1zM16 161.16h1v1.17h-1zM16 162.28h1v1.17h-1zM17 162.28h1v1.17h-1zM7 163.40h1v1.17h-1zM2 165.63h1v1.17h-1zM12 165.63h1v1.17h-1zM10 166.74h1v1.17h-1zM19 166.74h1v1.17h-1zM9 168.98h1v1.17h-1zM14 170.09h1v1.17h-1zM11 171.21h1v1.17h-1zM13 173.44h1v1.17h-1zM7 181.26h1v1.17h-1zM6 187.95h1v1.17h-1zM6 189.07h1v1.17h-1zM5 190.19h1v1.17h-1zM27 190.19h1v1.17h-1zM13 193.54h1v1.17h-1zM19 193.54h1v1.17h-1zM19 194.65h1v1.17h-1zM7 196.88h1v1.17h-1zM16 196.88h1v1.17h-1zM13 198.00h1v1.17h-1zM31 198.00h1v1.17h-1zM6 199.12h1v1.17h-1zM12 199.12h1v1.17h-1zM15 199.12h1v1.17h-1zM12 200.23h1v1.17h-1zM8 202.47h1v1.17h-1zM13 202.47h1v1.17h-1zM6 205.82h1v1.17h-1zM10 205.82h1v1.17h-1zM17 209.16h1v1.17h-1zM9 212.51h1v1.17h-1zM6 214.75h1v1.17h-1zM12 219.21h1v1.17h-1zM14 219.21h1v1.17h-1zM18 219.21h1v1.17h-1zM30 219.21h1v1.17h-1zM7 222.56h1v1.17h-1zM13 222.56h1v1.17h-1zM15 222.56h1v1.17h-1zM5 223.68h1v1.17h-1zM9 223.68h1v1.17h-1zM10 233.72h1v1.17h-1zM7 237.07h1v1.17h-1zM13 237.07h1v1.17h-1zM9 238.19h1v1.17h-1zM5 241.54h1v1.17h-1zM14 241.54h1v1.17h-1zM17 244.89h1v1.17h-1zM3 246.00h1v1.17h-1zM10 246.00h1v1.17h-1zM11 246.00h1v1.17h-1zM17 246.00h1v1.17h-1zM12 249.35h1v1.17h-1zM15 251.58h1v1.17h-1zM16 251.58h1v1.17h-1zM21 251.58h1v1.17h-1z"/><path fill="#d2e4f0" d="M22 0.00h1v1.17h-1zM25 1.12h1v1.17h-1zM32 2.24h1v1.17h-1zM36 2.24h1v1.17h-1zM23 4.49h1v1.17h-1zM29 4.49h1v1.17h-1zM24 6.73h1v1.17h-1zM25 6.73h1v1.17h-1zM6 8.98h1v1.17h-1zM34 8.98h1v1.17h-1zM37 8.98h1v1.17h-1zM32 10.10h1v1.17h-1zM21 11.22h1v1.17h-1zM24 11.22h1v1.17h-1zM27 11.22h1v1.17h-1zM29 12.34h1v1.17h-1zM32 12.34h1v1.17h-1zM35 12.34h1v1.17h-1zM21 13.46h1v1.17h-1zM35 13.46h1v1.17h-1zM23 14.59h1v1.17h-1zM23 15.71h1v1.17h-1zM32 15.71h1v1.17h-1zM33 15.71h1v1.17h-1zM5 16.83h1v1.17h-1zM27 16.83h1v1.17h-1zM30 16.83h1v1.17h-1zM15 19.07h1v1.17h-1zM27 19.07h1v1.17h-1zM34 19.07h1v1.17h-1zM37 19.07h1v1.17h-1zM22 20.20h1v1.17h-1zM30 20.20h1v1.17h-1zM32 21.32h1v1.17h-1zM33 21.32h1v1.17h-1zM35 21.32h1v1.17h-1zM37 21.32h1v1.17h-1zM24 22.44h1v1.17h-1zM29 22.44h1v1.17h-1zM24 23.56h1v1.17h-1zM25 23.56h1v1.17h-1zM28 23.56h1v1.17h-1zM31 24.68h1v1.17h-1zM22 25.81h1v1.17h-1zM33 25.81h1v1.17h-1zM30 29.17h1v1.17h-1zM26 30.29h1v1.17h-1zM37 30.29h1v1.17h-1zM29 32.54h1v1.17h-1zM25 33.66h1v1.17h-1zM15 34.78h1v1.17h-1zM31 34.78h1v1.17h-1zM24 35.90h1v1.17h-1zM27 35.90h1v1.17h-1zM23 37.03h1v1.17h-1zM5 38.15h1v1.17h-1zM24 38.15h1v1.17h-1zM34 38.15h1v1.17h-1zM35 38.15h1v1.17h-1zM38 39.27h1v1.17h-1zM5 41.51h1v1.17h-1zM13 41.51h1v1.17h-1zM18 41.51h1v1.17h-1zM29 41.51h1v1.17h-1zM34 41.51h1v1.17h-1zM36 41.51h1v1.17h-1zM32 42.64h1v1.17h-1zM26 44.88h1v1.17h-1zM26 46.00h1v1.17h-1zM29 48.25h1v1.17h-1zM22 49.37h1v1.17h-1zM31 49.37h1v1.17h-1zM31 50.49h1v1.17h-1zM32 50.49h1v1.17h-1zM37 50.49h1v1.17h-1zM34 51.61h1v1.17h-1zM14 53.86h1v1.17h-1zM15 53.86h1v1.17h-1zM22 53.86h1v1.17h-1zM25 53.86h1v1.17h-1zM37 53.86h1v1.17h-1zM10 54.98h1v1.17h-1zM12 54.98h1v1.17h-1zM13 54.98h1v1.17h-1zM24 54.98h1v1.17h-1zM36 54.98h1v1.17h-1zM27 57.22h1v1.17h-1zM29 57.22h1v1.17h-1zM27 58.34h1v1.17h-1zM29 58.34h1v1.17h-1zM35 59.47h1v1.17h-1zM28 62.83h1v1.17h-1zM30 62.83h1v1.17h-1zM32 62.83h1v1.17h-1zM15 63.95h1v1.17h-1zM5 65.08h1v1.17h-1zM22 65.08h1v1.17h-1zM26 65.08h1v1.17h-1zM28 65.08h1v1.17h-1zM34 66.20h1v1.17h-1zM37 66.20h1v1.17h-1zM15 68.44h1v1.17h-1zM24 68.44h1v1.17h-1zM26 68.44h1v1.17h-1zM27 69.56h1v1.17h-1zM28 69.56h1v1.17h-1zM30 69.56h1v1.17h-1zM24 70.69h1v1.17h-1zM27 70.69h1v1.17h-1zM23 71.81h1v1.17h-1zM26 71.81h1v1.17h-1zM21 72.93h1v1.17h-1zM34 72.93h1v1.17h-1zM23 74.05h1v1.17h-1zM33 74.05h1v1.17h-1zM21 75.17h1v1.17h-1zM37 78.54h1v1.17h-1zM22 79.66h1v1.17h-1zM30 79.66h1v1.17h-1zM24 83.03h1v1.17h-1zM23 86.39h1v1.17h-1zM25 87.52h1v1.17h-1zM5 88.64h1v1.17h-1zM12 88.64h1v1.17h-1zM26 88.64h1v1.17h-1zM27 88.64h1v1.17h-1zM34 88.64h1v1.17h-1zM30 89.76h1v1.17h-1zM35 89.76h1v1.17h-1zM29 90.88h1v1.17h-1zM35 90.88h1v1.17h-1zM27 92.00h1v1.17h-1zM24 93.13h1v1.17h-1zM25 95.37h1v1.17h-1zM30 95.37h1v1.17h-1zM15 96.49h1v1.17h-1zM25 96.49h1v1.17h-1zM27 96.49h1v1.17h-1zM23 97.61h1v1.17h-1zM30 100.98h1v1.17h-1zM31 100.98h1v1.17h-1zM32 100.98h1v1.17h-1zM13 102.10h1v1.17h-1zM34 102.10h1v1.17h-1zM30 103.22h1v1.17h-1zM12 104.35h1v1.17h-1zM17 104.35h1v1.17h-1zM25 104.35h1v1.17h-1zM32 104.35h1v1.17h-1zM37 104.35h1v1.17h-1zM35 105.47h1v1.17h-1zM38 105.47h1v1.17h-1zM29 106.59h1v1.17h-1zM12 108.83h1v1.17h-1zM24 108.83h1v1.17h-1zM5 113.60h1v1.18h-1zM15 113.60h1v1.18h-1zM1 114.73h1v1.18h-1zM15 114.73h1v1.18h-1zM35 114.73h1v1.18h-1zM5 115.86h1v1.18h-1zM1 119.26h1v1.18h-1zM38 128.32h1v1.18h-1zM4 130.58h1v1.18h-1zM5 130.58h1v1.18h-1zM36 135.11h1v1.18h-1zM35 136.25h1v1.18h-1zM5 137.38h1v1.18h-1zM38 137.38h1v1.18h-1zM33 139.64h1v1.18h-1zM29 141.91h1v1.18h-1zM19 143.04h1v1.18h-1zM8 144.17h1v1.18h-1zM5 147.57h1v1.18h-1zM19 147.57h1v1.18h-1zM2 150.00h1v1.17h-1zM19 150.00h1v1.17h-1zM6 152.23h1v1.17h-1zM19 156.70h1v1.17h-1zM6 160.05h1v1.17h-1zM14 168.98h1v1.17h-1zM17 168.98h1v1.17h-1zM9 170.09h1v1.17h-1zM19 172.33h1v1.17h-1zM19 174.56h1v1.17h-1zM6 176.79h1v1.17h-1zM12 182.37h1v1.17h-1zM14 182.37h1v1.17h-1zM11 183.49h1v1.17h-1zM28 194.65h1v1.17h-1zM1 195.77h1v1.17h-1zM14 196.88h1v1.17h-1zM14 205.82h1v1.17h-1zM18 211.40h1v1.17h-1zM18 212.51h1v1.17h-1zM19 212.51h1v1.17h-1zM15 215.86h1v1.17h-1zM24 220.33h1v1.17h-1zM6 224.79h1v1.17h-1zM16 224.79h1v1.17h-1zM16 229.26h1v1.17h-1zM19 232.61h1v1.17h-1zM9 233.72h1v1.17h-1zM19 237.07h1v1.17h-1zM7 242.65h1v1.17h-1zM12 242.65h1v1.17h-1zM2 244.89h1v1.17h-1zM4 246.00h1v1.17h-1zM19 248.23h1v1.17h-1zM4 249.35h1v1.17h-1zM2 250.47h1v1.17h-1z"/><path fill="#ccdeea" d="M25 0.00h1v1.17h-1zM29 0.00h1v1.17h-1zM33 2.24h1v1.17h-1zM5 4.49h1v1.17h-1zM37 4.49h1v1.17h-1zM24 5.61h1v1.17h-1zM26 6.73h1v1.17h-1zM22 7.85h1v1.17h-1zM21 10.10h1v1.17h-1zM23 10.10h1v1.17h-1zM23 11.22h1v1.17h-1zM21 12.34h1v1.17h-1zM22 12.34h1v1.17h-1zM27 12.34h1v1.17h-1zM28 12.34h1v1.17h-1zM30 12.34h1v1.17h-1zM33 12.34h1v1.17h-1zM34 12.34h1v1.17h-1zM30 13.46h1v1.17h-1zM33 13.46h1v1.17h-1zM12 14.59h1v1.17h-1zM30 14.59h1v1.17h-1zM26 15.71h1v1.17h-1zM34 15.71h1v1.17h-1zM23 17.95h1v1.17h-1zM25 20.20h1v1.17h-1zM36 25.81h1v1.17h-1zM25 28.05h1v1.17h-1zM33 28.05h1v1.17h-1zM23 29.17h1v1.17h-1zM32 29.17h1v1.17h-1zM22 32.54h1v1.17h-1zM30 32.54h1v1.17h-1zM12 35.90h1v1.17h-1zM23 35.90h1v1.17h-1zM37 35.90h1v1.17h-1zM27 37.03h1v1.17h-1zM24 39.27h1v1.17h-1zM26 40.39h1v1.17h-1zM32 40.39h1v1.17h-1zM25 41.51h1v1.17h-1zM27 43.76h1v1.17h-1zM32 43.76h1v1.17h-1zM36 44.88h1v1.17h-1zM37 46.00h1v1.17h-1zM31 47.12h1v1.17h-1zM28 48.25h1v1.17h-1zM27 49.37h1v1.17h-1zM35 50.49h1v1.17h-1zM23 51.61h1v1.17h-1zM24 51.61h1v1.17h-1zM28 54.98h1v1.17h-1zM36 56.10h1v1.17h-1zM21 57.22h1v1.17h-1zM22 57.22h1v1.17h-1zM22 58.34h1v1.17h-1zM25 58.34h1v1.17h-1zM24 60.59h1v1.17h-1zM5 61.71h1v1.17h-1zM25 61.71h1v1.17h-1zM25 63.95h1v1.17h-1zM10 65.08h1v1.17h-1zM12 65.08h1v1.17h-1zM21 65.08h1v1.17h-1zM23 65.08h1v1.17h-1zM27 65.08h1v1.17h-1zM33 65.08h1v1.17h-1zM32 66.20h1v1.17h-1zM36 66.20h1v1.17h-1zM30 67.32h1v1.17h-1zM10 69.56h1v1.17h-1zM22 69.56h1v1.17h-1zM23 70.69h1v1.17h-1zM30 70.69h1v1.17h-1zM31 71.81h1v1.17h-1zM12 72.93h1v1.17h-1zM23 72.93h1v1.17h-1zM31 72.93h1v1.17h-1zM32 72.93h1v1.17h-1zM23 80.78h1v1.17h-1zM28 80.78h1v1.17h-1zM32 80.78h1v1.17h-1zM23 83.03h1v1.17h-1zM26 83.03h1v1.17h-1zM28 86.39h1v1.17h-1zM34 87.52h1v1.17h-1zM25 88.64h1v1.17h-1zM14 92.00h1v1.17h-1zM23 93.13h1v1.17h-1zM23 95.37h1v1.17h-1zM14 100.98h1v1.17h-1zM28 105.47h1v1.17h-1zM33 105.47h1v1.17h-1zM34 106.59h1v1.17h-1zM4 114.73h1v1.18h-1zM5 117.00h1v1.18h-1zM33 118.13h1v1.18h-1zM38 122.66h1v1.18h-1zM3 127.19h1v1.18h-1zM5 129.45h1v1.18h-1zM4 133.98h1v1.18h-1zM38 136.25h1v1.18h-1zM5 140.77h1v1.18h-1zM8 145.30h1v1.18h-1zM3 150.00h1v1.17h-1zM14 156.70h1v1.17h-1zM0 158.93h1v1.17h-1zM7 168.98h1v1.17h-1zM19 170.09h1v1.17h-1zM12 172.33h1v1.17h-1zM13 175.68h1v1.17h-1zM15 180.14h1v1.17h-1zM18 183.49h1v1.17h-1zM19 190.19h1v1.17h-1zM19 200.23h1v1.17h-1zM6 212.51h1v1.17h-1zM9 213.63h1v1.17h-1zM17 214.75h1v1.17h-1zM9 220.33h1v1.17h-1zM6 229.26h1v1.17h-1zM4 243.77h1v1.17h-1z"/><path fill="#f6f6f0" d="M26 0.00h1v1.17h-1zM16 1.12h1v1.17h-1zM5 3.37h1v1.17h-1zM12 3.37h1v1.17h-1zM13 3.37h1v1.17h-1zM32 3.37h1v1.17h-1zM34 4.49h1v1.17h-1zM4 6.73h1v1.17h-1zM15 6.73h1v1.17h-1zM35 10.10h1v1.17h-1zM18 11.22h1v1.17h-1zM38 11.22h1v1.17h-1zM16 13.46h1v1.17h-1zM38 13.46h1v1.17h-1zM36 14.59h1v1.17h-1zM17 19.07h1v1.17h-1zM22 19.07h1v1.17h-1zM15 22.44h1v1.17h-1zM11 23.56h1v1.17h-1zM25 29.17h1v1.17h-1zM8 30.29h1v1.17h-1zM18 31.42h1v1.17h-1zM6 37.03h1v1.17h-1zM7 37.03h1v1.17h-1zM14 40.39h1v1.17h-1zM16 40.39h1v1.17h-1zM1 49.37h1v1.17h-1zM15 52.73h1v1.17h-1zM18 52.73h1v1.17h-1zM19 54.98h1v1.17h-1zM11 57.22h1v1.17h-1zM32 57.22h1v1.17h-1zM6 61.71h1v1.17h-1zM19 61.71h1v1.17h-1zM12 62.83h1v1.17h-1zM20 65.08h1v1.17h-1zM5 66.20h1v1.17h-1zM16 68.44h1v1.17h-1zM10 70.69h1v1.17h-1zM13 70.69h1v1.17h-1zM5 75.17h1v1.17h-1zM30 76.30h1v1.17h-1zM29 77.42h1v1.17h-1zM18 78.54h1v1.17h-1zM12 79.66h1v1.17h-1zM29 83.03h1v1.17h-1zM10 87.52h1v1.17h-1zM16 88.64h1v1.17h-1zM27 89.76h1v1.17h-1zM14 90.88h1v1.17h-1zM26 90.88h1v1.17h-1zM38 90.88h1v1.17h-1zM33 92.00h1v1.17h-1zM36 92.00h1v1.17h-1zM15 93.13h1v1.17h-1zM17 93.13h1v1.17h-1zM27 93.13h1v1.17h-1zM32 95.37h1v1.17h-1zM33 98.74h1v1.17h-1zM6 99.86h1v1.17h-1zM30 99.86h1v1.17h-1zM18 102.10h1v1.17h-1zM6 103.22h1v1.17h-1zM19 103.22h1v1.17h-1zM20 104.35h1v1.17h-1zM22 104.35h1v1.17h-1zM6 105.47h1v1.17h-1zM17 105.47h1v1.17h-1zM15 107.71h1v1.17h-1zM21 107.71h1v1.17h-1zM33 108.83h1v1.17h-1zM38 108.83h1v1.17h-1zM23 109.96h1v1.17h-1zM38 111.08h1v1.17h-1zM20 113.60h1v1.18h-1zM28 113.60h1v1.18h-1zM18 114.73h1v1.18h-1zM22 114.73h1v1.18h-1zM24 114.73h1v1.18h-1zM20 115.86h1v1.18h-1zM10 117.00h1v1.18h-1zM13 117.00h1v1.18h-1zM18 118.13h1v1.18h-1zM17 119.26h1v1.18h-1zM12 120.39h1v1.18h-1zM36 121.53h1v1.18h-1zM12 122.66h1v1.18h-1zM1 123.79h1v1.18h-1zM14 123.79h1v1.18h-1zM20 123.79h1v1.18h-1zM24 124.92h1v1.18h-1zM6 129.45h1v1.18h-1zM29 129.45h1v1.18h-1zM33 129.45h1v1.18h-1zM34 131.72h1v1.18h-1zM13 132.85h1v1.18h-1zM14 132.85h1v1.18h-1zM2 135.11h1v1.18h-1zM12 135.11h1v1.18h-1zM24 139.64h1v1.18h-1zM8 140.77h1v1.18h-1zM27 140.77h1v1.18h-1zM36 140.77h1v1.18h-1zM8 141.91h1v1.18h-1zM14 141.91h1v1.18h-1zM37 141.91h1v1.18h-1zM8 143.04h1v1.18h-1zM21 143.04h1v1.18h-1zM2 144.17h1v1.18h-1zM32 144.17h1v1.18h-1zM14 145.30h1v1.18h-1zM31 145.30h1v1.18h-1zM12 146.44h1v1.18h-1zM14 146.44h1v1.18h-1zM25 146.44h1v1.18h-1zM36 147.57h1v1.18h-1zM10 150.00h1v1.17h-1zM23 150.00h1v1.17h-1zM26 150.00h1v1.17h-1zM35 151.12h1v1.17h-1zM14 152.23h1v1.17h-1zM37 153.35h1v1.17h-1zM38 153.35h1v1.17h-1zM10 155.58h1v1.17h-1zM25 155.58h1v1.17h-1zM12 158.93h1v1.17h-1zM28 161.16h1v1.17h-1zM21 166.74h1v1.17h-1zM24 167.86h1v1.17h-1zM10 172.33h1v1.17h-1zM11 173.44h1v1.17h-1zM17 173.44h1v1.17h-1zM13 174.56h1v1.17h-1zM28 174.56h1v1.17h-1zM23 176.79h1v1.17h-1zM19 177.91h1v1.17h-1zM38 179.02h1v1.17h-1zM22 180.14h1v1.17h-1zM27 180.14h1v1.17h-1zM24 181.26h1v1.17h-1zM37 183.49h1v1.17h-1zM18 186.84h1v1.17h-1zM17 191.30h1v1.17h-1zM37 193.54h1v1.17h-1zM13 194.65h1v1.17h-1zM23 194.65h1v1.17h-1zM34 194.65h1v1.17h-1zM5 196.88h1v1.17h-1zM26 196.88h1v1.17h-1zM38 199.12h1v1.17h-1zM29 200.23h1v1.17h-1zM11 203.58h1v1.17h-1zM38 203.58h1v1.17h-1zM26 204.70h1v1.17h-1zM11 205.82h1v1.17h-1zM35 205.82h1v1.17h-1zM19 206.93h1v1.17h-1zM14 208.05h1v1.17h-1zM32 209.16h1v1.17h-1zM5 210.28h1v1.17h-1zM37 211.40h1v1.17h-1zM21 212.51h1v1.17h-1zM29 213.63h1v1.17h-1zM31 213.63h1v1.17h-1zM22 214.75h1v1.17h-1zM25 214.75h1v1.17h-1zM6 215.86h1v1.17h-1zM19 215.86h1v1.17h-1zM34 215.86h1v1.17h-1zM20 216.98h1v1.17h-1zM34 216.98h1v1.17h-1zM6 219.21h1v1.17h-1zM10 219.21h1v1.17h-1zM11 222.56h1v1.17h-1zM12 222.56h1v1.17h-1zM14 222.56h1v1.17h-1zM24 223.68h1v1.17h-1zM26 224.79h1v1.17h-1zM24 225.91h1v1.17h-1zM28 227.02h1v1.17h-1zM29 229.26h1v1.17h-1zM26 230.37h1v1.17h-1zM35 230.37h1v1.17h-1zM19 231.49h1v1.17h-1zM10 235.96h1v1.17h-1zM11 237.07h1v1.17h-1zM17 237.07h1v1.17h-1zM17 238.19h1v1.17h-1zM7 239.30h1v1.17h-1zM19 241.54h1v1.17h-1zM22 241.54h1v1.17h-1zM14 242.65h1v1.17h-1zM32 244.89h1v1.17h-1zM22 246.00h1v1.17h-1zM35 246.00h1v1.17h-1zM13 249.35h1v1.17h-1zM11 250.47h1v1.17h-1zM38 250.47h1v1.17h-1z"/><path fill="#c6deea" d="M27 0.00h1v1.17h-1zM31 0.00h1v1.17h-1zM22 1.12h1v1.17h-1zM32 1.12h1v1.17h-1zM30 2.24h1v1.17h-1zM35 3.37h1v1.17h-1zM36 4.49h1v1.17h-1zM28 6.73h1v1.17h-1zM34 6.73h1v1.17h-1zM12 7.85h1v1.17h-1zM27 7.85h1v1.17h-1zM31 7.85h1v1.17h-1zM35 7.85h1v1.17h-1zM30 8.98h1v1.17h-1zM5 10.10h1v1.17h-1zM34 11.22h1v1.17h-1zM26 13.46h1v1.17h-1zM28 13.46h1v1.17h-1zM31 14.59h1v1.17h-1zM30 15.71h1v1.17h-1zM29 16.83h1v1.17h-1zM32 16.83h1v1.17h-1zM31 21.32h1v1.17h-1zM27 22.44h1v1.17h-1zM31 22.44h1v1.17h-1zM22 23.56h1v1.17h-1zM34 23.56h1v1.17h-1zM35 23.56h1v1.17h-1zM26 24.68h1v1.17h-1zM28 24.68h1v1.17h-1zM32 24.68h1v1.17h-1zM23 25.81h1v1.17h-1zM31 25.81h1v1.17h-1zM32 26.93h1v1.17h-1zM36 26.93h1v1.17h-1zM27 28.05h1v1.17h-1zM27 29.17h1v1.17h-1zM22 31.42h1v1.17h-1zM32 31.42h1v1.17h-1zM12 32.54h1v1.17h-1zM36 32.54h1v1.17h-1zM24 33.66h1v1.17h-1zM22 34.78h1v1.17h-1zM30 34.78h1v1.17h-1zM24 37.03h1v1.17h-1zM32 39.27h1v1.17h-1zM25 40.39h1v1.17h-1zM33 41.51h1v1.17h-1zM23 42.64h1v1.17h-1zM29 42.64h1v1.17h-1zM33 42.64h1v1.17h-1zM28 44.88h1v1.17h-1zM23 46.00h1v1.17h-1zM27 46.00h1v1.17h-1zM31 46.00h1v1.17h-1zM33 46.00h1v1.17h-1zM23 47.12h1v1.17h-1zM34 49.37h1v1.17h-1zM12 50.49h1v1.17h-1zM22 51.61h1v1.17h-1zM25 51.61h1v1.17h-1zM22 52.73h1v1.17h-1zM23 52.73h1v1.17h-1zM32 53.86h1v1.17h-1zM27 54.98h1v1.17h-1zM35 54.98h1v1.17h-1zM23 58.34h1v1.17h-1zM28 58.34h1v1.17h-1zM21 59.47h1v1.17h-1zM5 60.59h1v1.17h-1zM36 60.59h1v1.17h-1zM21 61.71h1v1.17h-1zM33 61.71h1v1.17h-1zM31 62.83h1v1.17h-1zM18 63.95h1v1.17h-1zM31 63.95h1v1.17h-1zM34 63.95h1v1.17h-1zM32 69.56h1v1.17h-1zM14 70.69h1v1.17h-1zM30 72.93h1v1.17h-1zM25 74.05h1v1.17h-1zM38 74.05h1v1.17h-1zM22 76.30h1v1.17h-1zM14 81.91h1v1.17h-1zM28 83.03h1v1.17h-1zM37 83.03h1v1.17h-1zM22 84.15h1v1.17h-1zM38 84.15h1v1.17h-1zM29 85.27h1v1.17h-1zM31 85.27h1v1.17h-1zM24 88.64h1v1.17h-1zM25 94.25h1v1.17h-1zM35 98.74h1v1.17h-1zM13 99.86h1v1.17h-1zM15 102.10h1v1.17h-1zM25 103.22h1v1.17h-1zM26 104.35h1v1.17h-1zM18 108.83h1v1.17h-1zM12 109.96h1v1.17h-1zM1 115.86h1v1.18h-1zM32 115.86h1v1.18h-1zM1 117.00h1v1.18h-1zM32 119.26h1v1.18h-1zM3 121.53h1v1.18h-1zM38 121.53h1v1.18h-1zM5 123.79h1v1.18h-1zM5 128.32h1v1.18h-1zM35 129.45h1v1.18h-1zM38 132.85h1v1.18h-1zM5 139.64h1v1.18h-1zM35 139.64h1v1.18h-1zM36 141.91h1v1.18h-1zM32 143.04h1v1.18h-1zM38 144.17h1v1.18h-1zM35 145.30h1v1.18h-1zM0 151.12h1v1.17h-1zM2 152.23h1v1.17h-1zM1 153.35h1v1.17h-1zM0 154.47h1v1.17h-1zM6 161.16h1v1.17h-1zM9 161.16h1v1.17h-1zM3 163.40h1v1.17h-1zM3 167.86h1v1.17h-1zM2 171.21h1v1.17h-1zM16 174.56h1v1.17h-1zM18 175.68h1v1.17h-1zM1 176.79h1v1.17h-1zM3 176.79h1v1.17h-1zM15 185.72h1v1.17h-1zM3 187.95h1v1.17h-1zM19 191.30h1v1.17h-1zM2 192.42h1v1.17h-1zM11 198.00h1v1.17h-1zM19 198.00h1v1.17h-1zM19 202.47h1v1.17h-1zM4 205.82h1v1.17h-1zM1 208.05h1v1.17h-1zM13 210.28h1v1.17h-1zM12 211.40h1v1.17h-1zM17 211.40h1v1.17h-1zM18 216.98h1v1.17h-1zM19 216.98h1v1.17h-1zM2 220.33h1v1.17h-1zM14 220.33h1v1.17h-1zM1 225.91h1v1.17h-1zM6 228.14h1v1.17h-1zM0 234.84h1v1.17h-1zM4 234.84h1v1.17h-1zM1 238.19h1v1.17h-1zM6 243.77h1v1.17h-1zM9 244.89h1v1.17h-1zM19 244.89h1v1.17h-1z"/><path fill="#cce4ea" d="M32 0.00h1v1.17h-1zM24 2.24h1v1.17h-1zM24 3.37h1v1.17h-1zM22 4.49h1v1.17h-1zM26 5.61h1v1.17h-1zM21 6.73h1v1.17h-1zM23 6.73h1v1.17h-1zM31 6.73h1v1.17h-1zM35 6.73h1v1.17h-1zM32 11.22h1v1.17h-1zM23 12.34h1v1.17h-1zM37 12.34h1v1.17h-1zM37 14.59h1v1.17h-1zM18 15.71h1v1.17h-1zM21 15.71h1v1.17h-1zM25 15.71h1v1.17h-1zM36 15.71h1v1.17h-1zM5 19.07h1v1.17h-1zM26 19.07h1v1.17h-1zM21 21.32h1v1.17h-1zM21 23.56h1v1.17h-1zM36 23.56h1v1.17h-1zM28 28.05h1v1.17h-1zM30 31.42h1v1.17h-1zM27 33.66h1v1.17h-1zM24 34.78h1v1.17h-1zM32 34.78h1v1.17h-1zM21 35.90h1v1.17h-1zM31 35.90h1v1.17h-1zM36 35.90h1v1.17h-1zM33 38.15h1v1.17h-1zM21 41.51h1v1.17h-1zM26 41.51h1v1.17h-1zM28 43.76h1v1.17h-1zM33 43.76h1v1.17h-1zM37 44.88h1v1.17h-1zM12 46.00h1v1.17h-1zM15 46.00h1v1.17h-1zM35 46.00h1v1.17h-1zM21 49.37h1v1.17h-1zM36 49.37h1v1.17h-1zM22 50.49h1v1.17h-1zM21 56.10h1v1.17h-1zM23 59.47h1v1.17h-1zM28 61.71h1v1.17h-1zM31 61.71h1v1.17h-1zM14 63.95h1v1.17h-1zM24 63.95h1v1.17h-1zM16 66.20h1v1.17h-1zM21 67.32h1v1.17h-1zM32 67.32h1v1.17h-1zM21 69.56h1v1.17h-1zM35 69.56h1v1.17h-1zM36 69.56h1v1.17h-1zM21 70.69h1v1.17h-1zM22 70.69h1v1.17h-1zM24 72.93h1v1.17h-1zM36 74.05h1v1.17h-1zM31 78.54h1v1.17h-1zM22 81.91h1v1.17h-1zM23 85.27h1v1.17h-1zM15 87.52h1v1.17h-1zM30 88.64h1v1.17h-1zM33 88.64h1v1.17h-1zM21 90.88h1v1.17h-1zM23 90.88h1v1.17h-1zM30 90.88h1v1.17h-1zM21 92.00h1v1.17h-1zM33 93.13h1v1.17h-1zM21 94.25h1v1.17h-1zM38 94.25h1v1.17h-1zM14 96.49h1v1.17h-1zM28 99.86h1v1.17h-1zM12 102.10h1v1.17h-1zM21 102.10h1v1.17h-1zM26 103.22h1v1.17h-1zM23 104.35h1v1.17h-1zM36 104.35h1v1.17h-1zM21 106.59h1v1.17h-1zM36 106.59h1v1.17h-1zM29 108.83h1v1.17h-1zM38 114.73h1v1.18h-1zM4 115.86h1v1.18h-1zM36 117.00h1v1.18h-1zM38 124.92h1v1.18h-1zM38 127.19h1v1.18h-1zM36 133.98h1v1.18h-1zM4 136.25h1v1.18h-1zM19 138.51h1v1.18h-1zM28 143.04h1v1.18h-1zM38 145.30h1v1.18h-1zM4 152.23h1v1.17h-1zM5 152.23h1v1.17h-1zM0 153.35h1v1.17h-1zM3 154.47h1v1.17h-1zM4 156.70h1v1.17h-1zM0 162.28h1v1.17h-1zM5 165.63h1v1.17h-1zM19 168.98h1v1.17h-1zM0 177.91h1v1.17h-1zM14 180.14h1v1.17h-1zM9 181.26h1v1.17h-1zM1 184.61h1v1.17h-1zM36 187.95h1v1.17h-1zM15 194.65h1v1.17h-1zM8 198.00h1v1.17h-1zM9 203.58h1v1.17h-1zM19 203.58h1v1.17h-1zM1 204.70h1v1.17h-1zM19 209.16h1v1.17h-1zM19 211.40h1v1.17h-1zM15 212.51h1v1.17h-1zM2 215.86h1v1.17h-1zM12 216.98h1v1.17h-1zM2 218.09h1v1.17h-1zM6 222.56h1v1.17h-1zM3 231.49h1v1.17h-1zM1 234.84h1v1.17h-1zM4 242.65h1v1.17h-1zM16 244.89h1v1.17h-1zM14 246.00h1v1.17h-1zM14 249.35h1v1.17h-1z"/><path fill="#c0d8ea" d="M34 0.00h1v1.17h-1zM35 0.00h1v1.17h-1zM28 1.12h1v1.17h-1zM37 1.12h1v1.17h-1zM23 2.24h1v1.17h-1zM25 2.24h1v1.17h-1zM28 3.37h1v1.17h-1zM28 4.49h1v1.17h-1zM35 4.49h1v1.17h-1zM5 5.61h1v1.17h-1zM27 5.61h1v1.17h-1zM23 7.85h1v1.17h-1zM28 7.85h1v1.17h-1zM25 13.46h1v1.17h-1zM27 13.46h1v1.17h-1zM24 14.59h1v1.17h-1zM26 14.59h1v1.17h-1zM10 16.83h1v1.17h-1zM14 16.83h1v1.17h-1zM23 16.83h1v1.17h-1zM26 16.83h1v1.17h-1zM22 17.95h1v1.17h-1zM25 17.95h1v1.17h-1zM25 21.32h1v1.17h-1zM34 26.93h1v1.17h-1zM29 31.42h1v1.17h-1zM33 31.42h1v1.17h-1zM32 32.54h1v1.17h-1zM26 33.66h1v1.17h-1zM34 33.66h1v1.17h-1zM22 37.03h1v1.17h-1zM21 38.15h1v1.17h-1zM36 39.27h1v1.17h-1zM28 40.39h1v1.17h-1zM31 40.39h1v1.17h-1zM37 40.39h1v1.17h-1zM26 42.64h1v1.17h-1zM28 47.12h1v1.17h-1zM23 48.25h1v1.17h-1zM34 48.25h1v1.17h-1zM25 49.37h1v1.17h-1zM30 51.61h1v1.17h-1zM30 54.98h1v1.17h-1zM32 54.98h1v1.17h-1zM28 56.10h1v1.17h-1zM35 56.10h1v1.17h-1zM15 59.47h1v1.17h-1zM32 65.08h1v1.17h-1zM23 66.20h1v1.17h-1zM22 67.32h1v1.17h-1zM36 68.44h1v1.17h-1zM25 70.69h1v1.17h-1zM28 74.05h1v1.17h-1zM31 74.05h1v1.17h-1zM28 75.17h1v1.17h-1zM27 78.54h1v1.17h-1zM28 81.91h1v1.17h-1zM5 84.15h1v1.17h-1zM29 88.64h1v1.17h-1zM32 88.64h1v1.17h-1zM36 88.64h1v1.17h-1zM14 93.13h1v1.17h-1zM34 93.13h1v1.17h-1zM26 97.61h1v1.17h-1zM30 98.74h1v1.17h-1zM27 103.22h1v1.17h-1zM35 106.59h1v1.17h-1zM23 111.08h1v1.17h-1zM32 114.73h1v1.18h-1zM8 117.00h1v1.18h-1zM33 117.00h1v1.18h-1zM35 118.13h1v1.18h-1zM5 121.53h1v1.18h-1zM35 121.53h1v1.18h-1zM3 136.25h1v1.18h-1zM4 137.38h1v1.18h-1zM32 137.38h1v1.18h-1zM5 138.51h1v1.18h-1zM5 141.91h1v1.18h-1zM38 141.91h1v1.18h-1zM5 143.04h1v1.18h-1zM35 143.04h1v1.18h-1zM4 150.00h1v1.17h-1zM2 151.12h1v1.17h-1zM0 152.23h1v1.17h-1zM3 152.23h1v1.17h-1zM2 153.35h1v1.17h-1zM3 153.35h1v1.17h-1zM1 154.47h1v1.17h-1zM1 156.70h1v1.17h-1zM16 165.63h1v1.17h-1zM2 167.86h1v1.17h-1zM1 172.33h1v1.17h-1zM2 173.44h1v1.17h-1zM4 173.44h1v1.17h-1zM9 174.56h1v1.17h-1zM4 175.68h1v1.17h-1zM6 177.91h1v1.17h-1zM1 183.49h1v1.17h-1zM2 184.61h1v1.17h-1zM1 185.72h1v1.17h-1zM3 191.30h1v1.17h-1zM3 192.42h1v1.17h-1zM0 193.54h1v1.17h-1zM4 195.77h1v1.17h-1zM1 198.00h1v1.17h-1zM2 198.00h1v1.17h-1zM0 199.12h1v1.17h-1zM4 202.47h1v1.17h-1zM0 205.82h1v1.17h-1zM1 206.93h1v1.17h-1zM3 206.93h1v1.17h-1zM5 206.93h1v1.17h-1zM3 208.05h1v1.17h-1zM4 209.16h1v1.17h-1zM1 210.28h1v1.17h-1zM14 218.09h1v1.17h-1zM1 224.79h1v1.17h-1zM1 228.14h1v1.17h-1zM13 229.26h1v1.17h-1zM1 231.49h1v1.17h-1zM4 231.49h1v1.17h-1zM0 233.72h1v1.17h-1zM14 233.72h1v1.17h-1zM18 238.19h1v1.17h-1zM2 241.54h1v1.17h-1zM3 241.54h1v1.17h-1zM19 243.77h1v1.17h-1zM10 247.12h1v1.17h-1zM14 248.23h1v1.17h-1z"/><path fill="#d8e4f0" d="M36 0.00h1v1.17h-1zM29 1.12h1v1.17h-1zM34 1.12h1v1.17h-1zM21 3.37h1v1.17h-1zM25 3.37h1v1.17h-1zM26 3.37h1v1.17h-1zM24 4.49h1v1.17h-1zM30 4.49h1v1.17h-1zM30 5.61h1v1.17h-1zM33 5.61h1v1.17h-1zM22 6.73h1v1.17h-1zM29 6.73h1v1.17h-1zM15 7.85h1v1.17h-1zM26 7.85h1v1.17h-1zM29 7.85h1v1.17h-1zM24 8.98h1v1.17h-1zM27 8.98h1v1.17h-1zM29 10.10h1v1.17h-1zM30 10.10h1v1.17h-1zM31 10.10h1v1.17h-1zM29 11.22h1v1.17h-1zM35 11.22h1v1.17h-1zM38 12.34h1v1.17h-1zM13 13.46h1v1.17h-1zM24 13.46h1v1.17h-1zM34 13.46h1v1.17h-1zM22 14.59h1v1.17h-1zM25 14.59h1v1.17h-1zM34 14.59h1v1.17h-1zM34 16.83h1v1.17h-1zM36 16.83h1v1.17h-1zM37 17.95h1v1.17h-1zM23 19.07h1v1.17h-1zM23 21.32h1v1.17h-1zM24 21.32h1v1.17h-1zM30 21.32h1v1.17h-1zM32 22.44h1v1.17h-1zM35 22.44h1v1.17h-1zM5 23.56h1v1.17h-1zM14 23.56h1v1.17h-1zM29 23.56h1v1.17h-1zM33 23.56h1v1.17h-1zM34 25.81h1v1.17h-1zM35 25.81h1v1.17h-1zM25 26.93h1v1.17h-1zM30 30.29h1v1.17h-1zM36 30.29h1v1.17h-1zM15 31.42h1v1.17h-1zM21 31.42h1v1.17h-1zM24 31.42h1v1.17h-1zM37 31.42h1v1.17h-1zM15 32.54h1v1.17h-1zM35 32.54h1v1.17h-1zM16 34.78h1v1.17h-1zM28 34.78h1v1.17h-1zM29 34.78h1v1.17h-1zM31 37.03h1v1.17h-1zM34 37.03h1v1.17h-1zM28 38.15h1v1.17h-1zM25 39.27h1v1.17h-1zM37 39.27h1v1.17h-1zM23 40.39h1v1.17h-1zM24 40.39h1v1.17h-1zM36 40.39h1v1.17h-1zM16 41.51h1v1.17h-1zM31 41.51h1v1.17h-1zM21 42.64h1v1.17h-1zM25 42.64h1v1.17h-1zM23 43.76h1v1.17h-1zM26 43.76h1v1.17h-1zM36 43.76h1v1.17h-1zM14 44.88h1v1.17h-1zM23 44.88h1v1.17h-1zM25 44.88h1v1.17h-1zM35 44.88h1v1.17h-1zM29 46.00h1v1.17h-1zM27 47.12h1v1.17h-1zM32 47.12h1v1.17h-1zM5 48.25h1v1.17h-1zM24 48.25h1v1.17h-1zM38 49.37h1v1.17h-1zM21 50.49h1v1.17h-1zM26 50.49h1v1.17h-1zM18 51.61h1v1.17h-1zM33 51.61h1v1.17h-1zM24 52.73h1v1.17h-1zM36 52.73h1v1.17h-1zM29 53.86h1v1.17h-1zM31 54.98h1v1.17h-1zM34 54.98h1v1.17h-1zM37 54.98h1v1.17h-1zM6 56.10h1v1.17h-1zM22 56.10h1v1.17h-1zM29 56.10h1v1.17h-1zM34 56.10h1v1.17h-1zM26 57.22h1v1.17h-1zM28 57.22h1v1.17h-1zM33 57.22h1v1.17h-1zM14 58.34h1v1.17h-1zM28 59.47h1v1.17h-1zM28 60.59h1v1.17h-1zM23 61.71h1v1.17h-1zM24 61.71h1v1.17h-1zM32 61.71h1v1.17h-1zM34 61.71h1v1.17h-1zM36 61.71h1v1.17h-1zM24 62.83h1v1.17h-1zM25 62.83h1v1.17h-1zM21 63.95h1v1.17h-1zM26 63.95h1v1.17h-1zM24 65.08h1v1.17h-1zM38 66.20h1v1.17h-1zM16 67.32h1v1.17h-1zM5 68.44h1v1.17h-1zM24 69.56h1v1.17h-1zM38 69.56h1v1.17h-1zM12 71.81h1v1.17h-1zM29 71.81h1v1.17h-1zM30 71.81h1v1.17h-1zM34 71.81h1v1.17h-1zM37 71.81h1v1.17h-1zM37 72.93h1v1.17h-1zM29 74.05h1v1.17h-1zM12 75.17h1v1.17h-1zM29 75.17h1v1.17h-1zM37 75.17h1v1.17h-1zM38 76.30h1v1.17h-1zM5 77.42h1v1.17h-1zM23 77.42h1v1.17h-1zM21 78.54h1v1.17h-1zM24 78.54h1v1.17h-1zM25 78.54h1v1.17h-1zM28 78.54h1v1.17h-1zM12 80.78h1v1.17h-1zM21 80.78h1v1.17h-1zM35 80.78h1v1.17h-1zM23 81.91h1v1.17h-1zM24 81.91h1v1.17h-1zM25 81.91h1v1.17h-1zM15 83.03h1v1.17h-1zM25 83.03h1v1.17h-1zM24 84.15h1v1.17h-1zM5 86.39h1v1.17h-1zM22 86.39h1v1.17h-1zM10 88.64h1v1.17h-1zM18 88.64h1v1.17h-1zM28 88.64h1v1.17h-1zM31 88.64h1v1.17h-1zM37 88.64h1v1.17h-1zM15 89.76h1v1.17h-1zM31 89.76h1v1.17h-1zM33 89.76h1v1.17h-1zM38 93.13h1v1.17h-1zM33 94.25h1v1.17h-1zM29 95.37h1v1.17h-1zM23 96.49h1v1.17h-1zM24 96.49h1v1.17h-1zM35 97.61h1v1.17h-1zM36 97.61h1v1.17h-1zM21 98.74h1v1.17h-1zM37 98.74h1v1.17h-1zM23 99.86h1v1.17h-1zM26 99.86h1v1.17h-1zM31 99.86h1v1.17h-1zM5 100.98h1v1.17h-1zM15 100.98h1v1.17h-1zM24 100.98h1v1.17h-1zM28 100.98h1v1.17h-1zM36 100.98h1v1.17h-1zM24 102.10h1v1.17h-1zM36 102.10h1v1.17h-1zM5 103.22h1v1.17h-1zM21 103.22h1v1.17h-1zM34 103.22h1v1.17h-1zM30 104.35h1v1.17h-1zM21 105.47h1v1.17h-1zM29 105.47h1v1.17h-1zM23 106.59h1v1.17h-1zM24 106.59h1v1.17h-1zM28 106.59h1v1.17h-1zM27 107.71h1v1.17h-1zM35 107.71h1v1.17h-1zM26 108.83h1v1.17h-1zM32 108.83h1v1.17h-1zM35 108.83h1v1.17h-1zM37 108.83h1v1.17h-1zM31 109.96h1v1.17h-1zM32 111.08h1v1.17h-1zM36 113.60h1v1.18h-1zM23 114.73h1v1.18h-1zM33 115.86h1v1.18h-1zM4 117.00h1v1.18h-1zM4 119.26h1v1.18h-1zM20 127.19h1v1.18h-1zM4 129.45h1v1.18h-1zM38 129.45h1v1.18h-1zM38 130.58h1v1.18h-1zM35 131.72h1v1.18h-1zM29 133.98h1v1.18h-1zM18 135.11h1v1.18h-1zM11 136.25h1v1.18h-1zM19 137.38h1v1.18h-1zM28 139.64h1v1.18h-1zM2 140.77h1v1.18h-1zM33 140.77h1v1.18h-1zM33 141.91h1v1.18h-1zM1 143.04h1v1.18h-1zM2 143.04h1v1.18h-1zM29 143.04h1v1.18h-1zM38 143.04h1v1.18h-1zM4 145.30h1v1.18h-1zM5 150.00h1v1.17h-1zM9 150.00h1v1.17h-1zM16 153.35h1v1.17h-1zM19 153.35h1v1.17h-1zM9 154.47h1v1.17h-1zM14 155.58h1v1.17h-1zM7 161.16h1v1.17h-1zM14 162.28h1v1.17h-1zM14 163.40h1v1.17h-1zM15 163.40h1v1.17h-1zM14 166.74h1v1.17h-1zM19 171.21h1v1.17h-1zM6 174.56h1v1.17h-1zM5 176.79h1v1.17h-1zM9 176.79h1v1.17h-1zM14 177.91h1v1.17h-1zM6 179.02h1v1.17h-1zM9 180.14h1v1.17h-1zM18 180.14h1v1.17h-1zM13 185.72h1v1.17h-1zM0 186.84h1v1.17h-1zM15 187.95h1v1.17h-1zM15 196.88h1v1.17h-1zM15 198.00h1v1.17h-1zM18 198.00h1v1.17h-1zM9 201.35h1v1.17h-1zM16 201.35h1v1.17h-1zM12 203.58h1v1.17h-1zM19 204.70h1v1.17h-1zM5 205.82h1v1.17h-1zM19 205.82h1v1.17h-1zM16 209.16h1v1.17h-1zM19 210.28h1v1.17h-1zM16 212.51h1v1.17h-1zM5 213.63h1v1.17h-1zM19 213.63h1v1.17h-1zM12 214.75h1v1.17h-1zM6 220.33h1v1.17h-1zM10 220.33h1v1.17h-1zM31 220.33h1v1.17h-1zM14 221.44h1v1.17h-1zM8 222.56h1v1.17h-1zM8 225.91h1v1.17h-1zM12 227.02h1v1.17h-1zM5 230.37h1v1.17h-1zM12 230.37h1v1.17h-1zM6 232.61h1v1.17h-1zM16 235.96h1v1.17h-1zM15 242.65h1v1.17h-1zM0 244.89h1v1.17h-1zM4 244.89h1v1.17h-1zM14 244.89h1v1.17h-1zM18 244.89h1v1.17h-1zM0 250.47h1v1.17h-1zM4 250.47h1v1.17h-1zM1 251.58h1v1.17h-1zM4 251.58h1v1.17h-1z"/><path fill="#f6d8cc" d="M2 1.12h1v1.17h-1zM4 1.12h1v1.17h-1zM11 1.12h1v1.17h-1zM17 1.12h1v1.17h-1zM3 2.24h1v1.17h-1zM7 2.24h1v1.17h-1zM9 2.24h1v1.17h-1zM11 2.24h1v1.17h-1zM3 3.37h1v1.17h-1zM7 3.37h1v1.17h-1zM20 3.37h1v1.17h-1zM33 3.37h1v1.17h-1zM9 4.49h1v1.17h-1zM3 5.61h1v1.17h-1zM8 5.61h1v1.17h-1zM20 5.61h1v1.17h-1zM0 6.73h1v1.17h-1zM19 6.73h1v1.17h-1zM1 8.98h1v1.17h-1zM2 8.98h1v1.17h-1zM3 10.10h1v1.17h-1zM7 10.10h1v1.17h-1zM9 10.10h1v1.17h-1zM2 12.34h1v1.17h-1zM17 13.46h1v1.17h-1zM3 14.59h1v1.17h-1zM8 16.83h1v1.17h-1zM20 16.83h1v1.17h-1zM38 16.83h1v1.17h-1zM0 17.95h1v1.17h-1zM17 17.95h1v1.17h-1zM7 19.07h1v1.17h-1zM10 19.07h1v1.17h-1zM0 20.20h1v1.17h-1zM7 20.20h1v1.17h-1zM11 20.20h1v1.17h-1zM7 22.44h1v1.17h-1zM8 22.44h1v1.17h-1zM2 23.56h1v1.17h-1zM20 23.56h1v1.17h-1zM0 24.68h1v1.17h-1zM0 26.93h1v1.17h-1zM4 26.93h1v1.17h-1zM11 26.93h1v1.17h-1zM17 26.93h1v1.17h-1zM7 28.05h1v1.17h-1zM20 30.29h1v1.17h-1zM1 31.42h1v1.17h-1zM2 31.42h1v1.17h-1zM2 32.54h1v1.17h-1zM4 32.54h1v1.17h-1zM20 32.54h1v1.17h-1zM3 33.66h1v1.17h-1zM4 34.78h1v1.17h-1zM8 35.90h1v1.17h-1zM9 35.90h1v1.17h-1zM11 35.90h1v1.17h-1zM16 37.03h1v1.17h-1zM20 37.03h1v1.17h-1zM1 38.15h1v1.17h-1zM3 38.15h1v1.17h-1zM1 39.27h1v1.17h-1zM11 40.39h1v1.17h-1zM11 41.51h1v1.17h-1zM3 42.64h1v1.17h-1zM9 42.64h1v1.17h-1zM18 42.64h1v1.17h-1zM20 42.64h1v1.17h-1zM38 43.76h1v1.17h-1zM11 44.88h1v1.17h-1zM9 46.00h1v1.17h-1zM16 47.12h1v1.17h-1zM3 48.25h1v1.17h-1zM10 48.25h1v1.17h-1zM0 50.49h1v1.17h-1zM9 50.49h1v1.17h-1zM11 51.61h1v1.17h-1zM20 52.73h1v1.17h-1zM9 53.86h1v1.17h-1zM19 53.86h1v1.17h-1zM3 54.98h1v1.17h-1zM8 54.98h1v1.17h-1zM1 56.10h1v1.17h-1zM8 57.22h1v1.17h-1zM2 58.34h1v1.17h-1zM19 58.34h1v1.17h-1zM0 60.59h1v1.17h-1zM19 62.83h1v1.17h-1zM2 63.95h1v1.17h-1zM37 63.95h1v1.17h-1zM0 65.08h1v1.17h-1zM2 65.08h1v1.17h-1zM4 65.08h1v1.17h-1zM9 68.44h1v1.17h-1zM19 68.44h1v1.17h-1zM20 69.56h1v1.17h-1zM6 71.81h1v1.17h-1zM9 71.81h1v1.17h-1zM2 74.05h1v1.17h-1zM3 74.05h1v1.17h-1zM7 74.05h1v1.17h-1zM8 74.05h1v1.17h-1zM11 74.05h1v1.17h-1zM3 75.17h1v1.17h-1zM8 75.17h1v1.17h-1zM17 76.30h1v1.17h-1zM9 78.54h1v1.17h-1zM7 79.66h1v1.17h-1zM11 79.66h1v1.17h-1zM17 79.66h1v1.17h-1zM19 79.66h1v1.17h-1zM7 80.78h1v1.17h-1zM8 80.78h1v1.17h-1zM1 81.91h1v1.17h-1zM1 83.03h1v1.17h-1zM4 84.15h1v1.17h-1zM0 85.27h1v1.17h-1zM11 85.27h1v1.17h-1zM19 85.27h1v1.17h-1zM26 85.27h1v1.17h-1zM1 86.39h1v1.17h-1zM4 86.39h1v1.17h-1zM1 87.52h1v1.17h-1zM9 87.52h1v1.17h-1zM13 90.88h1v1.17h-1zM8 92.00h1v1.17h-1zM11 92.00h1v1.17h-1zM19 92.00h1v1.17h-1zM20 92.00h1v1.17h-1zM0 94.25h1v1.17h-1zM18 94.25h1v1.17h-1zM6 95.37h1v1.17h-1zM8 95.37h1v1.17h-1zM18 95.37h1v1.17h-1zM3 96.49h1v1.17h-1zM4 97.61h1v1.17h-1zM7 97.61h1v1.17h-1zM14 97.61h1v1.17h-1zM9 98.74h1v1.17h-1zM7 100.98h1v1.17h-1zM11 100.98h1v1.17h-1zM20 100.98h1v1.17h-1zM35 100.98h1v1.17h-1zM11 102.10h1v1.17h-1zM2 103.22h1v1.17h-1zM8 103.22h1v1.17h-1zM7 104.35h1v1.17h-1zM11 104.35h1v1.17h-1zM4 105.47h1v1.17h-1zM11 105.47h1v1.17h-1zM1 106.59h1v1.17h-1zM7 106.59h1v1.17h-1zM4 107.71h1v1.17h-1zM11 107.71h1v1.17h-1zM19 107.71h1v1.17h-1zM8 108.83h1v1.17h-1zM19 108.83h1v1.17h-1zM19 111.08h1v1.17h-1zM20 111.08h1v1.17h-1zM6 114.73h1v1.18h-1zM26 115.86h1v1.18h-1zM37 115.86h1v1.18h-1zM34 117.00h1v1.18h-1zM0 119.26h1v1.18h-1zM16 119.26h1v1.18h-1zM26 119.26h1v1.18h-1zM31 119.26h1v1.18h-1zM29 120.39h1v1.18h-1zM22 121.53h1v1.18h-1zM0 122.66h1v1.18h-1zM22 122.66h1v1.18h-1zM28 122.66h1v1.18h-1zM31 122.66h1v1.18h-1zM0 124.92h1v1.18h-1zM14 124.92h1v1.18h-1zM23 124.92h1v1.18h-1zM26 124.92h1v1.18h-1zM31 124.92h1v1.18h-1zM37 124.92h1v1.18h-1zM15 126.05h1v1.18h-1zM25 126.05h1v1.18h-1zM30 126.05h1v1.18h-1zM9 127.19h1v1.18h-1zM22 127.19h1v1.18h-1zM37 127.19h1v1.18h-1zM21 130.58h1v1.18h-1zM7 131.72h1v1.18h-1zM22 131.72h1v1.18h-1zM12 132.85h1v1.18h-1zM31 133.98h1v1.18h-1zM0 136.25h1v1.18h-1zM9 136.25h1v1.18h-1zM14 136.25h1v1.18h-1zM23 136.25h1v1.18h-1zM24 136.25h1v1.18h-1zM27 136.25h1v1.18h-1zM14 137.38h1v1.18h-1zM18 137.38h1v1.18h-1zM27 137.38h1v1.18h-1zM31 137.38h1v1.18h-1zM15 141.91h1v1.18h-1zM22 141.91h1v1.18h-1zM18 143.04h1v1.18h-1zM22 143.04h1v1.18h-1zM12 144.17h1v1.18h-1zM1 145.30h1v1.18h-1zM16 146.44h1v1.18h-1zM20 146.44h1v1.18h-1zM26 146.44h1v1.18h-1zM27 146.44h1v1.18h-1zM33 146.44h1v1.18h-1zM14 147.57h1v1.18h-1zM25 147.57h1v1.18h-1zM27 147.57h1v1.18h-1zM7 150.00h1v1.17h-1zM37 150.00h1v1.17h-1zM22 151.12h1v1.17h-1zM23 151.12h1v1.17h-1zM33 152.23h1v1.17h-1zM24 153.35h1v1.17h-1zM22 154.47h1v1.17h-1zM24 154.47h1v1.17h-1zM29 154.47h1v1.17h-1zM33 154.47h1v1.17h-1zM30 155.58h1v1.17h-1zM35 155.58h1v1.17h-1zM10 156.70h1v1.17h-1zM15 156.70h1v1.17h-1zM34 158.93h1v1.17h-1zM36 158.93h1v1.17h-1zM38 158.93h1v1.17h-1zM7 160.05h1v1.17h-1zM10 160.05h1v1.17h-1zM21 161.16h1v1.17h-1zM24 161.16h1v1.17h-1zM37 161.16h1v1.17h-1zM28 162.28h1v1.17h-1zM31 162.28h1v1.17h-1zM30 163.40h1v1.17h-1zM31 163.40h1v1.17h-1zM28 164.51h1v1.17h-1zM29 164.51h1v1.17h-1zM31 164.51h1v1.17h-1zM32 164.51h1v1.17h-1zM15 165.63h1v1.17h-1zM17 165.63h1v1.17h-1zM37 165.63h1v1.17h-1zM9 166.74h1v1.17h-1zM11 166.74h1v1.17h-1zM21 167.86h1v1.17h-1zM28 167.86h1v1.17h-1zM31 167.86h1v1.17h-1zM8 168.98h1v1.17h-1zM12 170.09h1v1.17h-1zM10 171.21h1v1.17h-1zM13 171.21h1v1.17h-1zM30 171.21h1v1.17h-1zM35 171.21h1v1.17h-1zM15 172.33h1v1.17h-1zM27 172.33h1v1.17h-1zM32 172.33h1v1.17h-1zM34 172.33h1v1.17h-1zM21 173.44h1v1.17h-1zM22 173.44h1v1.17h-1zM26 173.44h1v1.17h-1zM27 173.44h1v1.17h-1zM31 173.44h1v1.17h-1zM5 174.56h1v1.17h-1zM24 174.56h1v1.17h-1zM29 174.56h1v1.17h-1zM35 174.56h1v1.17h-1zM12 175.68h1v1.17h-1zM31 176.79h1v1.17h-1zM23 177.91h1v1.17h-1zM28 177.91h1v1.17h-1zM38 177.91h1v1.17h-1zM35 179.02h1v1.17h-1zM30 181.26h1v1.17h-1zM35 181.26h1v1.17h-1zM20 182.37h1v1.17h-1zM26 182.37h1v1.17h-1zM13 184.61h1v1.17h-1zM21 184.61h1v1.17h-1zM28 184.61h1v1.17h-1zM35 184.61h1v1.17h-1zM36 184.61h1v1.17h-1zM17 185.72h1v1.17h-1zM14 186.84h1v1.17h-1zM19 186.84h1v1.17h-1zM34 186.84h1v1.17h-1zM23 187.95h1v1.17h-1zM26 187.95h1v1.17h-1zM32 187.95h1v1.17h-1zM27 189.07h1v1.17h-1zM38 189.07h1v1.17h-1zM25 190.19h1v1.17h-1zM29 190.19h1v1.17h-1zM13 191.30h1v1.17h-1zM15 191.30h1v1.17h-1zM22 191.30h1v1.17h-1zM35 191.30h1v1.17h-1zM11 192.42h1v1.17h-1zM31 192.42h1v1.17h-1zM5 193.54h1v1.17h-1zM26 193.54h1v1.17h-1zM34 193.54h1v1.17h-1zM18 195.77h1v1.17h-1zM28 195.77h1v1.17h-1zM33 195.77h1v1.17h-1zM38 195.77h1v1.17h-1zM31 196.88h1v1.17h-1zM33 198.00h1v1.17h-1zM35 198.00h1v1.17h-1zM36 198.00h1v1.17h-1zM38 198.00h1v1.17h-1zM23 199.12h1v1.17h-1zM10 200.23h1v1.17h-1zM16 200.23h1v1.17h-1zM26 200.23h1v1.17h-1zM28 200.23h1v1.17h-1zM24 201.35h1v1.17h-1zM30 201.35h1v1.17h-1zM35 201.35h1v1.17h-1zM23 202.47h1v1.17h-1zM34 202.47h1v1.17h-1zM35 202.47h1v1.17h-1zM38 202.47h1v1.17h-1zM27 203.58h1v1.17h-1zM28 203.58h1v1.17h-1zM37 203.58h1v1.17h-1zM22 204.70h1v1.17h-1zM21 205.82h1v1.17h-1zM29 205.82h1v1.17h-1zM13 206.93h1v1.17h-1zM21 208.05h1v1.17h-1zM33 208.05h1v1.17h-1zM11 209.16h1v1.17h-1zM26 209.16h1v1.17h-1zM28 209.16h1v1.17h-1zM22 210.28h1v1.17h-1zM24 210.28h1v1.17h-1zM32 210.28h1v1.17h-1zM37 210.28h1v1.17h-1zM38 211.40h1v1.17h-1zM30 213.63h1v1.17h-1zM16 214.75h1v1.17h-1zM26 214.75h1v1.17h-1zM33 214.75h1v1.17h-1zM5 215.86h1v1.17h-1zM7 215.86h1v1.17h-1zM23 215.86h1v1.17h-1zM28 215.86h1v1.17h-1zM38 215.86h1v1.17h-1zM25 216.98h1v1.17h-1zM30 216.98h1v1.17h-1zM35 216.98h1v1.17h-1zM22 218.09h1v1.17h-1zM26 218.09h1v1.17h-1zM29 218.09h1v1.17h-1zM34 218.09h1v1.17h-1zM22 219.21h1v1.17h-1zM29 220.33h1v1.17h-1zM37 220.33h1v1.17h-1zM12 221.44h1v1.17h-1zM29 221.44h1v1.17h-1zM31 221.44h1v1.17h-1zM32 221.44h1v1.17h-1zM35 221.44h1v1.17h-1zM17 222.56h1v1.17h-1zM29 222.56h1v1.17h-1zM23 223.68h1v1.17h-1zM25 223.68h1v1.17h-1zM32 225.91h1v1.17h-1zM37 225.91h1v1.17h-1zM9 227.02h1v1.17h-1zM25 228.14h1v1.17h-1zM31 229.26h1v1.17h-1zM33 229.26h1v1.17h-1zM22 230.37h1v1.17h-1zM33 230.37h1v1.17h-1zM25 231.49h1v1.17h-1zM26 231.49h1v1.17h-1zM12 232.61h1v1.17h-1zM22 232.61h1v1.17h-1zM34 232.61h1v1.17h-1zM16 233.72h1v1.17h-1zM21 233.72h1v1.17h-1zM29 233.72h1v1.17h-1zM16 234.84h1v1.17h-1zM18 234.84h1v1.17h-1zM24 234.84h1v1.17h-1zM35 234.84h1v1.17h-1zM37 234.84h1v1.17h-1zM22 235.96h1v1.17h-1zM28 235.96h1v1.17h-1zM37 235.96h1v1.17h-1zM22 237.07h1v1.17h-1zM14 238.19h1v1.17h-1zM15 238.19h1v1.17h-1zM23 238.19h1v1.17h-1zM28 238.19h1v1.17h-1zM34 238.19h1v1.17h-1zM19 239.30h1v1.17h-1zM25 239.30h1v1.17h-1zM30 239.30h1v1.17h-1zM31 240.42h1v1.17h-1zM33 240.42h1v1.17h-1zM34 240.42h1v1.17h-1zM37 240.42h1v1.17h-1zM38 240.42h1v1.17h-1zM24 241.54h1v1.17h-1zM21 242.65h1v1.17h-1zM26 242.65h1v1.17h-1zM31 242.65h1v1.17h-1zM32 242.65h1v1.17h-1zM26 243.77h1v1.17h-1zM27 243.77h1v1.17h-1zM12 246.00h1v1.17h-1zM21 246.00h1v1.17h-1zM9 247.12h1v1.17h-1zM30 247.12h1v1.17h-1zM36 247.12h1v1.17h-1zM21 248.23h1v1.17h-1zM22 248.23h1v1.17h-1zM23 248.23h1v1.17h-1zM25 248.23h1v1.17h-1zM34 248.23h1v1.17h-1zM38 248.23h1v1.17h-1zM23 249.35h1v1.17h-1zM5 250.47h1v1.17h-1zM9 250.47h1v1.17h-1zM31 250.47h1v1.17h-1zM32 250.47h1v1.17h-1zM35 250.47h1v1.17h-1zM36 250.47h1v1.17h-1zM20 251.58h1v1.17h-1zM26 251.58h1v1.17h-1zM30 251.58h1v1.17h-1z"/><path fill="#f6f0ea" d="M6 1.12h1v1.17h-1zM13 1.12h1v1.17h-1zM0 2.24h1v1.17h-1zM35 2.24h1v1.17h-1zM14 3.37h1v1.17h-1zM30 3.37h1v1.17h-1zM10 4.49h1v1.17h-1zM18 4.49h1v1.17h-1zM18 5.61h1v1.17h-1zM11 8.98h1v1.17h-1zM6 10.10h1v1.17h-1zM15 10.10h1v1.17h-1zM3 13.46h1v1.17h-1zM5 13.46h1v1.17h-1zM18 13.46h1v1.17h-1zM16 15.71h1v1.17h-1zM37 16.83h1v1.17h-1zM13 17.95h1v1.17h-1zM18 19.07h1v1.17h-1zM6 21.32h1v1.17h-1zM10 22.44h1v1.17h-1zM18 22.44h1v1.17h-1zM5 24.68h1v1.17h-1zM20 26.93h1v1.17h-1zM29 26.93h1v1.17h-1zM12 29.17h1v1.17h-1zM17 29.17h1v1.17h-1zM16 30.29h1v1.17h-1zM24 30.29h1v1.17h-1zM6 32.54h1v1.17h-1zM1 33.66h1v1.17h-1zM13 39.27h1v1.17h-1zM5 40.39h1v1.17h-1zM8 40.39h1v1.17h-1zM17 40.39h1v1.17h-1zM38 41.51h1v1.17h-1zM16 42.64h1v1.17h-1zM34 42.64h1v1.17h-1zM38 44.88h1v1.17h-1zM38 46.00h1v1.17h-1zM11 47.12h1v1.17h-1zM15 48.25h1v1.17h-1zM17 49.37h1v1.17h-1zM7 50.49h1v1.17h-1zM15 50.49h1v1.17h-1zM17 52.73h1v1.17h-1zM11 56.10h1v1.17h-1zM16 56.10h1v1.17h-1zM11 60.59h1v1.17h-1zM9 61.71h1v1.17h-1zM10 61.71h1v1.17h-1zM13 61.71h1v1.17h-1zM29 62.83h1v1.17h-1zM38 62.83h1v1.17h-1zM7 63.95h1v1.17h-1zM8 63.95h1v1.17h-1zM13 65.08h1v1.17h-1zM17 65.08h1v1.17h-1zM13 66.20h1v1.17h-1zM14 66.20h1v1.17h-1zM12 67.32h1v1.17h-1zM11 68.44h1v1.17h-1zM1 69.56h1v1.17h-1zM15 69.56h1v1.17h-1zM16 69.56h1v1.17h-1zM7 70.69h1v1.17h-1zM10 71.81h1v1.17h-1zM1 75.17h1v1.17h-1zM7 75.17h1v1.17h-1zM18 75.17h1v1.17h-1zM20 76.30h1v1.17h-1zM31 76.30h1v1.17h-1zM8 77.42h1v1.17h-1zM33 77.42h1v1.17h-1zM24 79.66h1v1.17h-1zM6 81.91h1v1.17h-1zM20 81.91h1v1.17h-1zM6 83.03h1v1.17h-1zM35 84.15h1v1.17h-1zM6 85.27h1v1.17h-1zM17 85.27h1v1.17h-1zM30 85.27h1v1.17h-1zM4 88.64h1v1.17h-1zM6 89.76h1v1.17h-1zM17 92.00h1v1.17h-1zM14 95.37h1v1.17h-1zM20 95.37h1v1.17h-1zM22 96.49h1v1.17h-1zM13 97.61h1v1.17h-1zM16 97.61h1v1.17h-1zM11 98.74h1v1.17h-1zM4 102.10h1v1.17h-1zM14 102.10h1v1.17h-1zM11 103.22h1v1.17h-1zM35 103.22h1v1.17h-1zM21 104.35h1v1.17h-1zM16 105.47h1v1.17h-1zM18 105.47h1v1.17h-1zM5 106.59h1v1.17h-1zM12 106.59h1v1.17h-1zM20 106.59h1v1.17h-1zM18 107.71h1v1.17h-1zM6 108.83h1v1.17h-1zM9 108.83h1v1.17h-1zM10 108.83h1v1.17h-1zM13 109.96h1v1.17h-1zM15 109.96h1v1.17h-1zM18 109.96h1v1.17h-1zM18 111.08h1v1.17h-1zM21 111.08h1v1.17h-1zM13 113.60h1v1.18h-1zM17 113.60h1v1.18h-1zM24 113.60h1v1.18h-1zM31 113.60h1v1.18h-1zM25 114.73h1v1.18h-1zM10 115.86h1v1.18h-1zM12 118.13h1v1.18h-1zM23 118.13h1v1.18h-1zM12 119.26h1v1.18h-1zM15 119.26h1v1.18h-1zM1 120.39h1v1.18h-1zM17 120.39h1v1.18h-1zM37 120.39h1v1.18h-1zM1 121.53h1v1.18h-1zM9 121.53h1v1.18h-1zM14 121.53h1v1.18h-1zM13 122.66h1v1.18h-1zM16 122.66h1v1.18h-1zM18 122.66h1v1.18h-1zM37 122.66h1v1.18h-1zM2 123.79h1v1.18h-1zM28 123.79h1v1.18h-1zM6 124.92h1v1.18h-1zM29 124.92h1v1.18h-1zM1 126.05h1v1.18h-1zM12 126.05h1v1.18h-1zM13 126.05h1v1.18h-1zM7 127.19h1v1.18h-1zM24 127.19h1v1.18h-1zM1 128.32h1v1.18h-1zM18 128.32h1v1.18h-1zM26 128.32h1v1.18h-1zM9 129.45h1v1.18h-1zM16 129.45h1v1.18h-1zM7 130.58h1v1.18h-1zM20 130.58h1v1.18h-1zM17 131.72h1v1.18h-1zM20 131.72h1v1.18h-1zM2 132.85h1v1.18h-1zM7 133.98h1v1.18h-1zM15 133.98h1v1.18h-1zM0 135.11h1v1.18h-1zM25 135.11h1v1.18h-1zM8 136.25h1v1.18h-1zM37 136.25h1v1.18h-1zM9 137.38h1v1.18h-1zM17 137.38h1v1.18h-1zM30 137.38h1v1.18h-1zM15 138.51h1v1.18h-1zM13 139.64h1v1.18h-1zM30 140.77h1v1.18h-1zM0 141.91h1v1.18h-1zM20 141.91h1v1.18h-1zM26 141.91h1v1.18h-1zM28 141.91h1v1.18h-1zM15 143.04h1v1.18h-1zM25 143.04h1v1.18h-1zM26 143.04h1v1.18h-1zM27 143.04h1v1.18h-1zM1 144.17h1v1.18h-1zM6 144.17h1v1.18h-1zM22 144.17h1v1.18h-1zM24 144.17h1v1.18h-1zM27 144.17h1v1.18h-1zM30 144.17h1v1.18h-1zM31 144.17h1v1.18h-1zM34 144.17h1v1.18h-1zM17 146.44h1v1.18h-1zM22 146.44h1v1.18h-1zM28 146.44h1v1.18h-1zM37 146.44h1v1.18h-1zM34 150.00h1v1.17h-1zM6 151.12h1v1.17h-1zM12 151.12h1v1.17h-1zM17 152.23h1v1.17h-1zM21 152.23h1v1.17h-1zM37 152.23h1v1.17h-1zM38 152.23h1v1.17h-1zM8 153.35h1v1.17h-1zM21 153.35h1v1.17h-1zM24 155.58h1v1.17h-1zM28 155.58h1v1.17h-1zM29 155.58h1v1.17h-1zM25 156.70h1v1.17h-1zM5 157.81h1v1.17h-1zM20 157.81h1v1.17h-1zM22 157.81h1v1.17h-1zM25 157.81h1v1.17h-1zM26 157.81h1v1.17h-1zM11 158.93h1v1.17h-1zM15 158.93h1v1.17h-1zM29 158.93h1v1.17h-1zM8 160.05h1v1.17h-1zM5 161.16h1v1.17h-1zM18 161.16h1v1.17h-1zM20 161.16h1v1.17h-1zM27 163.40h1v1.17h-1zM5 164.51h1v1.17h-1zM9 165.63h1v1.17h-1zM22 165.63h1v1.17h-1zM13 166.74h1v1.17h-1zM12 167.86h1v1.17h-1zM14 167.86h1v1.17h-1zM22 168.98h1v1.17h-1zM26 168.98h1v1.17h-1zM30 168.98h1v1.17h-1zM33 168.98h1v1.17h-1zM31 170.09h1v1.17h-1zM14 171.21h1v1.17h-1zM24 171.21h1v1.17h-1zM25 171.21h1v1.17h-1zM36 171.21h1v1.17h-1zM17 172.33h1v1.17h-1zM5 173.44h1v1.17h-1zM16 173.44h1v1.17h-1zM30 174.56h1v1.17h-1zM32 174.56h1v1.17h-1zM34 174.56h1v1.17h-1zM15 175.68h1v1.17h-1zM27 175.68h1v1.17h-1zM15 176.79h1v1.17h-1zM21 176.79h1v1.17h-1zM29 176.79h1v1.17h-1zM21 177.91h1v1.17h-1zM22 177.91h1v1.17h-1zM21 179.02h1v1.17h-1zM36 179.02h1v1.17h-1zM10 180.14h1v1.17h-1zM38 180.14h1v1.17h-1zM15 181.26h1v1.17h-1zM19 181.26h1v1.17h-1zM33 181.26h1v1.17h-1zM21 182.37h1v1.17h-1zM12 183.49h1v1.17h-1zM14 183.49h1v1.17h-1zM28 183.49h1v1.17h-1zM35 183.49h1v1.17h-1zM38 183.49h1v1.17h-1zM23 184.61h1v1.17h-1zM8 185.72h1v1.17h-1zM29 185.72h1v1.17h-1zM31 185.72h1v1.17h-1zM12 186.84h1v1.17h-1zM22 186.84h1v1.17h-1zM25 186.84h1v1.17h-1zM27 187.95h1v1.17h-1zM13 189.07h1v1.17h-1zM8 190.19h1v1.17h-1zM13 190.19h1v1.17h-1zM20 190.19h1v1.17h-1zM18 191.30h1v1.17h-1zM24 191.30h1v1.17h-1zM21 192.42h1v1.17h-1zM32 192.42h1v1.17h-1zM18 193.54h1v1.17h-1zM8 194.65h1v1.17h-1zM11 194.65h1v1.17h-1zM20 194.65h1v1.17h-1zM21 194.65h1v1.17h-1zM25 194.65h1v1.17h-1zM26 194.65h1v1.17h-1zM33 194.65h1v1.17h-1zM15 195.77h1v1.17h-1zM22 195.77h1v1.17h-1zM26 198.00h1v1.17h-1zM30 198.00h1v1.17h-1zM24 199.12h1v1.17h-1zM13 200.23h1v1.17h-1zM17 200.23h1v1.17h-1zM33 200.23h1v1.17h-1zM8 201.35h1v1.17h-1zM36 202.47h1v1.17h-1zM12 204.70h1v1.17h-1zM24 204.70h1v1.17h-1zM33 204.70h1v1.17h-1zM7 205.82h1v1.17h-1zM22 205.82h1v1.17h-1zM38 205.82h1v1.17h-1zM10 206.93h1v1.17h-1zM18 206.93h1v1.17h-1zM9 208.05h1v1.17h-1zM16 208.05h1v1.17h-1zM24 208.05h1v1.17h-1zM5 209.16h1v1.17h-1zM14 209.16h1v1.17h-1zM23 209.16h1v1.17h-1zM29 209.16h1v1.17h-1zM10 211.40h1v1.17h-1zM11 211.40h1v1.17h-1zM21 211.40h1v1.17h-1zM7 212.51h1v1.17h-1zM28 212.51h1v1.17h-1zM20 213.63h1v1.17h-1zM28 213.63h1v1.17h-1zM34 213.63h1v1.17h-1zM11 214.75h1v1.17h-1zM28 214.75h1v1.17h-1zM35 214.75h1v1.17h-1zM10 215.86h1v1.17h-1zM24 215.86h1v1.17h-1zM26 216.98h1v1.17h-1zM24 218.09h1v1.17h-1zM9 219.21h1v1.17h-1zM11 219.21h1v1.17h-1zM19 219.21h1v1.17h-1zM24 219.21h1v1.17h-1zM19 220.33h1v1.17h-1zM27 220.33h1v1.17h-1zM33 220.33h1v1.17h-1zM9 221.44h1v1.17h-1zM21 221.44h1v1.17h-1zM26 221.44h1v1.17h-1zM18 222.56h1v1.17h-1zM27 222.56h1v1.17h-1zM30 222.56h1v1.17h-1zM17 223.68h1v1.17h-1zM26 223.68h1v1.17h-1zM30 223.68h1v1.17h-1zM20 224.79h1v1.17h-1zM22 224.79h1v1.17h-1zM24 224.79h1v1.17h-1zM28 224.79h1v1.17h-1zM35 224.79h1v1.17h-1zM38 224.79h1v1.17h-1zM23 227.02h1v1.17h-1zM38 227.02h1v1.17h-1zM17 228.14h1v1.17h-1zM18 228.14h1v1.17h-1zM32 228.14h1v1.17h-1zM34 228.14h1v1.17h-1zM17 229.26h1v1.17h-1zM30 229.26h1v1.17h-1zM34 229.26h1v1.17h-1zM5 231.49h1v1.17h-1zM11 231.49h1v1.17h-1zM24 231.49h1v1.17h-1zM10 232.61h1v1.17h-1zM32 232.61h1v1.17h-1zM37 233.72h1v1.17h-1zM5 237.07h1v1.17h-1zM6 237.07h1v1.17h-1zM9 237.07h1v1.17h-1zM5 238.19h1v1.17h-1zM21 238.19h1v1.17h-1zM37 238.19h1v1.17h-1zM11 241.54h1v1.17h-1zM16 241.54h1v1.17h-1zM23 241.54h1v1.17h-1zM33 242.65h1v1.17h-1zM28 243.77h1v1.17h-1zM23 244.89h1v1.17h-1zM24 244.89h1v1.17h-1zM26 244.89h1v1.17h-1zM34 244.89h1v1.17h-1zM33 246.00h1v1.17h-1zM34 246.00h1v1.17h-1zM7 249.35h1v1.17h-1zM33 249.35h1v1.17h-1zM25 250.47h1v1.17h-1zM8 251.58h1v1.17h-1zM12 251.58h1v1.17h-1zM32 251.58h1v1.17h-1zM36 251.58h1v1.17h-1z"/><path fill="#b4d2e4" d="M23 1.12h1v1.17h-1zM26 2.24h1v1.17h-1zM27 6.73h1v1.17h-1zM25 11.22h1v1.17h-1zM22 15.71h1v1.17h-1zM34 17.95h1v1.17h-1zM21 22.44h1v1.17h-1zM33 26.93h1v1.17h-1zM23 30.29h1v1.17h-1zM21 37.03h1v1.17h-1zM27 38.15h1v1.17h-1zM22 41.51h1v1.17h-1zM29 43.76h1v1.17h-1zM28 49.37h1v1.17h-1zM26 51.61h1v1.17h-1zM27 56.10h1v1.17h-1zM32 60.59h1v1.17h-1zM28 68.44h1v1.17h-1zM27 72.93h1v1.17h-1zM33 102.10h1v1.17h-1zM35 117.00h1v1.18h-1zM38 117.00h1v1.18h-1zM35 120.39h1v1.18h-1zM35 122.66h1v1.18h-1zM2 131.72h1v1.18h-1zM3 141.91h1v1.18h-1zM0 150.00h1v1.17h-1zM4 153.35h1v1.17h-1zM3 155.58h1v1.17h-1zM2 157.81h1v1.17h-1zM1 158.93h1v1.17h-1zM2 158.93h1v1.17h-1zM1 164.51h1v1.17h-1zM0 166.74h1v1.17h-1zM0 167.86h1v1.17h-1zM2 170.09h1v1.17h-1zM0 171.21h1v1.17h-1zM3 171.21h1v1.17h-1zM2 175.68h1v1.17h-1zM1 179.02h1v1.17h-1zM3 179.02h1v1.17h-1zM4 179.02h1v1.17h-1zM3 180.14h1v1.17h-1zM2 181.26h1v1.17h-1zM0 183.49h1v1.17h-1zM0 185.72h1v1.17h-1zM1 186.84h1v1.17h-1zM2 187.95h1v1.17h-1zM4 187.95h1v1.17h-1zM1 189.07h1v1.17h-1zM0 191.30h1v1.17h-1zM6 193.54h1v1.17h-1zM0 195.77h1v1.17h-1zM3 196.88h1v1.17h-1zM1 199.12h1v1.17h-1zM3 199.12h1v1.17h-1zM4 199.12h1v1.17h-1zM2 200.23h1v1.17h-1zM2 208.05h1v1.17h-1zM2 210.28h1v1.17h-1zM3 210.28h1v1.17h-1zM4 211.40h1v1.17h-1zM4 218.09h1v1.17h-1zM1 221.44h1v1.17h-1zM3 221.44h1v1.17h-1zM2 225.91h1v1.17h-1zM2 227.02h1v1.17h-1zM4 227.02h1v1.17h-1zM19 227.02h1v1.17h-1zM0 228.14h1v1.17h-1zM2 228.14h1v1.17h-1zM2 232.61h1v1.17h-1zM2 235.96h1v1.17h-1zM3 235.96h1v1.17h-1zM0 240.42h1v1.17h-1zM2 240.42h1v1.17h-1zM3 240.42h1v1.17h-1zM1 242.65h1v1.17h-1z"/><path fill="#cce4f0" d="M30 1.12h1v1.17h-1zM36 11.22h1v1.17h-1zM14 13.46h1v1.17h-1zM25 24.68h1v1.17h-1zM24 41.51h1v1.17h-1zM30 43.76h1v1.17h-1zM24 46.00h1v1.17h-1zM25 47.12h1v1.17h-1zM25 50.49h1v1.17h-1zM27 51.61h1v1.17h-1zM36 57.22h1v1.17h-1zM24 58.34h1v1.17h-1zM25 59.47h1v1.17h-1zM23 62.83h1v1.17h-1zM26 72.93h1v1.17h-1zM14 78.54h1v1.17h-1zM31 83.03h1v1.17h-1zM33 95.37h1v1.17h-1zM12 96.49h1v1.17h-1zM5 120.39h1v1.18h-1zM35 128.32h1v1.18h-1zM8 146.44h1v1.18h-1zM3 157.81h1v1.17h-1zM4 172.33h1v1.17h-1zM17 190.19h1v1.17h-1zM11 195.77h1v1.17h-1z"/><path fill="#f0f0f0" d="M35 1.12h1v1.17h-1zM36 1.12h1v1.17h-1zM34 10.10h1v1.17h-1zM35 14.59h1v1.17h-1zM21 24.68h1v1.17h-1zM15 25.81h1v1.17h-1zM25 31.42h1v1.17h-1zM10 41.51h1v1.17h-1zM5 42.64h1v1.17h-1zM25 48.25h1v1.17h-1zM12 49.37h1v1.17h-1zM24 50.49h1v1.17h-1zM13 57.22h1v1.17h-1zM14 57.22h1v1.17h-1zM11 63.95h1v1.17h-1zM15 70.69h1v1.17h-1zM25 72.93h1v1.17h-1zM1 74.05h1v1.17h-1zM17 74.05h1v1.17h-1zM15 80.78h1v1.17h-1zM37 81.91h1v1.17h-1zM38 86.39h1v1.17h-1zM5 90.88h1v1.17h-1zM28 94.25h1v1.17h-1zM35 94.25h1v1.17h-1zM26 95.37h1v1.17h-1zM32 96.49h1v1.17h-1zM28 102.10h1v1.17h-1zM22 107.71h1v1.17h-1zM25 107.71h1v1.17h-1zM10 111.08h1v1.17h-1zM7 113.60h1v1.18h-1zM33 120.39h1v1.18h-1zM17 121.53h1v1.18h-1zM36 123.79h1v1.18h-1zM28 129.45h1v1.18h-1zM13 135.11h1v1.18h-1zM35 141.91h1v1.18h-1zM9 143.04h1v1.18h-1zM29 146.44h1v1.18h-1zM19 152.23h1v1.17h-1zM2 154.47h1v1.17h-1zM6 156.70h1v1.17h-1zM17 160.05h1v1.17h-1zM20 160.05h1v1.17h-1zM37 160.05h1v1.17h-1zM6 165.63h1v1.17h-1zM37 182.37h1v1.17h-1zM7 190.19h1v1.17h-1zM14 193.54h1v1.17h-1zM6 203.58h1v1.17h-1zM20 219.21h1v1.17h-1zM15 231.49h1v1.17h-1zM5 232.61h1v1.17h-1zM9 232.61h1v1.17h-1zM34 233.72h1v1.17h-1zM11 235.96h1v1.17h-1zM7 238.19h1v1.17h-1zM16 238.19h1v1.17h-1zM37 247.12h1v1.17h-1zM9 248.23h1v1.17h-1z"/><path fill="#bad8e4" d="M21 2.24h1v1.17h-1zM5 6.73h1v1.17h-1zM24 7.85h1v1.17h-1zM33 10.10h1v1.17h-1zM36 21.32h1v1.17h-1zM31 29.17h1v1.17h-1zM23 34.78h1v1.17h-1zM32 35.90h1v1.17h-1zM5 37.03h1v1.17h-1zM23 54.98h1v1.17h-1zM26 59.47h1v1.17h-1zM37 60.59h1v1.17h-1zM36 71.81h1v1.17h-1zM22 74.05h1v1.17h-1zM30 84.15h1v1.17h-1zM30 86.39h1v1.17h-1zM19 117.00h1v1.18h-1zM3 129.45h1v1.18h-1zM3 151.12h1v1.17h-1zM4 162.28h1v1.17h-1zM1 168.98h1v1.17h-1zM0 172.33h1v1.17h-1zM14 179.02h1v1.17h-1zM2 182.37h1v1.17h-1zM0 216.98h1v1.17h-1zM1 222.56h1v1.17h-1zM2 233.72h1v1.17h-1zM4 239.30h1v1.17h-1zM3 249.35h1v1.17h-1z"/><path fill="#bad8ea" d="M27 2.24h1v1.17h-1zM31 4.49h1v1.17h-1zM21 7.85h1v1.17h-1zM34 7.85h1v1.17h-1zM22 13.46h1v1.17h-1zM32 23.56h1v1.17h-1zM15 26.93h1v1.17h-1zM23 26.93h1v1.17h-1zM22 33.66h1v1.17h-1zM26 34.78h1v1.17h-1zM21 40.39h1v1.17h-1zM34 40.39h1v1.17h-1zM32 41.51h1v1.17h-1zM31 43.76h1v1.17h-1zM24 47.12h1v1.17h-1zM32 48.25h1v1.17h-1zM29 49.37h1v1.17h-1zM33 49.37h1v1.17h-1zM35 49.37h1v1.17h-1zM37 49.37h1v1.17h-1zM36 51.61h1v1.17h-1zM25 52.73h1v1.17h-1zM26 52.73h1v1.17h-1zM29 52.73h1v1.17h-1zM31 56.10h1v1.17h-1zM26 58.34h1v1.17h-1zM32 58.34h1v1.17h-1zM22 61.71h1v1.17h-1zM32 63.95h1v1.17h-1zM25 65.08h1v1.17h-1zM30 65.08h1v1.17h-1zM33 66.20h1v1.17h-1zM25 75.17h1v1.17h-1zM22 80.78h1v1.17h-1zM36 84.15h1v1.17h-1zM13 88.64h1v1.17h-1zM23 102.10h1v1.17h-1zM27 106.59h1v1.17h-1zM1 113.60h1v1.18h-1zM8 115.86h1v1.18h-1zM5 126.05h1v1.18h-1zM5 127.19h1v1.18h-1zM3 135.11h1v1.18h-1zM5 136.25h1v1.18h-1zM3 138.51h1v1.18h-1zM10 139.64h1v1.18h-1zM19 155.58h1v1.17h-1zM1 157.81h1v1.17h-1zM2 162.28h1v1.17h-1zM3 162.28h1v1.17h-1zM1 174.56h1v1.17h-1zM4 174.56h1v1.17h-1zM0 176.79h1v1.17h-1zM3 177.91h1v1.17h-1zM2 180.14h1v1.17h-1zM19 180.14h1v1.17h-1zM0 181.26h1v1.17h-1zM3 181.26h1v1.17h-1zM0 184.61h1v1.17h-1zM4 184.61h1v1.17h-1zM1 190.19h1v1.17h-1zM1 193.54h1v1.17h-1zM0 196.88h1v1.17h-1zM2 202.47h1v1.17h-1zM2 203.58h1v1.17h-1zM0 208.05h1v1.17h-1zM3 209.16h1v1.17h-1zM4 210.28h1v1.17h-1zM1 218.09h1v1.17h-1zM2 219.21h1v1.17h-1zM1 223.68h1v1.17h-1zM4 225.91h1v1.17h-1zM3 233.72h1v1.17h-1zM0 235.96h1v1.17h-1zM3 237.07h1v1.17h-1zM0 238.19h1v1.17h-1zM19 238.19h1v1.17h-1zM0 242.65h1v1.17h-1zM12 244.89h1v1.17h-1z"/><path fill="#d8eaf0" d="M37 2.24h1v1.17h-1zM16 4.49h1v1.17h-1zM26 4.49h1v1.17h-1zM10 5.61h1v1.17h-1zM22 5.61h1v1.17h-1zM13 6.73h1v1.17h-1zM14 6.73h1v1.17h-1zM36 6.73h1v1.17h-1zM13 7.85h1v1.17h-1zM28 10.10h1v1.17h-1zM13 11.22h1v1.17h-1zM14 11.22h1v1.17h-1zM28 11.22h1v1.17h-1zM30 11.22h1v1.17h-1zM37 11.22h1v1.17h-1zM24 12.34h1v1.17h-1zM10 13.46h1v1.17h-1zM23 13.46h1v1.17h-1zM28 14.59h1v1.17h-1zM25 22.44h1v1.17h-1zM23 23.56h1v1.17h-1zM6 25.81h1v1.17h-1zM12 25.81h1v1.17h-1zM31 28.05h1v1.17h-1zM24 29.17h1v1.17h-1zM25 30.29h1v1.17h-1zM31 30.29h1v1.17h-1zM10 37.03h1v1.17h-1zM38 37.03h1v1.17h-1zM21 39.27h1v1.17h-1zM26 39.27h1v1.17h-1zM10 40.39h1v1.17h-1zM33 40.39h1v1.17h-1zM27 41.51h1v1.17h-1zM25 43.76h1v1.17h-1zM16 44.88h1v1.17h-1zM24 44.88h1v1.17h-1zM21 47.12h1v1.17h-1zM36 47.12h1v1.17h-1zM26 49.37h1v1.17h-1zM32 49.37h1v1.17h-1zM28 50.49h1v1.17h-1zM17 51.61h1v1.17h-1zM12 52.73h1v1.17h-1zM12 53.86h1v1.17h-1zM28 53.86h1v1.17h-1zM30 53.86h1v1.17h-1zM21 54.98h1v1.17h-1zM23 56.10h1v1.17h-1zM37 57.22h1v1.17h-1zM15 58.34h1v1.17h-1zM38 59.47h1v1.17h-1zM21 60.59h1v1.17h-1zM26 60.59h1v1.17h-1zM21 66.20h1v1.17h-1zM27 67.32h1v1.17h-1zM31 67.32h1v1.17h-1zM36 67.32h1v1.17h-1zM35 68.44h1v1.17h-1zM31 70.69h1v1.17h-1zM28 71.81h1v1.17h-1zM35 71.81h1v1.17h-1zM30 74.05h1v1.17h-1zM30 75.17h1v1.17h-1zM36 75.17h1v1.17h-1zM29 76.30h1v1.17h-1zM34 76.30h1v1.17h-1zM33 78.54h1v1.17h-1zM29 80.78h1v1.17h-1zM22 83.03h1v1.17h-1zM26 84.15h1v1.17h-1zM32 84.15h1v1.17h-1zM33 86.39h1v1.17h-1zM32 87.52h1v1.17h-1zM35 88.64h1v1.17h-1zM22 93.13h1v1.17h-1zM25 93.13h1v1.17h-1zM31 94.25h1v1.17h-1zM24 98.74h1v1.17h-1zM36 98.74h1v1.17h-1zM38 98.74h1v1.17h-1zM5 99.86h1v1.17h-1zM10 99.86h1v1.17h-1zM27 99.86h1v1.17h-1zM22 100.98h1v1.17h-1zM26 100.98h1v1.17h-1zM34 100.98h1v1.17h-1zM14 103.22h1v1.17h-1zM24 105.47h1v1.17h-1zM37 106.59h1v1.17h-1zM26 107.71h1v1.17h-1zM29 107.71h1v1.17h-1zM25 109.96h1v1.17h-1zM11 113.60h1v1.18h-1zM7 117.00h1v1.18h-1zM33 119.26h1v1.18h-1zM35 123.79h1v1.18h-1zM8 129.45h1v1.18h-1zM32 130.58h1v1.18h-1zM5 133.98h1v1.18h-1zM9 135.11h1v1.18h-1zM18 141.91h1v1.18h-1zM29 144.17h1v1.18h-1zM35 146.44h1v1.18h-1zM16 152.23h1v1.17h-1zM6 153.35h1v1.17h-1zM12 160.05h1v1.17h-1zM19 161.16h1v1.17h-1zM9 163.40h1v1.17h-1zM8 177.91h1v1.17h-1zM18 182.37h1v1.17h-1zM15 183.49h1v1.17h-1zM30 189.07h1v1.17h-1zM16 195.77h1v1.17h-1zM14 200.23h1v1.17h-1zM14 203.58h1v1.17h-1zM7 206.93h1v1.17h-1zM19 208.05h1v1.17h-1zM6 211.40h1v1.17h-1zM8 211.40h1v1.17h-1zM18 224.79h1v1.17h-1zM19 224.79h1v1.17h-1zM7 229.26h1v1.17h-1zM1 246.00h1v1.17h-1zM0 247.12h1v1.17h-1zM27 247.12h1v1.17h-1z"/><path fill="#f6c0ae" d="M2 3.37h1v1.17h-1zM9 5.61h1v1.17h-1zM11 10.10h1v1.17h-1zM11 17.95h1v1.17h-1zM0 29.17h1v1.17h-1zM3 29.17h1v1.17h-1zM4 29.17h1v1.17h-1zM0 30.29h1v1.17h-1zM4 33.66h1v1.17h-1zM20 33.66h1v1.17h-1zM2 38.15h1v1.17h-1zM4 41.51h1v1.17h-1zM2 44.88h1v1.17h-1zM0 47.12h1v1.17h-1zM9 48.25h1v1.17h-1zM4 52.73h1v1.17h-1zM2 53.86h1v1.17h-1zM20 57.22h1v1.17h-1zM2 60.59h1v1.17h-1zM1 66.20h1v1.17h-1zM4 68.44h1v1.17h-1zM2 70.69h1v1.17h-1zM4 74.05h1v1.17h-1zM20 77.42h1v1.17h-1zM1 80.78h1v1.17h-1zM9 83.03h1v1.17h-1zM1 89.76h1v1.17h-1zM2 94.25h1v1.17h-1zM21 119.26h1v1.18h-1zM21 121.53h1v1.18h-1zM24 130.58h1v1.18h-1zM25 130.58h1v1.18h-1zM22 136.25h1v1.18h-1zM17 153.35h1v1.17h-1zM10 154.47h1v1.17h-1zM10 158.93h1v1.17h-1zM26 171.21h1v1.17h-1zM31 187.95h1v1.17h-1zM36 189.07h1v1.17h-1zM30 210.28h1v1.17h-1zM23 225.91h1v1.17h-1zM22 233.72h1v1.17h-1zM33 237.07h1v1.17h-1zM35 242.65h1v1.17h-1zM38 243.77h1v1.17h-1zM38 247.12h1v1.17h-1zM30 248.23h1v1.17h-1zM29 250.47h1v1.17h-1z"/><path fill="#f6c0a8" d="M9 3.37h1v1.17h-1zM38 15.71h1v1.17h-1zM38 19.07h1v1.17h-1zM38 21.32h1v1.17h-1zM19 22.44h1v1.17h-1zM1 24.68h1v1.17h-1zM2 25.81h1v1.17h-1zM7 26.93h1v1.17h-1zM2 29.17h1v1.17h-1zM19 34.78h1v1.17h-1zM7 35.90h1v1.17h-1zM9 39.27h1v1.17h-1zM1 42.64h1v1.17h-1zM4 47.12h1v1.17h-1zM0 52.73h1v1.17h-1zM9 56.10h1v1.17h-1zM4 60.59h1v1.17h-1zM3 61.71h1v1.17h-1zM3 66.20h1v1.17h-1zM7 67.32h1v1.17h-1zM1 70.69h1v1.17h-1zM4 70.69h1v1.17h-1zM0 71.81h1v1.17h-1zM2 75.17h1v1.17h-1zM4 75.17h1v1.17h-1zM7 76.30h1v1.17h-1zM2 77.42h1v1.17h-1zM1 78.54h1v1.17h-1zM9 79.66h1v1.17h-1zM0 80.78h1v1.17h-1zM3 81.91h1v1.17h-1zM4 81.91h1v1.17h-1zM0 86.39h1v1.17h-1zM9 89.76h1v1.17h-1zM1 92.00h1v1.17h-1zM2 100.98h1v1.17h-1zM1 102.10h1v1.17h-1zM0 103.22h1v1.17h-1zM3 103.22h1v1.17h-1zM2 104.35h1v1.17h-1zM3 105.47h1v1.17h-1zM3 107.71h1v1.17h-1zM20 107.71h1v1.17h-1zM2 109.96h1v1.17h-1zM4 109.96h1v1.17h-1zM11 109.96h1v1.17h-1zM17 109.96h1v1.17h-1zM0 111.08h1v1.17h-1zM3 111.08h1v1.17h-1zM24 118.13h1v1.18h-1zM26 118.13h1v1.18h-1zM7 119.26h1v1.18h-1zM23 119.26h1v1.18h-1zM24 119.26h1v1.18h-1zM21 123.79h1v1.18h-1zM27 126.05h1v1.18h-1zM0 128.32h1v1.18h-1zM25 128.32h1v1.18h-1zM17 129.45h1v1.18h-1zM23 129.45h1v1.18h-1zM24 132.85h1v1.18h-1zM21 136.25h1v1.18h-1zM26 139.64h1v1.18h-1zM30 151.12h1v1.17h-1zM18 154.47h1v1.17h-1zM10 162.28h1v1.17h-1zM19 167.86h1v1.17h-1zM37 170.09h1v1.17h-1zM24 176.79h1v1.17h-1zM16 184.61h1v1.17h-1zM38 184.61h1v1.17h-1zM31 199.12h1v1.17h-1zM15 208.05h1v1.17h-1zM36 208.05h1v1.17h-1zM38 208.05h1v1.17h-1zM32 219.21h1v1.17h-1zM28 225.91h1v1.17h-1zM12 234.84h1v1.17h-1zM5 235.96h1v1.17h-1zM29 235.96h1v1.17h-1zM23 240.42h1v1.17h-1zM26 240.42h1v1.17h-1zM31 243.77h1v1.17h-1zM14 247.12h1v1.17h-1zM22 247.12h1v1.17h-1z"/><path fill="#f6d2c6" d="M8 4.49h1v1.17h-1zM3 6.73h1v1.17h-1zM1 11.22h1v1.17h-1zM8 13.46h1v1.17h-1zM11 15.71h1v1.17h-1zM2 16.83h1v1.17h-1zM3 19.07h1v1.17h-1zM4 19.07h1v1.17h-1zM7 21.32h1v1.17h-1zM0 22.44h1v1.17h-1zM3 23.56h1v1.17h-1zM4 23.56h1v1.17h-1zM4 25.81h1v1.17h-1zM8 37.03h1v1.17h-1zM19 37.03h1v1.17h-1zM19 38.15h1v1.17h-1zM0 39.27h1v1.17h-1zM4 42.64h1v1.17h-1zM11 43.76h1v1.17h-1zM4 48.25h1v1.17h-1zM9 51.61h1v1.17h-1zM2 56.10h1v1.17h-1zM7 65.08h1v1.17h-1zM7 71.81h1v1.17h-1zM19 78.54h1v1.17h-1zM0 79.66h1v1.17h-1zM20 83.03h1v1.17h-1zM20 87.52h1v1.17h-1zM20 90.88h1v1.17h-1zM0 95.37h1v1.17h-1zM7 95.37h1v1.17h-1zM2 97.61h1v1.17h-1zM7 99.86h1v1.17h-1zM1 100.98h1v1.17h-1zM7 105.47h1v1.17h-1zM20 105.47h1v1.17h-1zM2 106.59h1v1.17h-1zM38 109.96h1v1.17h-1zM20 118.13h1v1.18h-1zM27 118.13h1v1.18h-1zM37 121.53h1v1.18h-1zM22 123.79h1v1.18h-1zM21 124.92h1v1.18h-1zM34 124.92h1v1.18h-1zM24 128.32h1v1.18h-1zM18 129.45h1v1.18h-1zM31 130.58h1v1.18h-1zM24 131.72h1v1.18h-1zM16 133.98h1v1.18h-1zM26 133.98h1v1.18h-1zM12 136.25h1v1.18h-1zM34 137.38h1v1.18h-1zM27 138.51h1v1.18h-1zM22 140.77h1v1.18h-1zM25 144.17h1v1.18h-1zM0 146.44h1v1.18h-1zM37 147.57h1v1.18h-1zM29 152.23h1v1.17h-1zM35 154.47h1v1.17h-1zM13 156.70h1v1.17h-1zM23 162.28h1v1.17h-1zM32 162.28h1v1.17h-1zM38 166.74h1v1.17h-1zM29 167.86h1v1.17h-1zM34 168.98h1v1.17h-1zM20 175.68h1v1.17h-1zM11 179.02h1v1.17h-1zM13 181.26h1v1.17h-1zM25 181.26h1v1.17h-1zM31 183.49h1v1.17h-1zM26 184.61h1v1.17h-1zM29 184.61h1v1.17h-1zM34 184.61h1v1.17h-1zM11 187.95h1v1.17h-1zM8 195.77h1v1.17h-1zM37 195.77h1v1.17h-1zM37 200.23h1v1.17h-1zM31 201.35h1v1.17h-1zM17 204.70h1v1.17h-1zM20 206.93h1v1.17h-1zM32 208.05h1v1.17h-1zM30 214.75h1v1.17h-1zM22 215.86h1v1.17h-1zM23 218.09h1v1.17h-1zM38 218.09h1v1.17h-1zM21 219.21h1v1.17h-1zM37 219.21h1v1.17h-1zM38 219.21h1v1.17h-1zM38 220.33h1v1.17h-1zM31 223.68h1v1.17h-1zM21 228.14h1v1.17h-1zM7 234.84h1v1.17h-1zM38 234.84h1v1.17h-1zM24 235.96h1v1.17h-1zM25 235.96h1v1.17h-1zM35 235.96h1v1.17h-1zM12 239.30h1v1.17h-1zM37 239.30h1v1.17h-1zM18 242.65h1v1.17h-1zM5 246.00h1v1.17h-1zM25 246.00h1v1.17h-1zM20 247.12h1v1.17h-1zM8 248.23h1v1.17h-1zM36 249.35h1v1.17h-1zM28 251.58h1v1.17h-1z"/><path fill="#b4d8e4" d="M34 5.61h1v1.17h-1zM30 7.85h1v1.17h-1zM37 7.85h1v1.17h-1zM32 8.98h1v1.17h-1zM27 10.10h1v1.17h-1zM21 17.95h1v1.17h-1zM28 19.07h1v1.17h-1zM22 22.44h1v1.17h-1zM29 25.81h1v1.17h-1zM37 25.81h1v1.17h-1zM23 32.54h1v1.17h-1zM32 37.03h1v1.17h-1zM23 38.15h1v1.17h-1zM23 41.51h1v1.17h-1zM30 48.25h1v1.17h-1zM37 48.25h1v1.17h-1zM23 50.49h1v1.17h-1zM30 52.73h1v1.17h-1zM26 54.98h1v1.17h-1zM30 58.34h1v1.17h-1zM30 77.42h1v1.17h-1zM21 88.64h1v1.17h-1zM22 102.10h1v1.17h-1zM35 113.60h1v1.18h-1zM32 118.13h1v1.18h-1zM8 119.26h1v1.18h-1zM38 120.39h1v1.18h-1zM4 121.53h1v1.18h-1zM11 129.45h1v1.18h-1zM35 130.58h1v1.18h-1zM4 131.72h1v1.18h-1zM10 131.72h1v1.18h-1zM10 132.85h1v1.18h-1zM5 135.11h1v1.18h-1zM3 140.77h1v1.18h-1zM4 144.17h1v1.18h-1zM4 157.81h1v1.17h-1zM1 162.28h1v1.17h-1zM19 162.28h1v1.17h-1zM2 163.40h1v1.17h-1zM4 163.40h1v1.17h-1zM0 170.09h1v1.17h-1zM4 170.09h1v1.17h-1zM1 182.37h1v1.17h-1zM19 182.37h1v1.17h-1zM16 185.72h1v1.17h-1zM1 187.95h1v1.17h-1zM2 190.19h1v1.17h-1zM4 193.54h1v1.17h-1zM2 195.77h1v1.17h-1zM1 196.88h1v1.17h-1zM4 201.35h1v1.17h-1zM2 205.82h1v1.17h-1zM2 211.40h1v1.17h-1zM3 211.40h1v1.17h-1zM2 212.51h1v1.17h-1zM1 215.86h1v1.17h-1zM1 219.21h1v1.17h-1zM0 232.61h1v1.17h-1zM4 233.72h1v1.17h-1zM2 234.84h1v1.17h-1zM1 237.07h1v1.17h-1zM12 237.07h1v1.17h-1zM0 239.30h1v1.17h-1zM1 239.30h1v1.17h-1zM2 239.30h1v1.17h-1zM1 240.42h1v1.17h-1zM2 242.65h1v1.17h-1zM3 242.65h1v1.17h-1z"/><path fill="#f6ccba" d="M3 8.98h1v1.17h-1zM19 10.10h1v1.17h-1zM2 11.22h1v1.17h-1zM9 14.59h1v1.17h-1zM1 15.71h1v1.17h-1zM3 16.83h1v1.17h-1zM3 17.95h1v1.17h-1zM7 17.95h1v1.17h-1zM1 19.07h1v1.17h-1zM19 19.07h1v1.17h-1zM1 21.32h1v1.17h-1zM38 24.68h1v1.17h-1zM1 29.17h1v1.17h-1zM0 31.42h1v1.17h-1zM19 31.42h1v1.17h-1zM38 31.42h1v1.17h-1zM2 37.03h1v1.17h-1zM4 38.15h1v1.17h-1zM6 39.27h1v1.17h-1zM2 42.64h1v1.17h-1zM3 43.76h1v1.17h-1zM17 47.12h1v1.17h-1zM1 52.73h1v1.17h-1zM7 53.86h1v1.17h-1zM2 54.98h1v1.17h-1zM9 54.98h1v1.17h-1zM9 57.22h1v1.17h-1zM38 57.22h1v1.17h-1zM4 59.47h1v1.17h-1zM0 61.71h1v1.17h-1zM0 62.83h1v1.17h-1zM1 63.95h1v1.17h-1zM9 63.95h1v1.17h-1zM4 66.20h1v1.17h-1zM2 67.32h1v1.17h-1zM0 69.56h1v1.17h-1zM3 71.81h1v1.17h-1zM11 71.81h1v1.17h-1zM11 72.93h1v1.17h-1zM9 74.05h1v1.17h-1zM20 74.05h1v1.17h-1zM7 77.42h1v1.17h-1zM8 81.91h1v1.17h-1zM3 83.03h1v1.17h-1zM2 84.15h1v1.17h-1zM3 84.15h1v1.17h-1zM2 85.27h1v1.17h-1zM3 87.52h1v1.17h-1zM4 87.52h1v1.17h-1zM11 87.52h1v1.17h-1zM4 89.76h1v1.17h-1zM3 90.88h1v1.17h-1zM3 94.25h1v1.17h-1zM1 96.49h1v1.17h-1zM9 97.61h1v1.17h-1zM4 98.74h1v1.17h-1zM8 100.98h1v1.17h-1zM9 100.98h1v1.17h-1zM2 102.10h1v1.17h-1zM0 107.71h1v1.17h-1zM6 107.71h1v1.17h-1zM3 108.83h1v1.17h-1zM4 111.08h1v1.17h-1zM13 119.26h1v1.18h-1zM16 120.39h1v1.18h-1zM23 122.66h1v1.18h-1zM26 122.66h1v1.18h-1zM16 128.32h1v1.18h-1zM21 131.72h1v1.18h-1zM27 131.72h1v1.18h-1zM18 132.85h1v1.18h-1zM25 132.85h1v1.18h-1zM27 132.85h1v1.18h-1zM26 135.11h1v1.18h-1zM21 137.38h1v1.18h-1zM22 145.30h1v1.18h-1zM24 151.12h1v1.17h-1zM25 152.23h1v1.17h-1zM25 154.47h1v1.17h-1zM38 154.47h1v1.17h-1zM7 157.81h1v1.17h-1zM12 162.28h1v1.17h-1zM20 163.40h1v1.17h-1zM7 165.63h1v1.17h-1zM10 165.63h1v1.17h-1zM36 165.63h1v1.17h-1zM32 167.86h1v1.17h-1zM36 173.44h1v1.17h-1zM5 175.68h1v1.17h-1zM27 176.79h1v1.17h-1zM26 177.91h1v1.17h-1zM29 177.91h1v1.17h-1zM23 179.02h1v1.17h-1zM7 186.84h1v1.17h-1zM15 186.84h1v1.17h-1zM13 195.77h1v1.17h-1zM35 195.77h1v1.17h-1zM32 196.88h1v1.17h-1zM21 200.23h1v1.17h-1zM21 201.35h1v1.17h-1zM33 201.35h1v1.17h-1zM21 204.70h1v1.17h-1zM20 205.82h1v1.17h-1zM31 206.93h1v1.17h-1zM35 206.93h1v1.17h-1zM12 209.16h1v1.17h-1zM27 210.28h1v1.17h-1zM30 211.40h1v1.17h-1zM11 218.09h1v1.17h-1zM36 218.09h1v1.17h-1zM37 218.09h1v1.17h-1zM5 225.91h1v1.17h-1zM21 225.91h1v1.17h-1zM25 225.91h1v1.17h-1zM29 225.91h1v1.17h-1zM16 231.49h1v1.17h-1zM30 233.72h1v1.17h-1zM29 237.07h1v1.17h-1zM36 238.19h1v1.17h-1zM25 242.65h1v1.17h-1zM29 242.65h1v1.17h-1zM17 243.77h1v1.17h-1zM37 243.77h1v1.17h-1zM24 248.23h1v1.17h-1zM26 248.23h1v1.17h-1zM35 251.58h1v1.17h-1z"/><path fill="#d88a2a" d="M8 8.98h1v1.17h-1zM38 29.17h1v1.17h-1zM20 49.37h1v1.17h-1zM37 56.10h1v1.17h-1zM6 93.13h1v1.17h-1zM11 111.08h1v1.17h-1zM8 250.47h1v1.17h-1z"/><path fill="#f6b49c" d="M9 8.98h1v1.17h-1zM8 14.59h1v1.17h-1zM2 22.44h1v1.17h-1zM38 23.56h1v1.17h-1zM38 28.05h1v1.17h-1zM2 33.66h1v1.17h-1zM2 47.12h1v1.17h-1zM19 48.25h1v1.17h-1zM9 52.73h1v1.17h-1zM1 59.47h1v1.17h-1zM9 69.56h1v1.17h-1zM3 70.69h1v1.17h-1zM4 76.30h1v1.17h-1zM2 78.54h1v1.17h-1zM0 81.91h1v1.17h-1zM2 81.91h1v1.17h-1zM2 89.76h1v1.17h-1zM0 92.00h1v1.17h-1zM9 107.71h1v1.17h-1zM9 109.96h1v1.17h-1zM2 111.08h1v1.17h-1zM27 127.19h1v1.18h-1zM7 137.38h1v1.18h-1zM35 231.49h1v1.17h-1zM17 247.12h1v1.17h-1zM30 250.47h1v1.17h-1z"/><path fill="#c0deea" d="M25 8.98h1v1.17h-1zM25 12.34h1v1.17h-1zM24 16.83h1v1.17h-1zM28 16.83h1v1.17h-1zM24 26.93h1v1.17h-1zM30 26.93h1v1.17h-1zM37 26.93h1v1.17h-1zM22 39.27h1v1.17h-1zM22 40.39h1v1.17h-1zM22 46.00h1v1.17h-1zM35 51.61h1v1.17h-1zM5 54.98h1v1.17h-1zM38 54.98h1v1.17h-1zM12 56.10h1v1.17h-1zM30 59.47h1v1.17h-1zM26 69.56h1v1.17h-1zM22 72.93h1v1.17h-1zM15 75.17h1v1.17h-1zM30 78.54h1v1.17h-1zM27 79.66h1v1.17h-1zM27 87.52h1v1.17h-1zM28 98.74h1v1.17h-1zM35 104.35h1v1.17h-1zM5 114.73h1v1.18h-1zM3 122.66h1v1.18h-1zM4 128.32h1v1.18h-1zM38 140.77h1v1.18h-1zM1 151.12h1v1.17h-1zM0 218.09h1v1.17h-1zM9 229.26h1v1.17h-1zM18 248.23h1v1.17h-1z"/><path fill="#f6ccb4" d="M2 10.10h1v1.17h-1zM7 12.34h1v1.17h-1zM9 13.46h1v1.17h-1zM0 14.59h1v1.17h-1zM1 20.20h1v1.17h-1zM11 21.32h1v1.17h-1zM9 22.44h1v1.17h-1zM9 24.68h1v1.17h-1zM7 29.17h1v1.17h-1zM0 33.66h1v1.17h-1zM4 35.90h1v1.17h-1zM19 43.76h1v1.17h-1zM4 44.88h1v1.17h-1zM19 47.12h1v1.17h-1zM1 50.49h1v1.17h-1zM2 51.61h1v1.17h-1zM9 62.83h1v1.17h-1zM3 63.95h1v1.17h-1zM2 66.20h1v1.17h-1zM1 67.32h1v1.17h-1zM20 68.44h1v1.17h-1zM0 70.69h1v1.17h-1zM9 76.30h1v1.17h-1zM1 77.42h1v1.17h-1zM1 85.27h1v1.17h-1zM3 89.76h1v1.17h-1zM4 90.88h1v1.17h-1zM1 94.25h1v1.17h-1zM2 96.49h1v1.17h-1zM3 97.61h1v1.17h-1zM0 98.74h1v1.17h-1zM8 104.35h1v1.17h-1zM1 105.47h1v1.17h-1zM2 105.47h1v1.17h-1zM17 127.19h1v1.18h-1zM25 129.45h1v1.18h-1zM31 131.72h1v1.18h-1zM37 133.98h1v1.18h-1zM37 144.17h1v1.18h-1zM33 147.57h1v1.18h-1zM38 151.12h1v1.17h-1zM21 170.09h1v1.17h-1zM23 171.21h1v1.17h-1zM27 171.21h1v1.17h-1zM29 179.02h1v1.17h-1zM21 183.49h1v1.17h-1zM31 189.07h1v1.17h-1zM22 190.19h1v1.17h-1zM28 199.12h1v1.17h-1zM13 211.40h1v1.17h-1zM10 214.75h1v1.17h-1zM25 221.44h1v1.17h-1zM20 230.37h1v1.17h-1zM36 233.72h1v1.17h-1zM26 234.84h1v1.17h-1zM22 238.19h1v1.17h-1zM27 242.65h1v1.17h-1z"/><path fill="#f6c6b4" d="M8 10.10h1v1.17h-1zM2 13.46h1v1.17h-1zM7 13.46h1v1.17h-1zM2 14.59h1v1.17h-1zM38 14.59h1v1.17h-1zM7 16.83h1v1.17h-1zM38 17.95h1v1.17h-1zM0 19.07h1v1.17h-1zM3 20.20h1v1.17h-1zM2 21.32h1v1.17h-1zM4 21.32h1v1.17h-1zM3 22.44h1v1.17h-1zM11 22.44h1v1.17h-1zM19 24.68h1v1.17h-1zM38 25.81h1v1.17h-1zM3 26.93h1v1.17h-1zM1 28.05h1v1.17h-1zM1 30.29h1v1.17h-1zM2 30.29h1v1.17h-1zM9 30.29h1v1.17h-1zM11 30.29h1v1.17h-1zM1 34.78h1v1.17h-1zM0 35.90h1v1.17h-1zM19 35.90h1v1.17h-1zM19 39.27h1v1.17h-1zM2 41.51h1v1.17h-1zM0 43.76h1v1.17h-1zM9 43.76h1v1.17h-1zM3 44.88h1v1.17h-1zM20 44.88h1v1.17h-1zM0 46.00h1v1.17h-1zM2 50.49h1v1.17h-1zM4 50.49h1v1.17h-1zM20 50.49h1v1.17h-1zM2 52.73h1v1.17h-1zM3 52.73h1v1.17h-1zM4 54.98h1v1.17h-1zM19 59.47h1v1.17h-1zM20 59.47h1v1.17h-1zM3 60.59h1v1.17h-1zM9 60.59h1v1.17h-1zM20 60.59h1v1.17h-1zM1 61.71h1v1.17h-1zM9 66.20h1v1.17h-1zM1 68.44h1v1.17h-1zM2 68.44h1v1.17h-1zM17 68.44h1v1.17h-1zM3 69.56h1v1.17h-1zM19 75.17h1v1.17h-1zM11 78.54h1v1.17h-1zM2 80.78h1v1.17h-1zM9 80.78h1v1.17h-1zM19 80.78h1v1.17h-1zM4 83.03h1v1.17h-1zM7 86.39h1v1.17h-1zM20 86.39h1v1.17h-1zM1 88.64h1v1.17h-1zM0 90.88h1v1.17h-1zM9 90.88h1v1.17h-1zM9 92.00h1v1.17h-1zM2 93.13h1v1.17h-1zM3 93.13h1v1.17h-1zM19 93.13h1v1.17h-1zM20 94.25h1v1.17h-1zM1 95.37h1v1.17h-1zM4 96.49h1v1.17h-1zM1 97.61h1v1.17h-1zM17 97.61h1v1.17h-1zM9 99.86h1v1.17h-1zM11 99.86h1v1.17h-1zM3 100.98h1v1.17h-1zM4 100.98h1v1.17h-1zM6 100.98h1v1.17h-1zM19 102.10h1v1.17h-1zM9 103.22h1v1.17h-1zM1 107.71h1v1.17h-1zM7 107.71h1v1.17h-1zM8 107.71h1v1.17h-1zM3 109.96h1v1.17h-1zM24 115.86h1v1.18h-1zM25 118.13h1v1.18h-1zM22 120.39h1v1.18h-1zM23 120.39h1v1.18h-1zM27 120.39h1v1.18h-1zM25 121.53h1v1.18h-1zM25 122.66h1v1.18h-1zM26 123.79h1v1.18h-1zM12 129.45h1v1.18h-1zM21 129.45h1v1.18h-1zM22 129.45h1v1.18h-1zM22 135.11h1v1.18h-1zM26 136.25h1v1.18h-1zM23 137.38h1v1.18h-1zM7 138.51h1v1.18h-1zM23 146.44h1v1.18h-1zM17 151.12h1v1.17h-1zM5 154.47h1v1.17h-1zM13 154.47h1v1.17h-1zM32 154.47h1v1.17h-1zM27 156.70h1v1.17h-1zM8 162.28h1v1.17h-1zM9 162.28h1v1.17h-1zM24 162.28h1v1.17h-1zM25 162.28h1v1.17h-1zM33 162.28h1v1.17h-1zM34 162.28h1v1.17h-1zM5 163.40h1v1.17h-1zM26 163.40h1v1.17h-1zM33 163.40h1v1.17h-1zM8 164.51h1v1.17h-1zM26 165.63h1v1.17h-1zM23 167.86h1v1.17h-1zM28 172.33h1v1.17h-1zM31 181.26h1v1.17h-1zM7 184.61h1v1.17h-1zM25 184.61h1v1.17h-1zM33 187.95h1v1.17h-1zM23 195.77h1v1.17h-1zM34 200.23h1v1.17h-1zM32 205.82h1v1.17h-1zM27 206.93h1v1.17h-1zM24 221.44h1v1.17h-1zM37 227.02h1v1.17h-1zM28 232.61h1v1.17h-1zM36 234.84h1v1.17h-1zM36 237.07h1v1.17h-1zM22 239.30h1v1.17h-1zM27 241.54h1v1.17h-1zM20 248.23h1v1.17h-1zM29 248.23h1v1.17h-1zM31 249.35h1v1.17h-1zM13 250.47h1v1.17h-1z"/><path fill="#f6c6ae" d="M9 11.22h1v1.17h-1zM8 20.20h1v1.17h-1zM9 20.20h1v1.17h-1zM19 20.20h1v1.17h-1zM0 28.05h1v1.17h-1zM20 29.17h1v1.17h-1zM9 34.78h1v1.17h-1zM2 39.27h1v1.17h-1zM7 39.27h1v1.17h-1zM2 40.39h1v1.17h-1zM19 40.39h1v1.17h-1zM1 44.88h1v1.17h-1zM3 49.37h1v1.17h-1zM3 50.49h1v1.17h-1zM19 56.10h1v1.17h-1zM4 58.34h1v1.17h-1zM9 65.08h1v1.17h-1zM19 71.81h1v1.17h-1zM4 79.66h1v1.17h-1zM0 89.76h1v1.17h-1zM31 115.86h1v1.18h-1zM25 119.26h1v1.18h-1zM31 121.53h1v1.18h-1zM0 133.98h1v1.18h-1zM37 139.64h1v1.18h-1zM7 151.12h1v1.17h-1zM20 152.23h1v1.17h-1zM37 157.81h1v1.17h-1zM18 204.70h1v1.17h-1zM26 232.61h1v1.17h-1zM34 241.54h1v1.17h-1zM16 242.65h1v1.17h-1zM28 250.47h1v1.17h-1z"/><path fill="#aed2e4" d="M26 11.22h1v1.17h-1zM26 20.20h1v1.17h-1zM37 23.56h1v1.17h-1zM23 31.42h1v1.17h-1zM25 38.15h1v1.17h-1zM31 38.15h1v1.17h-1zM26 48.25h1v1.17h-1zM23 68.44h1v1.17h-1zM32 113.60h1v1.18h-1zM8 118.13h1v1.18h-1zM38 119.26h1v1.18h-1zM3 120.39h1v1.18h-1zM10 123.79h1v1.18h-1zM3 126.05h1v1.18h-1zM38 126.05h1v1.18h-1zM3 128.32h1v1.18h-1zM11 130.58h1v1.18h-1zM38 133.98h1v1.18h-1zM4 135.11h1v1.18h-1zM11 137.38h1v1.18h-1zM4 138.51h1v1.18h-1zM3 139.64h1v1.18h-1zM4 139.64h1v1.18h-1zM38 139.64h1v1.18h-1zM11 145.30h1v1.18h-1zM4 154.47h1v1.17h-1zM0 155.58h1v1.17h-1zM0 160.05h1v1.17h-1zM16 160.05h1v1.17h-1zM2 161.16h1v1.17h-1zM1 163.40h1v1.17h-1zM4 164.51h1v1.17h-1zM3 165.63h1v1.17h-1zM1 166.74h1v1.17h-1zM4 166.74h1v1.17h-1zM4 167.86h1v1.17h-1zM4 168.98h1v1.17h-1zM1 170.09h1v1.17h-1zM3 170.09h1v1.17h-1zM4 171.21h1v1.17h-1zM3 172.33h1v1.17h-1zM3 174.56h1v1.17h-1zM2 176.79h1v1.17h-1zM2 177.91h1v1.17h-1zM2 179.02h1v1.17h-1zM4 182.37h1v1.17h-1zM3 190.19h1v1.17h-1zM0 192.42h1v1.17h-1zM4 194.65h1v1.17h-1zM2 196.88h1v1.17h-1zM0 198.00h1v1.17h-1zM0 201.35h1v1.17h-1zM0 203.58h1v1.17h-1zM2 204.70h1v1.17h-1zM3 204.70h1v1.17h-1zM4 204.70h1v1.17h-1zM3 205.82h1v1.17h-1zM4 206.93h1v1.17h-1zM4 208.05h1v1.17h-1zM0 210.28h1v1.17h-1zM1 211.40h1v1.17h-1zM0 212.51h1v1.17h-1zM0 213.63h1v1.17h-1zM3 213.63h1v1.17h-1zM0 214.75h1v1.17h-1zM1 214.75h1v1.17h-1zM3 224.79h1v1.17h-1zM0 225.91h1v1.17h-1zM4 228.14h1v1.17h-1zM2 229.26h1v1.17h-1zM2 231.49h1v1.17h-1zM3 234.84h1v1.17h-1zM1 235.96h1v1.17h-1zM2 237.07h1v1.17h-1zM3 238.19h1v1.17h-1zM0 241.54h1v1.17h-1zM1 241.54h1v1.17h-1z"/><path fill="#f6a88a" d="M1 14.59h1v1.17h-1zM19 29.17h1v1.17h-1zM3 35.90h1v1.17h-1zM3 46.00h1v1.17h-1zM20 70.69h1v1.17h-1z"/><path fill="#f6d8d2" d="M8 15.71h1v1.17h-1zM17 20.20h1v1.17h-1zM17 28.05h1v1.17h-1zM3 31.42h1v1.17h-1zM1 51.61h1v1.17h-1zM3 65.08h1v1.17h-1zM4 80.78h1v1.17h-1zM9 118.13h1v1.18h-1zM13 118.13h1v1.18h-1zM0 120.39h1v1.18h-1zM17 126.05h1v1.18h-1zM16 127.19h1v1.18h-1zM25 137.38h1v1.18h-1zM35 165.63h1v1.17h-1zM31 171.21h1v1.17h-1zM21 174.56h1v1.17h-1zM20 176.79h1v1.17h-1zM31 179.02h1v1.17h-1zM26 181.26h1v1.17h-1zM12 205.82h1v1.17h-1zM14 214.75h1v1.17h-1zM26 228.14h1v1.17h-1zM22 231.49h1v1.17h-1zM20 234.84h1v1.17h-1z"/><path fill="#a8cce4" d="M21 16.83h1v1.17h-1zM34 35.90h1v1.17h-1zM22 38.15h1v1.17h-1zM22 43.76h1v1.17h-1zM32 51.61h1v1.17h-1zM25 56.10h1v1.17h-1zM32 56.10h1v1.17h-1zM36 59.47h1v1.17h-1zM21 74.05h1v1.17h-1zM22 85.27h1v1.17h-1zM22 88.64h1v1.17h-1zM8 114.73h1v1.18h-1zM38 118.13h1v1.18h-1zM35 119.26h1v1.18h-1zM4 120.39h1v1.18h-1zM10 121.53h1v1.18h-1zM10 122.66h1v1.18h-1zM4 124.92h1v1.18h-1zM4 127.19h1v1.18h-1zM10 128.32h1v1.18h-1zM4 132.85h1v1.18h-1zM11 132.85h1v1.18h-1zM38 138.51h1v1.18h-1zM11 139.64h1v1.18h-1zM4 141.91h1v1.18h-1zM1 150.00h1v1.17h-1zM4 151.12h1v1.17h-1zM1 152.23h1v1.17h-1zM4 155.58h1v1.17h-1zM3 158.93h1v1.17h-1zM19 160.05h1v1.17h-1zM0 161.16h1v1.17h-1zM3 161.16h1v1.17h-1zM0 164.51h1v1.17h-1zM2 166.74h1v1.17h-1zM3 166.74h1v1.17h-1zM2 168.98h1v1.17h-1zM1 171.21h1v1.17h-1zM2 174.56h1v1.17h-1zM1 177.91h1v1.17h-1zM0 180.14h1v1.17h-1zM4 181.26h1v1.17h-1zM0 182.37h1v1.17h-1zM3 182.37h1v1.17h-1zM3 183.49h1v1.17h-1zM4 183.49h1v1.17h-1zM3 184.61h1v1.17h-1zM2 186.84h1v1.17h-1zM3 186.84h1v1.17h-1zM0 187.95h1v1.17h-1zM2 189.07h1v1.17h-1zM4 189.07h1v1.17h-1zM0 190.19h1v1.17h-1zM1 192.42h1v1.17h-1zM2 193.54h1v1.17h-1zM3 195.77h1v1.17h-1zM4 196.88h1v1.17h-1zM4 198.00h1v1.17h-1zM1 200.23h1v1.17h-1zM1 203.58h1v1.17h-1zM1 205.82h1v1.17h-1zM0 206.93h1v1.17h-1zM1 209.16h1v1.17h-1zM2 209.16h1v1.17h-1zM1 213.63h1v1.17h-1zM0 219.21h1v1.17h-1zM3 219.21h1v1.17h-1zM4 219.21h1v1.17h-1zM0 220.33h1v1.17h-1zM1 220.33h1v1.17h-1zM4 223.68h1v1.17h-1zM4 224.79h1v1.17h-1zM3 227.02h1v1.17h-1zM1 230.37h1v1.17h-1zM2 230.37h1v1.17h-1zM8 230.37h1v1.17h-1zM1 232.61h1v1.17h-1zM3 232.61h1v1.17h-1zM4 235.96h1v1.17h-1zM4 238.19h1v1.17h-1zM6 242.65h1v1.17h-1z"/><path fill="#a8d2e4" d="M22 16.83h1v1.17h-1zM22 28.05h1v1.17h-1zM26 32.54h1v1.17h-1zM30 49.37h1v1.17h-1zM3 131.72h1v1.18h-1zM2 156.70h1v1.17h-1zM0 157.81h1v1.17h-1zM3 164.51h1v1.17h-1zM0 165.63h1v1.17h-1zM2 172.33h1v1.17h-1zM3 175.68h1v1.17h-1zM1 180.14h1v1.17h-1zM2 201.35h1v1.17h-1zM3 201.35h1v1.17h-1zM4 203.58h1v1.17h-1zM2 213.63h1v1.17h-1zM4 215.86h1v1.17h-1z"/><path fill="#f6ae96" d="M4 17.95h1v1.17h-1zM9 47.12h1v1.17h-1z"/><path fill="#f6a890" d="M9 17.95h1v1.17h-1zM35 248.23h1v1.17h-1z"/><path fill="#f6a284" d="M38 20.20h1v1.17h-1zM4 57.22h1v1.17h-1z"/><path fill="#f6ae90" d="M3 21.32h1v1.17h-1zM2 28.05h1v1.17h-1zM3 34.78h1v1.17h-1zM2 35.90h1v1.17h-1zM9 41.51h1v1.17h-1zM1 57.22h1v1.17h-1zM2 71.81h1v1.17h-1zM2 72.93h1v1.17h-1zM3 77.42h1v1.17h-1zM19 77.42h1v1.17h-1zM2 79.66h1v1.17h-1zM2 83.03h1v1.17h-1zM2 90.88h1v1.17h-1z"/><path fill="#f6b496" d="M38 22.44h1v1.17h-1zM9 29.17h1v1.17h-1zM1 37.03h1v1.17h-1zM1 48.25h1v1.17h-1zM1 58.34h1v1.17h-1zM4 62.83h1v1.17h-1zM20 66.20h1v1.17h-1zM9 67.32h1v1.17h-1zM1 76.30h1v1.17h-1zM1 79.66h1v1.17h-1zM3 80.78h1v1.17h-1zM27 129.45h1v1.18h-1zM37 242.65h1v1.17h-1z"/><path fill="#f6baa2" d="M0 23.56h1v1.17h-1zM1 26.93h1v1.17h-1zM38 26.93h1v1.17h-1zM4 30.29h1v1.17h-1zM19 33.66h1v1.17h-1zM8 34.78h1v1.17h-1zM3 37.03h1v1.17h-1zM4 39.27h1v1.17h-1zM2 43.76h1v1.17h-1zM1 46.00h1v1.17h-1zM1 53.86h1v1.17h-1zM1 72.93h1v1.17h-1zM3 76.30h1v1.17h-1zM0 77.42h1v1.17h-1zM4 77.42h1v1.17h-1zM3 78.54h1v1.17h-1zM3 79.66h1v1.17h-1zM1 90.88h1v1.17h-1zM4 94.25h1v1.17h-1zM7 109.96h1v1.17h-1zM23 127.19h1v1.18h-1zM23 131.72h1v1.18h-1zM31 172.33h1v1.17h-1zM38 204.70h1v1.17h-1zM20 221.44h1v1.17h-1zM13 240.42h1v1.17h-1z"/><path fill="#f6a884" d="M4 24.68h1v1.17h-1zM4 28.05h1v1.17h-1zM1 35.90h1v1.17h-1z"/><path fill="#a2cce4" d="M23 28.05h1v1.17h-1zM26 28.05h1v1.17h-1zM21 34.78h1v1.17h-1zM23 39.27h1v1.17h-1zM28 41.51h1v1.17h-1zM21 51.61h1v1.17h-1zM28 51.61h1v1.17h-1zM21 53.86h1v1.17h-1zM29 54.98h1v1.17h-1zM33 63.95h1v1.17h-1zM22 99.86h1v1.17h-1zM4 123.79h1v1.18h-1zM3 124.92h1v1.18h-1zM10 124.92h1v1.18h-1zM10 127.19h1v1.18h-1zM35 127.19h1v1.18h-1zM3 132.85h1v1.18h-1zM3 133.98h1v1.18h-1zM10 144.17h1v1.18h-1zM10 147.57h1v1.18h-1zM1 160.05h1v1.17h-1zM2 160.05h1v1.17h-1zM2 164.51h1v1.17h-1zM1 165.63h1v1.17h-1zM4 165.63h1v1.17h-1zM1 167.86h1v1.17h-1zM0 173.44h1v1.17h-1zM1 173.44h1v1.17h-1zM0 174.56h1v1.17h-1zM0 175.68h1v1.17h-1zM5 180.14h1v1.17h-1zM1 181.26h1v1.17h-1zM2 191.30h1v1.17h-1zM4 192.42h1v1.17h-1zM3 193.54h1v1.17h-1zM1 194.65h1v1.17h-1zM2 194.65h1v1.17h-1zM3 198.00h1v1.17h-1zM2 199.12h1v1.17h-1zM3 200.23h1v1.17h-1zM1 201.35h1v1.17h-1zM1 202.47h1v1.17h-1zM2 206.93h1v1.17h-1zM0 211.40h1v1.17h-1zM1 212.51h1v1.17h-1zM3 212.51h1v1.17h-1zM4 214.75h1v1.17h-1zM0 215.86h1v1.17h-1zM2 216.98h1v1.17h-1zM3 216.98h1v1.17h-1zM3 218.09h1v1.17h-1zM4 220.33h1v1.17h-1zM2 221.44h1v1.17h-1zM4 221.44h1v1.17h-1zM2 222.56h1v1.17h-1zM2 223.68h1v1.17h-1zM3 223.68h1v1.17h-1zM2 224.79h1v1.17h-1zM3 225.91h1v1.17h-1zM3 229.26h1v1.17h-1zM4 230.37h1v1.17h-1zM1 233.72h1v1.17h-1zM4 237.07h1v1.17h-1zM2 238.19h1v1.17h-1zM3 239.30h1v1.17h-1z"/><path fill="#f0a27e" d="M4 37.03h1v1.17h-1zM2 76.30h1v1.17h-1z"/><path fill="#9cc6de" d="M30 38.15h1v1.17h-1zM11 122.66h1v1.18h-1zM38 131.72h1v1.18h-1zM4 140.77h1v1.18h-1zM11 146.44h1v1.18h-1zM3 160.05h1v1.17h-1zM0 179.02h1v1.17h-1zM3 185.72h1v1.17h-1zM0 189.07h1v1.17h-1zM0 200.23h1v1.17h-1zM3 203.58h1v1.17h-1zM1 216.98h1v1.17h-1zM1 229.26h1v1.17h-1zM3 230.37h1v1.17h-1zM4 241.54h1v1.17h-1z"/><path fill="#9ccce4" d="M29 40.39h1v1.17h-1zM32 117.00h1v1.18h-1zM10 129.45h1v1.18h-1zM10 138.51h1v1.18h-1zM3 143.04h1v1.18h-1zM3 144.17h1v1.18h-1zM2 155.58h1v1.17h-1zM3 156.70h1v1.17h-1zM4 158.93h1v1.17h-1zM0 163.40h1v1.17h-1zM0 168.98h1v1.17h-1zM1 175.68h1v1.17h-1zM4 177.91h1v1.17h-1zM4 186.84h1v1.17h-1zM4 190.19h1v1.17h-1zM4 191.30h1v1.17h-1zM4 200.23h1v1.17h-1zM3 202.47h1v1.17h-1zM0 204.70h1v1.17h-1zM4 212.51h1v1.17h-1zM2 214.75h1v1.17h-1zM0 221.44h1v1.17h-1zM0 223.68h1v1.17h-1zM0 224.79h1v1.17h-1zM0 231.49h1v1.17h-1zM4 240.42h1v1.17h-1z"/><path fill="#f6ba9c" d="M3 47.12h1v1.17h-1zM3 57.22h1v1.17h-1zM1 60.59h1v1.17h-1zM20 79.66h1v1.17h-1zM2 92.00h1v1.17h-1zM0 93.13h1v1.17h-1zM2 95.37h1v1.17h-1zM3 95.37h1v1.17h-1zM21 138.51h1v1.18h-1zM27 139.64h1v1.18h-1zM34 173.44h1v1.17h-1z"/><path fill="#f6f0e4" d="M19 69.56h1v1.17h-1zM17 103.22h1v1.17h-1zM4 104.35h1v1.17h-1zM5 107.71h1v1.17h-1zM0 147.57h1v1.18h-1zM33 161.16h1v1.17h-1zM38 241.54h1v1.17h-1z"/><path fill="#96c6de" d="M8 113.60h1v1.18h-1zM33 114.73h1v1.18h-1zM4 122.66h1v1.18h-1zM3 123.79h1v1.18h-1zM11 123.79h1v1.18h-1zM10 133.98h1v1.18h-1zM10 137.38h1v1.18h-1zM11 138.51h1v1.18h-1zM11 140.77h1v1.18h-1zM10 141.91h1v1.18h-1zM11 141.91h1v1.18h-1zM1 155.58h1v1.17h-1zM4 176.79h1v1.17h-1zM4 180.14h1v1.17h-1zM4 185.72h1v1.17h-1zM3 189.07h1v1.17h-1zM0 194.65h1v1.17h-1zM0 209.16h1v1.17h-1zM3 220.33h1v1.17h-1zM4 222.56h1v1.17h-1zM3 228.14h1v1.17h-1zM4 232.61h1v1.17h-1zM0 237.07h1v1.17h-1z"/><path fill="#90c0de" d="M11 121.53h1v1.18h-1zM3 130.58h1v1.18h-1zM10 130.58h1v1.18h-1zM10 135.11h1v1.18h-1zM3 137.38h1v1.18h-1zM4 143.04h1v1.18h-1zM11 144.17h1v1.18h-1zM0 156.70h1v1.17h-1zM3 173.44h1v1.17h-1zM0 202.47h1v1.17h-1zM3 214.75h1v1.17h-1zM0 222.56h1v1.17h-1zM1 227.02h1v1.17h-1zM0 230.37h1v1.17h-1z"/><path fill="#7ebad8" d="M11 124.92h1v1.18h-1z"/><path fill="#84bad8" d="M4 126.05h1v1.18h-1zM11 127.19h1v1.18h-1zM11 131.72h1v1.18h-1zM11 135.11h1v1.18h-1zM11 143.04h1v1.18h-1z"/><path fill="#8ac0de" d="M10 126.05h1v1.18h-1zM11 128.32h1v1.18h-1zM10 136.25h1v1.18h-1zM10 146.44h1v1.18h-1zM4 160.05h1v1.17h-1zM4 213.63h1v1.17h-1zM4 229.26h1v1.17h-1z"/><path fill="#9cc6e4" d="M11 126.05h1v1.18h-1zM1 161.16h1v1.17h-1zM4 161.16h1v1.17h-1zM3 168.98h1v1.17h-1zM2 183.49h1v1.17h-1zM2 185.72h1v1.17h-1zM1 191.30h1v1.17h-1zM3 215.86h1v1.17h-1zM3 222.56h1v1.17h-1zM0 227.02h1v1.17h-1zM0 229.26h1v1.17h-1z"/><path fill="#8ac0d8" d="M11 133.98h1v1.18h-1zM11 147.57h1v1.18h-1z"/><path fill="#8abad8" d="M10 140.77h1v1.18h-1z"/><path fill="#78b4d8" d="M10 143.04h1v1.18h-1zM10 145.30h1v1.18h-1z"/><path fill="#90c6de" d="M3 194.65h1v1.17h-1zM4 216.98h1v1.17h-1z"/><path fill="#f6baa8" d="M25 222.56h1v1.17h-1z"/></g></g>
<rect x="296.00" y="35.1" width="25.83" height="7.5" fill="#1c4f86"/>
<rect x="321.83" y="35.1" width="10.33" height="7.5" fill="#2aa5dd"/>
<rect x="332.17" y="35.1" width="5.17" height="7.5" fill="#b9b9bd"/>
<rect x="337.33" y="35.1" width="5.17" height="7.5" fill="#3aa845"/>
<rect x="342.50" y="35.1" width="5.17" height="7.5" fill="#1c4f86"/>
<rect x="347.67" y="35.1" width="10.33" height="7.5" fill="#c8102e"/>
<rect x="358.00" y="35.1" width="139.50" height="7.5" fill="#b9b9bd"/>
<path d="M298.6 35.1V31.2H303.8V35.1M314.1 35.1V31.5H319.2V35.1M308.9 35.1V31.0H316.7V31.5M301.2 31.2V30.3H312.8V31.0M324.4 35.1V30.8H329.6V35.1M339.9 35.1V30.5H345.1V35.1M334.8 35.1V28.1H342.5V30.5M327.0 30.8V27.0H338.6V28.1M303.4 30.3V25.4H334.4V27.0M350.2 35.1V30.8H355.4V35.1M360.6 35.1V31.0H365.8V35.1M376.1 35.1V31.3H381.2V35.1M370.9 35.1V30.8H378.7V31.3M363.2 31.0V29.5H374.8V30.8M352.8 30.8V27.6H369.0V29.5M386.4 35.1V31.0H391.6V35.1M396.8 35.1V30.9H401.9V35.1M389.0 31.0V29.6H399.3V30.9M407.1 35.1V31.2H412.2V35.1M417.4 35.1V31.0H422.6V35.1M409.7 31.2V29.8H420.0V31.0M394.2 29.6V26.9H414.8V29.8M427.8 35.1V31.1H432.9V35.1M443.2 35.1V31.4H448.4V35.1M438.1 35.1V30.7H445.8V31.4M430.3 31.1V29.5H442.0V30.7M453.6 35.1V31.0H458.8V35.1M463.9 35.1V31.2H469.1V35.1M456.2 31.0V29.9H466.5V31.2M474.2 35.1V30.8H479.4V35.1M489.8 35.1V31.5H494.9V35.1M484.6 35.1V31.1H492.3V31.5M476.8 30.8V29.4H488.5V31.1M461.3 29.9V28.2H482.6V29.4M436.1 29.5V27.5H472.0V28.2M396.0 26.9V27.3H454.1V27.5M362.0 27.6V26.7H460.8V27.3M319.3 25.4V23.4H417.2V26.7" fill="none" stroke="#8e8e8e" stroke-width="0.6"/>
<rect x="291.9" y="44.0" width="4.3" height="111.4" fill="#cfcfcf"/>
<path d="M296.2 95.8H295.4V96.9H296.2M296.2 153.8H295.6V154.9H296.2M296.2 91.3H295.4V92.5H296.2M296.2 74.6H295.3V75.7H296.2M296.2 141.5H295.4V142.6H296.2M296.2 150.4H295.8V151.6H296.2M296.2 100.3H295.4V101.4H296.2M296.2 82.4H295.5V83.5H296.2M296.2 119.2H295.3V120.3H296.2M296.2 60.1H295.4V61.2H296.2M296.2 78.0H295.7V79.1H296.2M296.2 66.8H295.4V67.9H296.2M296.2 62.3H295.5V63.5H296.2M296.2 112.5H295.9V113.6H296.2M296.2 98.0H296.0V99.1H296.2M296.2 121.4H295.9V122.6H296.2M296.2 88.0H296.0V89.1H296.2M296.2 54.5H295.8V55.7H296.2M296.2 105.8H295.6V106.9H296.2M296.2 45.6H295.7V46.7H296.2M296.2 137.1H296.0V138.2H296.2M296.2 108.1H295.9V109.2H296.2M296.2 50.1H295.7V51.2H296.2M296.2 52.3H295.8V53.4H296.2M296.2 71.3H295.7V72.4H296.2M296.2 115.9H295.7V117.0H296.2M296.2 80.2H295.3V81.3H296.2M296.2 57.9H295.6V59.0H296.2M296.2 129.3H295.8V130.4H296.2M296.2 131.5H296.0V132.6H296.2M296.2 139.3H295.3V140.4H296.2M296.2 64.6H295.4V65.7H296.2M296.2 127.0H295.8V128.1H296.2M296.2 124.8H295.6V125.9H296.2M296.2 69.0H295.4V70.1H296.2M296.2 147.1H295.6V148.2H296.2M296.2 93.6H295.3V94.7H296.2M296.2 143.7H295.8V144.9H296.2M296.2 47.8H295.3V49.0H296.2M296.2 85.8H295.7V86.9H296.2M296.2 133.7H295.5V134.8H296.2M296.2 103.6H295.6V104.7H296.2M296.2 110.3H295.6V111.4H296.2M295.8 144.3H295.0V146.0H296.2M296.2 135.9H295.0V137.6H296.0M295.8 129.8H295.6V132.0H296.0M296.0 88.5H295.5V90.2H296.2M295.9 113.1H295.4V114.8H296.2M295.9 122.0H295.4V123.7H296.2M295.8 52.9H295.4V55.1H295.8M296.2 44.5H295.2V46.2H295.7M296.2 84.6H295.1V86.3H295.7M295.7 71.8H295.0V73.5H296.2M296.2 76.8H295.3V78.5H295.7M296.2 149.3H294.9V151.0H295.8M295.6 106.4H295.2V108.6H295.9M296.2 102.5H294.9V104.2H295.6M295.7 116.4H295.3V118.1H296.2M296.2 152.7H294.7V154.3H295.6M295.4 96.4H295.2V98.6H296.0M295.4 60.7H294.6V62.9H295.5M295.8 127.6H294.8V130.9H295.6M296.2 56.8H294.9V58.4H295.6M295.3 48.4H295.1V50.6H295.7M295.4 113.9H294.7V117.3H295.3M295.4 65.1H294.6V67.4H295.4M295.5 89.4H294.7V91.9H295.4M295.4 122.8H294.5V125.3H295.6M295.2 107.5H294.8V110.9H295.6M295.3 80.7H294.6V83.0H295.5M295.3 139.8H295.1V142.1H295.4M295.2 97.5H294.7V100.8H295.4M295.1 49.5H294.2V54.0H295.4M295.5 134.3H294.8V136.8H295.0M295.1 141.0H294.5V145.1H295.0M294.7 115.6H294.4V119.8H295.3M295.4 69.6H294.6V72.7H295.0M295.3 75.2H294.4V77.7H295.3M294.8 129.3H294.5V135.5H294.8M295.3 94.1H294.0V99.1H294.7M294.9 103.3H294.3V109.2H294.8M294.9 150.2H293.9V153.5H294.7M294.9 57.6H294.2V61.8H294.6M294.6 81.9H293.9V85.5H295.1M294.5 124.1H293.7V132.4H294.5M294.3 106.3H293.7V117.7H294.4M295.2 45.3H293.3V51.7H294.2M294.6 66.2H293.8V71.1H294.6M293.8 68.7H292.9V76.4H294.4M294.5 143.1H293.9V147.7H295.6M293.9 145.4H293.6V151.8H293.9M293.9 83.7H293.1V90.6H294.7M293.7 112.0H292.9V128.2H293.7M293.1 87.2H292.5V96.6H294.0M293.3 48.5H292.8V59.7H294.2M292.9 120.1H292.3V148.6H293.6M292.9 72.6H292.3V91.9H292.5M292.3 82.2H291.4V134.3H292.3M292.8 54.1H290.7V108.3H291.4" stroke="#5a5a5a" stroke-width="0.45" fill="none"/>
<rect x="291.0" y="157.5" width="5.2" height="34.3" fill="#cfcfcf"/>
<path d="M296.2 181.3H295.8V182.4H296.2M296.2 189.1H295.1V190.2H296.2M296.2 168.0H294.9V169.1H296.2M296.2 159.1H294.7V160.2H296.2M296.2 172.4H294.6V173.5H296.2M296.2 185.8H295.5V186.9H296.2M296.2 161.3H295.1V162.4H296.2M296.2 174.7H294.6V175.8H296.2M296.2 163.6H295.3V164.7H296.2M296.2 179.1H294.7V180.2H296.2M296.2 170.2H295.0V171.3H296.2M296.2 165.8H294.9V166.9H296.2M296.2 183.5H295.0V184.6H296.2M296.2 176.9H295.7V178.0H296.2M295.1 161.9H293.7V164.1H295.3M295.0 184.1H293.9V186.3H295.5M294.9 168.5H294.0V170.8H295.0M295.1 189.6H293.8V191.3H296.2M295.7 177.4H293.5V179.6H294.7M296.2 158.0H294.3V159.7H294.7M294.6 173.0H293.0V175.2H294.6M294.9 166.3H293.5V169.7H294.0M293.9 185.2H293.6V188.0H296.2M293.6 186.6H292.9V190.5H293.8M294.3 158.8H293.1V163.0H293.7M293.5 178.5H292.3V181.9H295.8M293.5 168.0H292.2V174.1H293.0M292.3 180.2H291.7V188.5H292.9M292.2 171.0H290.2V184.4H291.7M293.1 160.9H289.8V177.7H290.2" stroke="#5a5a5a" stroke-width="0.45" fill="none"/>
<rect x="291.8" y="193.8" width="4.4" height="102.4" fill="#cfcfcf"/>
<path d="M296.2 257.8H295.9V258.9H296.2M296.2 222.2H295.3V223.3H296.2M296.2 240.0H295.7V241.1H296.2M296.2 218.8H295.7V219.9H296.2M296.2 208.8H295.4V209.9H296.2M296.2 282.3H295.3V283.4H296.2M296.2 263.4H295.7V264.5H296.2M296.2 215.5H295.2V216.6H296.2M296.2 287.9H295.2V289.0H296.2M296.2 237.8H295.1V238.9H296.2M296.2 292.4H295.9V293.5H296.2M296.2 245.6H295.7V246.7H296.2M296.2 266.7H295.7V267.8H296.2M296.2 275.6H295.4V276.8H296.2M296.2 247.8H295.9V248.9H296.2M296.2 212.1H295.2V213.2H296.2M296.2 204.3H295.3V205.4H296.2M296.2 235.5H295.9V236.6H296.2M296.2 284.6H295.9V285.7H296.2M296.2 290.1H295.7V291.2H296.2M296.2 254.5H295.6V255.6H296.2M296.2 227.7H295.7V228.8H296.2M296.2 279.0H295.2V280.1H296.2M296.2 251.1H295.1V252.2H296.2M296.2 272.3H295.9V273.4H296.2M296.2 261.2H295.8V262.3H296.2M296.2 231.1H295.7V232.2H296.2M296.2 196.5H295.5V197.6H296.2M296.2 225.5H295.3V226.6H296.2M296.2 199.9H295.9V201.0H296.2M296.2 206.6H295.5V207.7H296.2M296.2 294.6H295.1V295.7H296.2M296.2 194.3H296.0V195.4H296.2M296.2 270.1H295.7V271.2H296.2M296.2 202.1H296.0V203.2H296.2M296.2 233.3H295.6V234.4H296.2M296.2 243.3H295.3V244.4H296.2M295.9 272.9H295.6V274.5H296.2M295.9 285.1H295.1V286.8H296.2M296.2 230.0H294.8V231.6H295.7M295.9 200.4H295.3V202.7H296.0M296.2 217.7H295.0V219.4H295.7M296.2 253.4H294.8V255.0H295.6M295.9 258.4H295.2V260.0H296.2M295.7 240.5H295.2V242.2H296.2M295.9 248.3H295.3V250.0H296.2M295.7 267.3H295.3V269.0H296.2M295.7 270.6H295.4V273.7H295.6M295.7 263.9H295.1V265.6H296.2M295.6 233.9H295.1V236.1H295.9M296.0 194.9H295.2V197.1H295.5M295.7 290.7H295.3V292.9H295.9M295.3 243.9H294.9V246.1H295.7M295.4 209.3H294.5V211.0H296.2M296.2 281.2H294.5V282.9H295.3M296.2 224.4H294.3V226.1H295.3M295.4 276.2H294.6V277.9H296.2M295.3 204.9H295.1V207.1H295.5M296.2 214.4H294.9V216.0H295.2M296.2 221.0H295.0V222.7H295.3M295.2 259.2H294.1V261.7H295.8M295.3 268.1H294.8V272.2H295.4M295.2 196.0H294.6V198.8H296.2M295.2 288.5H294.9V291.8H295.3M294.9 215.2H294.1V218.5H295.0M295.1 238.3H294.8V241.4H295.2M295.3 201.5H294.0V206.0H295.1M295.3 249.2H294.3V251.7H295.1M294.8 230.8H293.9V235.0H295.1M295.1 285.9H294.1V290.1H294.9M294.8 270.1H294.1V277.0H294.6M295.2 279.5H294.2V282.0H294.5M294.8 239.8H294.1V245.0H294.9M294.5 210.2H293.5V212.7H295.2M294.8 254.2H293.7V256.7H296.2M295.0 221.9H294.0V225.2H294.3M294.2 280.8H293.1V288.0H294.1M295.7 228.3H293.2V232.9H293.9M294.1 242.4H293.2V250.4H294.3M295.1 264.8H293.8V273.6H294.1M294.1 216.9H293.0V223.6H294.0M294.1 260.5H293.1V269.2H293.8M294.6 197.4H293.2V203.8H294.0M293.7 255.4H292.7V264.8H293.1M293.2 200.6H292.7V211.4H293.5M292.7 206.0H292.4V220.2H293.0M293.2 230.6H292.1V246.4H293.2M293.1 284.4H292.3V295.1H295.1M292.1 238.5H291.8V260.1H292.7M292.4 213.1H291.6V249.3H291.8M291.6 231.2H290.6V289.8H292.3" stroke="#5a5a5a" stroke-width="0.45" fill="none"/>
<path d="M284.4 93.8H290.7M284.4 93.8V225.4H287.7M287.7 171.6V279.8H290.6M287.7 171.6H289.8M289.7 50V140" fill="none" stroke="#bdbdbd" stroke-width="0.7"/>
<rect x="498.25" y="44.0" width="2.3" height="252.4" fill="#8e8e90" stroke="#3e3e3e" stroke-width="0.65"/>
<path d="M497.9 155.6l2.9 1.4M497.9 157l2.9 -1.4M497.9 191.9l2.9 1.4M497.9 193.3l2.9 -1.4" stroke="#3e3e3e" stroke-width="0.5"/>
<text transform="translate(511.1,99.9) rotate(-90)" font-size="9.2" fill="#333" text-anchor="middle" textLength="32.6" lengthAdjust="spacingAndGlyphs">Cluster 1</text>
<text transform="translate(511.1,174.35) rotate(-90)" font-size="9.2" fill="#333" text-anchor="middle" textLength="32.6" lengthAdjust="spacingAndGlyphs">Cluster 2</text>
<text transform="translate(511.1,244.75) rotate(-90)" font-size="9.2" fill="#333" text-anchor="middle" textLength="32.6" lengthAdjust="spacingAndGlyphs">Cluster 3</text>
<text x="397.4" y="307.3" font-size="7.8" fill="#333" text-anchor="middle" textLength="63" lengthAdjust="spacingAndGlyphs">Log2 centered intensity</text>
<defs><linearGradient id="lg" x1="0" x2="1"><stop offset="0" stop-color="#ee6f4c"/><stop offset="0.25" stop-color="#f6a68a"/><stop offset="0.5" stop-color="#f8f4f2"/><stop offset="0.75" stop-color="#9ec7e1"/><stop offset="1" stop-color="#4a95c8"/></linearGradient></defs>
<rect x="377.8" y="310.2" width="39.3" height="7.4" fill="url(#lg)"/>
<rect x="381.6" y="310.2" width="2" height="7.4" fill="#d98a1e"/>
<path d="M379.3 310.2v1.3M379.3 316.3v1.3" stroke="#555" stroke-width="0.6"/>
<text x="379.3" y="324.6" font-size="7" fill="#333" text-anchor="middle">-4</text>
<path d="M388.3 310.2v1.3M388.3 316.3v1.3" stroke="#555" stroke-width="0.6"/>
<text x="388.3" y="324.6" font-size="7" fill="#333" text-anchor="middle">-2</text>
<path d="M397.4 310.2v1.3M397.4 316.3v1.3" stroke="#555" stroke-width="0.6"/>
<text x="397.4" y="324.6" font-size="7" fill="#333" text-anchor="middle">0</text>
<path d="M406.4 310.2v1.3M406.4 316.3v1.3" stroke="#555" stroke-width="0.6"/>
<text x="406.4" y="324.6" font-size="7" fill="#333" text-anchor="middle">2</text>
<path d="M415.4 310.2v1.3M415.4 316.3v1.3" stroke="#555" stroke-width="0.6"/>
<text x="415.4" y="324.6" font-size="7" fill="#333" text-anchor="middle">4</text>
<defs><clipPath id="cG"><ellipse cx="152.41" cy="428.53" rx="69.74" ry="24.12" transform="rotate(-42.11 152.41 428.53)"/></clipPath><clipPath id="cB"><ellipse cx="121.84" cy="449.46" rx="14.73" ry="49.19" transform="rotate(-53.72 121.84 449.46)"/></clipPath><clipPath id="cR"><ellipse cx="103.04" cy="469.04" rx="15.77" ry="36.03" transform="rotate(-102.13 103.04 469.04)"/></clipPath><clipPath id="cL"><ellipse cx="154.54" cy="458.81" rx="20.32" ry="21.83" transform="rotate(-168.70 154.54 458.81)"/></clipPath></defs>
<ellipse cx="152.41" cy="428.53" rx="69.74" ry="24.12" transform="rotate(-42.11 152.41 428.53)" fill="#82c87c"/>
<ellipse cx="121.84" cy="449.46" rx="14.73" ry="49.19" transform="rotate(-53.72 121.84 449.46)" fill="#8694b6"/>
<ellipse cx="103.04" cy="469.04" rx="15.77" ry="36.03" transform="rotate(-102.13 103.04 469.04)" fill="#d8766a"/>
<ellipse cx="154.54" cy="458.81" rx="20.32" ry="21.83" transform="rotate(-168.70 154.54 458.81)" fill="#7dc0ea"/>
<g clip-path="url(#cG)"><ellipse cx="121.84" cy="449.46" rx="14.73" ry="49.19" transform="rotate(-53.72 121.84 449.46)" fill="#4b8280"/></g>
<g clip-path="url(#cG)"><ellipse cx="103.04" cy="469.04" rx="15.77" ry="36.03" transform="rotate(-102.13 103.04 469.04)" fill="#b4704b"/></g>
<g clip-path="url(#cG)"><ellipse cx="154.54" cy="458.81" rx="20.32" ry="21.83" transform="rotate(-168.70 154.54 458.81)" fill="#52b87d"/></g>
<g clip-path="url(#cB)"><ellipse cx="103.04" cy="469.04" rx="15.77" ry="36.03" transform="rotate(-102.13 103.04 469.04)" fill="#76637a"/></g>
<g clip-path="url(#cB)"><ellipse cx="154.54" cy="458.81" rx="20.32" ry="21.83" transform="rotate(-168.70 154.54 458.81)" fill="#4b80ac"/></g>
<g clip-path="url(#cR)"><ellipse cx="154.54" cy="458.81" rx="20.32" ry="21.83" transform="rotate(-168.70 154.54 458.81)" fill="#b96e73"/></g>
<g clip-path="url(#cG)"><g clip-path="url(#cB)"><ellipse cx="103.04" cy="469.04" rx="15.77" ry="36.03" transform="rotate(-102.13 103.04 469.04)" fill="#76616c"/></g></g>
<g clip-path="url(#cG)"><g clip-path="url(#cB)"><ellipse cx="154.54" cy="458.81" rx="20.32" ry="21.83" transform="rotate(-168.70 154.54 458.81)" fill="#287d82"/></g></g>
<g clip-path="url(#cG)"><g clip-path="url(#cR)"><ellipse cx="154.54" cy="458.81" rx="20.32" ry="21.83" transform="rotate(-168.70 154.54 458.81)" fill="#8a6a62"/></g></g>
<g clip-path="url(#cB)"><g clip-path="url(#cR)"><ellipse cx="154.54" cy="458.81" rx="20.32" ry="21.83" transform="rotate(-168.70 154.54 458.81)" fill="#75617a"/></g></g>
<g clip-path="url(#cG)"><g clip-path="url(#cB)"><g clip-path="url(#cR)"><ellipse cx="154.54" cy="458.81" rx="20.32" ry="21.83" transform="rotate(-168.70 154.54 458.81)" fill="#74606e"/></g></g></g>
<defs><clipPath id="dG"><ellipse cx="408.09" cy="425.13" rx="37.16" ry="59.72" transform="rotate(-126.39 408.09 425.13)"/></clipPath><clipPath id="dB"><ellipse cx="372.71" cy="445.17" rx="47.95" ry="21.11" transform="rotate(-133.70 372.71 445.17)"/></clipPath><clipPath id="dR"><ellipse cx="361.22" cy="471.89" rx="18.67" ry="20.97" transform="rotate(-32.28 361.22 471.89)"/></clipPath><clipPath id="dL"><ellipse cx="396.56" cy="474.39" rx="26.31" ry="34.12" transform="rotate(-142.03 396.56 474.39)"/></clipPath></defs>
<ellipse cx="408.09" cy="425.13" rx="37.16" ry="59.72" transform="rotate(-126.39 408.09 425.13)" fill="#82c87c"/>
<ellipse cx="372.71" cy="445.17" rx="47.95" ry="21.11" transform="rotate(-133.70 372.71 445.17)" fill="#8694b6"/>
<ellipse cx="361.22" cy="471.89" rx="18.67" ry="20.97" transform="rotate(-32.28 361.22 471.89)" fill="#d8766a"/>
<ellipse cx="396.56" cy="474.39" rx="26.31" ry="34.12" transform="rotate(-142.03 396.56 474.39)" fill="#7dc0ea"/>
<g clip-path="url(#dG)"><ellipse cx="372.71" cy="445.17" rx="47.95" ry="21.11" transform="rotate(-133.70 372.71 445.17)" fill="#4b8280"/></g>
<g clip-path="url(#dG)"><ellipse cx="361.22" cy="471.89" rx="18.67" ry="20.97" transform="rotate(-32.28 361.22 471.89)" fill="#b4704b"/></g>
<g clip-path="url(#dG)"><ellipse cx="396.56" cy="474.39" rx="26.31" ry="34.12" transform="rotate(-142.03 396.56 474.39)" fill="#50b4c8"/></g>
<g clip-path="url(#dB)"><ellipse cx="361.22" cy="471.89" rx="18.67" ry="20.97" transform="rotate(-32.28 361.22 471.89)" fill="#76607d"/></g>
<g clip-path="url(#dB)"><ellipse cx="396.56" cy="474.39" rx="26.31" ry="34.12" transform="rotate(-142.03 396.56 474.39)" fill="#4b80ac"/></g>
<g clip-path="url(#dR)"><ellipse cx="396.56" cy="474.39" rx="26.31" ry="34.12" transform="rotate(-142.03 396.56 474.39)" fill="#b96e73"/></g>
<g clip-path="url(#dG)"><g clip-path="url(#dB)"><ellipse cx="361.22" cy="471.89" rx="18.67" ry="20.97" transform="rotate(-32.28 361.22 471.89)" fill="#7a6270"/></g></g>
<g clip-path="url(#dG)"><g clip-path="url(#dB)"><ellipse cx="396.56" cy="474.39" rx="26.31" ry="34.12" transform="rotate(-142.03 396.56 474.39)" fill="#2d7aa0"/></g></g>
<g clip-path="url(#dG)"><g clip-path="url(#dR)"><ellipse cx="396.56" cy="474.39" rx="26.31" ry="34.12" transform="rotate(-142.03 396.56 474.39)" fill="#8a6a80"/></g></g>
<g clip-path="url(#dB)"><g clip-path="url(#dR)"><ellipse cx="396.56" cy="474.39" rx="26.31" ry="34.12" transform="rotate(-142.03 396.56 474.39)" fill="#6f6286"/></g></g>
<g clip-path="url(#dG)"><g clip-path="url(#dB)"><g clip-path="url(#dR)"><ellipse cx="396.56" cy="474.39" rx="26.31" ry="34.12" transform="rotate(-142.03 396.56 474.39)" fill="#6a5f80"/></g></g></g>
<text x="128.5" y="356.3" font-size="10.3" fill="#333" text-anchor="middle">Downregulated proteins</text>
<text x="380.5" y="355.9" font-size="10.3" fill="#333" text-anchor="middle">Upregulated proteins</text>
<text x="213.1" y="374.6" font-size="8.3" fill="#333" text-anchor="start">GFI1B</text>
<text x="213.1" y="384.4" font-size="8.3" fill="#333" text-anchor="start">Q287*</text>
<text x="61.3" y="412.9" font-size="8.3" fill="#333" text-anchor="middle">RUNX1</text>
<text x="61.3" y="422.7" font-size="8.3" fill="#333" text-anchor="middle">TD2-6</text>
<text x="35.2" y="481.7" font-size="8.3" fill="#333" text-anchor="middle">RUNX1</text>
<text x="35.2" y="491.5" font-size="8.3" fill="#333" text-anchor="middle">Q154Rfs</text>
<text x="186.2" y="479.0" font-size="8.3" fill="#333" text-anchor="start">GATA1</text>
<text x="186.2" y="488.8" font-size="8.3" fill="#333" text-anchor="start">R216Q</text>
<text x="455.9" y="368.8" font-size="8.3" fill="#333" text-anchor="start">GFI1B</text>
<text x="455.9" y="378.6" font-size="8.3" fill="#333" text-anchor="start">Q287*</text>
<text x="329.7" y="382.9" font-size="8.3" fill="#333" text-anchor="middle">RUNX1</text>
<text x="329.7" y="392.7" font-size="8.3" fill="#333" text-anchor="middle">TD2-6</text>
<text x="300.8" y="448.8" font-size="8.3" fill="#333" text-anchor="middle">RUNX1</text>
<text x="300.8" y="458.6" font-size="8.3" fill="#333" text-anchor="middle">Q154Rfs</text>
<text x="455.8" y="448.8" font-size="8.3" fill="#333" text-anchor="start">GATA1</text>
<text x="455.8" y="458.6" font-size="8.3" fill="#333" text-anchor="start">R216Q</text>
<text x="96.9" y="437.9" font-size="8.3" fill="#222" text-anchor="middle">8</text>
<text x="123.5" y="450.1" font-size="8.3" fill="#222" text-anchor="middle">13</text>
<text x="154.2" y="450.1" font-size="8.3" fill="#222" text-anchor="middle">3</text>
<text x="143.5" y="461.7" font-size="8.3" fill="#222" text-anchor="middle">4</text>
<text x="123.5" y="467.2" font-size="8.3" fill="#222" text-anchor="middle">10</text>
<text x="165.7" y="467.2" font-size="8.3" fill="#222" text-anchor="middle">2</text>
<text x="106.2" y="473.7" font-size="8.3" fill="#222" text-anchor="middle">12</text>
<text x="154.2" y="473.7" font-size="8.3" fill="#222" text-anchor="middle">1</text>
<text x="81.6" y="477.8" font-size="8.3" fill="#222" text-anchor="middle">17</text>
<text x="165.8" y="420.8" font-size="8.3" fill="#222" text-anchor="middle">74</text>
<text x="419.8" y="418.4" font-size="8.3" fill="#222" text-anchor="middle">106</text>
<text x="350.7" y="425.9" font-size="8.3" fill="#222" text-anchor="middle">11</text>
<text x="373.6" y="438.3" font-size="8.3" fill="#222" text-anchor="middle">14</text>
<text x="414" y="459.6" font-size="8.3" fill="#222" text-anchor="middle">4</text>
<text x="363.7" y="462.3" font-size="8.3" fill="#222" text-anchor="middle">1</text>
<text x="395.4" y="462.3" font-size="8.3" fill="#222" text-anchor="middle">11</text>
<text x="354.8" y="477.9" font-size="8.3" fill="#222" text-anchor="middle">9</text>
<text x="400.8" y="481.4" font-size="8.3" fill="#222" text-anchor="middle">1</text>
<text x="372.5" y="487.3" font-size="8.3" fill="#222" text-anchor="middle">1</text>
<text x="408.1" y="492.2" font-size="8.3" fill="#222" text-anchor="middle">13</text>
</svg></body></html>
